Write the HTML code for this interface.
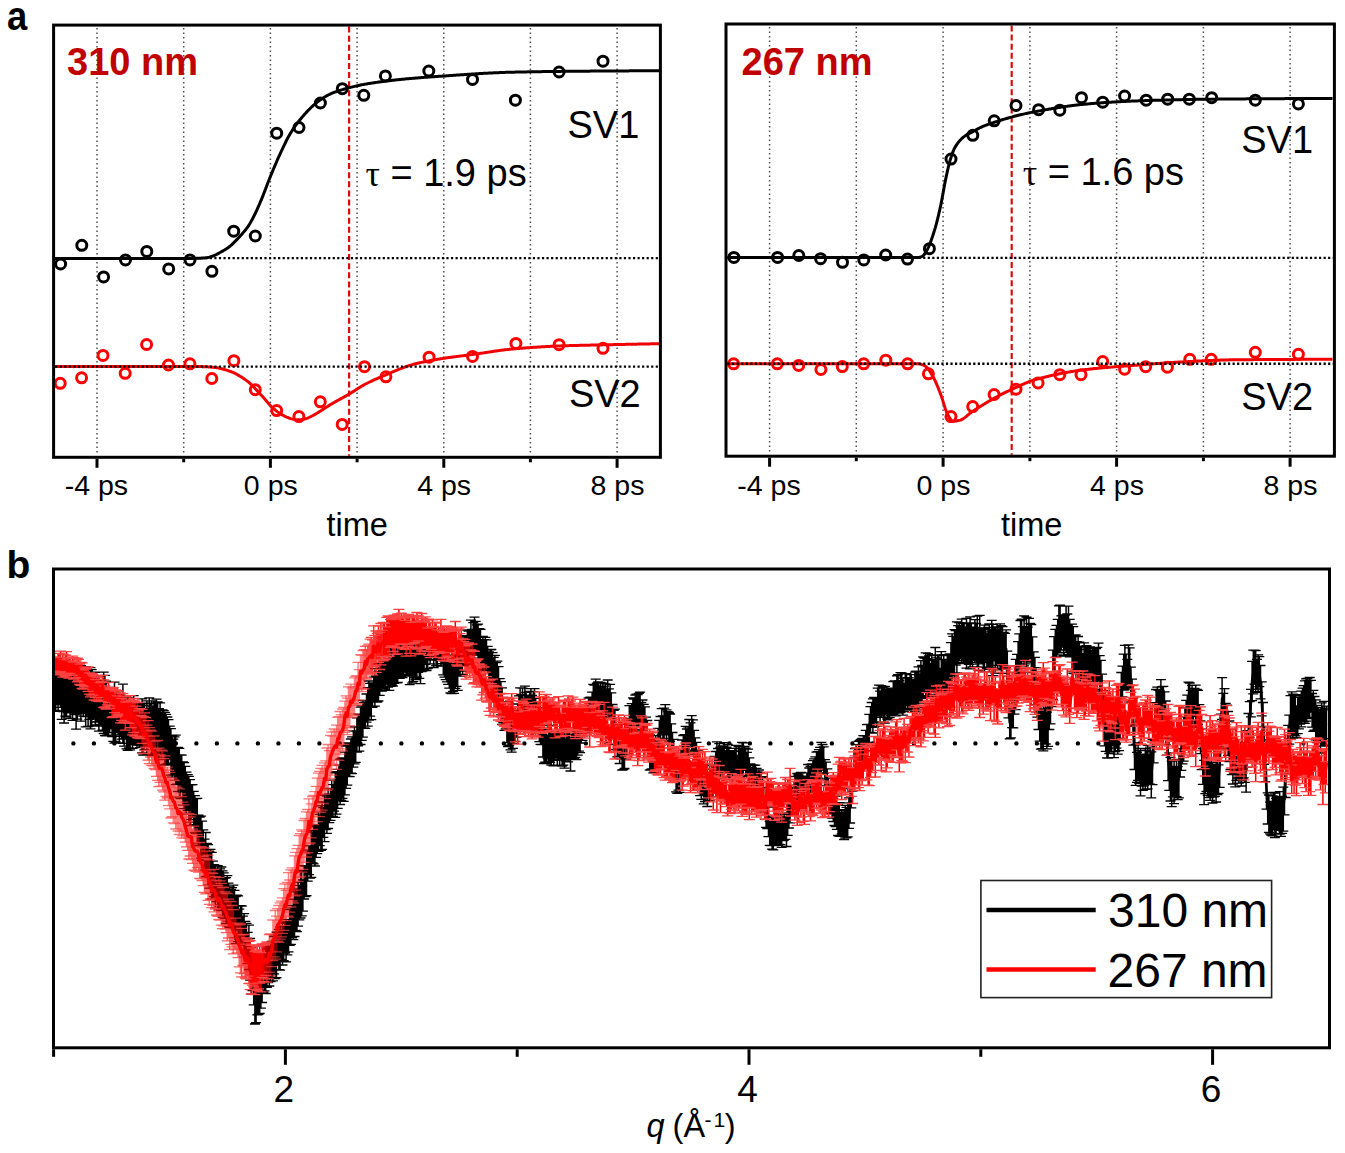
<!DOCTYPE html><html><head><meta charset="utf-8"><style>html,body{margin:0;padding:0;background:#fff;}body{width:1345px;height:1153px;overflow:hidden;}svg{display:block;}text{font-family:"Liberation Sans",sans-serif;}</style></head><body>
<svg width="1345" height="1153" viewBox="0 0 1345 1153">
<rect width="1345" height="1153" fill="#fff"/>
<line x1="97.0" y1="28.1" x2="97.0" y2="455.3" stroke="#505050" stroke-width="1.5" stroke-dasharray="1.4 3.1"/>
<line x1="183.7" y1="28.1" x2="183.7" y2="455.3" stroke="#505050" stroke-width="1.5" stroke-dasharray="1.4 3.1"/>
<line x1="270.4" y1="28.1" x2="270.4" y2="455.3" stroke="#505050" stroke-width="1.5" stroke-dasharray="1.4 3.1"/>
<line x1="357.1" y1="28.1" x2="357.1" y2="455.3" stroke="#505050" stroke-width="1.5" stroke-dasharray="1.4 3.1"/>
<line x1="443.8" y1="28.1" x2="443.8" y2="455.3" stroke="#505050" stroke-width="1.5" stroke-dasharray="1.4 3.1"/>
<line x1="530.4" y1="28.1" x2="530.4" y2="455.3" stroke="#505050" stroke-width="1.5" stroke-dasharray="1.4 3.1"/>
<line x1="617.1" y1="28.1" x2="617.1" y2="455.3" stroke="#505050" stroke-width="1.5" stroke-dasharray="1.4 3.1"/>
<text x="67.1" y="75.4" font-size="38" font-weight="bold" fill="#c00000">310 nm</text>
<text x="567.5" y="137.6" font-size="38">SV1</text>
<text x="568.9" y="406.7" font-size="38">SV2</text>
<text x="365.4" y="186.1" font-size="38"><tspan font-family="Liberation Serif" font-size="36">&#964;</tspan> = 1.9 ps</text>
<line x1="349.1" y1="26.6" x2="349.1" y2="455.8" stroke="#dc0a0a" stroke-width="2.2" stroke-dasharray="6 3.1"/>
<path d="M54.6 258.50L55.6 258.50L56.6 258.50L57.6 258.50L58.6 258.50L59.6 258.50L60.6 258.50L61.6 258.50L62.6 258.50L63.6 258.50L64.6 258.50L65.6 258.50L66.6 258.50L67.6 258.50L68.6 258.50L69.6 258.50L70.6 258.50L71.6 258.50L72.6 258.50L73.6 258.50L74.6 258.50L75.6 258.50L76.6 258.50L77.6 258.50L78.6 258.50L79.6 258.50L80.6 258.50L81.6 258.50L82.6 258.50L83.6 258.50L84.6 258.50L85.6 258.50L86.6 258.50L87.6 258.50L88.6 258.50L89.6 258.50L90.6 258.50L91.6 258.50L92.6 258.50L93.6 258.50L94.6 258.50L95.6 258.50L96.6 258.50L97.6 258.50L98.6 258.50L99.6 258.50L100.6 258.50L101.6 258.50L102.6 258.50L103.6 258.50L104.6 258.50L105.6 258.50L106.6 258.50L107.6 258.50L108.6 258.50L109.6 258.50L110.6 258.50L111.6 258.50L112.6 258.50L113.6 258.50L114.6 258.50L115.6 258.50L116.6 258.50L117.6 258.50L118.6 258.50L119.6 258.50L120.6 258.50L121.6 258.50L122.6 258.50L123.6 258.50L124.6 258.50L125.6 258.50L126.6 258.50L127.6 258.50L128.6 258.50L129.6 258.50L130.6 258.50L131.6 258.50L132.6 258.50L133.6 258.50L134.6 258.50L135.6 258.50L136.6 258.50L137.6 258.50L138.6 258.50L139.6 258.50L140.6 258.50L141.6 258.50L142.6 258.50L143.6 258.50L144.6 258.50L145.6 258.50L146.6 258.50L147.6 258.50L148.6 258.50L149.6 258.50L150.6 258.50L151.6 258.50L152.6 258.50L153.6 258.50L154.6 258.50L155.6 258.50L156.6 258.50L157.6 258.50L158.6 258.50L159.6 258.50L160.6 258.50L161.6 258.50L162.6 258.50L163.6 258.50L164.6 258.50L165.6 258.50L166.6 258.50L167.6 258.50L168.6 258.50L169.6 258.50L170.6 258.50L171.6 258.50L172.6 258.50L173.6 258.50L174.6 258.50L175.6 258.50L176.6 258.50L177.6 258.50L178.6 258.50L179.6 258.50L180.6 258.50L181.6 258.50L182.6 258.50L183.6 258.50L184.6 258.50L185.6 258.50L186.6 258.50L187.6 258.50L188.6 258.50L189.6 258.50L190.6 258.50L191.6 258.49L192.6 258.48L193.6 258.46L194.6 258.44L195.6 258.41L196.6 258.37L197.6 258.33L198.6 258.29L199.6 258.24L200.6 258.18L201.6 258.12L202.6 258.05L203.6 257.98L204.6 257.91L205.6 257.83L206.6 257.74L207.6 257.58L208.6 257.36L209.6 257.10L210.6 256.79L211.6 256.46L212.6 256.11L213.6 255.74L214.6 255.37L215.6 254.94L216.6 254.45L217.6 253.92L218.6 253.37L219.6 252.80L220.6 252.23L221.6 251.66L222.6 251.10L223.6 250.52L224.6 249.93L225.6 249.32L226.6 248.68L227.6 248.01L228.6 247.30L229.6 246.54L230.6 245.70L231.6 244.81L232.6 243.87L233.6 242.90L234.6 241.91L235.6 240.90L236.6 239.89L237.6 238.86L238.6 237.80L239.6 236.71L240.6 235.60L241.6 234.46L242.6 233.30L243.6 232.14L244.6 230.96L245.6 229.74L246.6 228.45L247.6 227.08L248.6 225.60L249.6 224.01L250.6 222.32L251.6 220.53L252.6 218.68L253.6 216.76L254.6 214.80L255.6 212.78L256.6 210.66L257.6 208.44L258.6 206.16L259.6 203.82L260.6 201.45L261.6 199.06L262.6 196.58L263.6 194.04L264.6 191.45L265.6 188.84L266.6 186.21L267.6 183.59L268.6 181.01L269.6 178.47L270.6 176.00L271.6 173.58L272.6 171.17L273.6 168.78L274.6 166.41L275.6 164.06L276.6 161.75L277.6 159.47L278.6 157.22L279.6 155.02L280.6 152.85L281.6 150.69L282.6 148.53L283.6 146.39L284.6 144.28L285.6 142.22L286.6 140.21L287.6 138.27L288.6 136.42L289.6 134.67L290.6 133.02L291.6 131.42L292.6 129.87L293.6 128.37L294.6 126.92L295.6 125.50L296.6 124.13L297.6 122.79L298.6 121.50L299.6 120.23L300.6 119.00L301.6 117.81L302.6 116.63L303.6 115.48L304.6 114.34L305.6 113.22L306.6 112.12L307.6 111.05L308.6 109.99L309.6 108.97L310.6 107.97L311.6 107.00L312.6 106.06L313.6 105.15L314.6 104.28L315.6 103.45L316.6 102.65L317.6 101.89L318.6 101.14L319.6 100.41L320.6 99.70L321.6 99.01L322.6 98.33L323.6 97.68L324.6 97.05L325.6 96.44L326.6 95.86L327.6 95.30L328.6 94.77L329.6 94.28L330.6 93.81L331.6 93.37L332.6 92.96L333.6 92.56L334.6 92.18L335.6 91.81L336.6 91.46L337.6 91.12L338.6 90.79L339.6 90.47L340.6 90.16L341.6 89.86L342.6 89.57L343.6 89.28L344.6 89.00L345.6 88.73L346.6 88.46L347.6 88.19L348.6 87.92L349.6 87.66L350.6 87.39L351.6 87.14L352.6 86.88L353.6 86.63L354.6 86.39L355.6 86.15L356.6 85.92L357.6 85.69L358.6 85.47L359.6 85.25L360.6 85.04L361.6 84.84L362.6 84.65L363.6 84.46L364.6 84.28L365.6 84.11L366.6 83.94L367.6 83.77L368.6 83.60L369.6 83.44L370.6 83.28L371.6 83.12L372.6 82.96L373.6 82.81L374.6 82.66L375.6 82.51L376.6 82.36L377.6 82.22L378.6 82.07L379.6 81.93L380.6 81.80L381.6 81.66L382.6 81.53L383.6 81.40L384.6 81.27L385.6 81.14L386.6 81.01L387.6 80.89L388.6 80.77L389.6 80.65L390.6 80.53L391.6 80.41L392.6 80.30L393.6 80.18L394.6 80.07L395.6 79.96L396.6 79.86L397.6 79.75L398.6 79.64L399.6 79.54L400.6 79.44L401.6 79.34L402.6 79.24L403.6 79.14L404.6 79.05L405.6 78.95L406.6 78.86L407.6 78.77L408.6 78.67L409.6 78.59L410.6 78.50L411.6 78.41L412.6 78.32L413.6 78.24L414.6 78.15L415.6 78.07L416.6 77.99L417.6 77.91L418.6 77.83L419.6 77.75L420.6 77.67L421.6 77.59L422.6 77.51L423.6 77.44L424.6 77.36L425.6 77.29L426.6 77.21L427.6 77.14L428.6 77.07L429.6 76.99L430.6 76.92L431.6 76.85L432.6 76.78L433.6 76.71L434.6 76.64L435.6 76.57L436.6 76.50L437.6 76.43L438.6 76.37L439.6 76.30L440.6 76.23L441.6 76.16L442.6 76.09L443.6 76.02L444.6 75.95L445.6 75.88L446.6 75.81L447.6 75.74L448.6 75.67L449.6 75.60L450.6 75.53L451.6 75.46L452.6 75.39L453.6 75.32L454.6 75.25L455.6 75.18L456.6 75.11L457.6 75.04L458.6 74.97L459.6 74.90L460.6 74.83L461.6 74.76L462.6 74.69L463.6 74.63L464.6 74.56L465.6 74.49L466.6 74.42L467.6 74.36L468.6 74.29L469.6 74.22L470.6 74.16L471.6 74.09L472.6 74.03L473.6 73.97L474.6 73.90L475.6 73.84L476.6 73.78L477.6 73.72L478.6 73.66L479.6 73.60L480.6 73.54L481.6 73.48L482.6 73.42L483.6 73.36L484.6 73.31L485.6 73.25L486.6 73.20L487.6 73.15L488.6 73.09L489.6 73.04L490.6 72.99L491.6 72.94L492.6 72.89L493.6 72.85L494.6 72.80L495.6 72.75L496.6 72.71L497.6 72.67L498.6 72.63L499.6 72.59L500.6 72.55L501.6 72.51L502.6 72.47L503.6 72.44L504.6 72.40L505.6 72.37L506.6 72.34L507.6 72.31L508.6 72.28L509.6 72.25L510.6 72.23L511.6 72.20L512.6 72.18L513.6 72.16L514.6 72.13L515.6 72.11L516.6 72.09L517.6 72.07L518.6 72.05L519.6 72.03L520.6 72.01L521.6 71.98L522.6 71.96L523.6 71.94L524.6 71.93L525.6 71.91L526.6 71.89L527.6 71.87L528.6 71.85L529.6 71.83L530.6 71.81L531.6 71.79L532.6 71.78L533.6 71.76L534.6 71.74L535.6 71.73L536.6 71.71L537.6 71.69L538.6 71.68L539.6 71.66L540.6 71.65L541.6 71.63L542.6 71.62L543.6 71.60L544.6 71.59L545.6 71.57L546.6 71.56L547.6 71.54L548.6 71.53L549.6 71.52L550.6 71.50L551.6 71.49L552.6 71.48L553.6 71.46L554.6 71.45L555.6 71.44L556.6 71.43L557.6 71.41L558.6 71.40L559.6 71.39L560.6 71.38L561.6 71.37L562.6 71.36L563.6 71.35L564.6 71.34L565.6 71.33L566.6 71.32L567.6 71.31L568.6 71.30L569.6 71.29L570.6 71.28L571.6 71.27L572.6 71.26L573.6 71.25L574.6 71.24L575.6 71.24L576.6 71.23L577.6 71.22L578.6 71.21L579.6 71.20L580.6 71.20L581.6 71.19L582.6 71.18L583.6 71.17L584.6 71.17L585.6 71.16L586.6 71.15L587.6 71.14L588.6 71.13L589.6 71.13L590.6 71.12L591.6 71.11L592.6 71.10L593.6 71.10L594.6 71.09L595.6 71.08L596.6 71.08L597.6 71.07L598.6 71.06L599.6 71.05L600.6 71.05L601.6 71.04L602.6 71.03L603.6 71.03L604.6 71.02L605.6 71.01L606.6 71.01L607.6 71.00L608.6 70.99L609.6 70.99L610.6 70.98L611.6 70.97L612.6 70.97L613.6 70.96L614.6 70.95L615.6 70.95L616.6 70.94L617.6 70.94L618.6 70.93L619.6 70.92L620.6 70.92L621.6 70.91L622.6 70.91L623.6 70.90L624.6 70.90L625.6 70.89L626.6 70.89L627.6 70.88L628.6 70.88L629.6 70.87L630.6 70.87L631.6 70.86L632.6 70.86L633.6 70.86L634.6 70.85L635.6 70.85L636.6 70.84L637.6 70.84L638.6 70.84L639.6 70.83L640.6 70.83L641.6 70.83L642.6 70.82L643.6 70.82L644.6 70.82L645.6 70.82L646.6 70.81L647.6 70.81L648.6 70.81L649.6 70.81L650.6 70.81L651.6 70.81L652.6 70.80L653.6 70.80L654.6 70.80L655.6 70.80L656.6 70.80L657.6 70.80L658.6 70.80L659.0 70.80" fill="none" stroke="#000" stroke-width="3" stroke-linejoin="round"/>
<path d="M54.6 366.60L55.6 366.60L56.6 366.60L57.6 366.60L58.6 366.60L59.6 366.60L60.6 366.60L61.6 366.60L62.6 366.60L63.6 366.60L64.6 366.60L65.6 366.60L66.6 366.60L67.6 366.60L68.6 366.60L69.6 366.60L70.6 366.60L71.6 366.60L72.6 366.60L73.6 366.60L74.6 366.60L75.6 366.60L76.6 366.60L77.6 366.60L78.6 366.60L79.6 366.60L80.6 366.60L81.6 366.60L82.6 366.60L83.6 366.60L84.6 366.60L85.6 366.60L86.6 366.60L87.6 366.60L88.6 366.60L89.6 366.60L90.6 366.60L91.6 366.60L92.6 366.60L93.6 366.60L94.6 366.60L95.6 366.60L96.6 366.60L97.6 366.60L98.6 366.60L99.6 366.60L100.6 366.60L101.6 366.60L102.6 366.60L103.6 366.60L104.6 366.60L105.6 366.60L106.6 366.60L107.6 366.60L108.6 366.60L109.6 366.60L110.6 366.60L111.6 366.60L112.6 366.60L113.6 366.60L114.6 366.60L115.6 366.60L116.6 366.60L117.6 366.60L118.6 366.60L119.6 366.60L120.6 366.60L121.6 366.60L122.6 366.60L123.6 366.60L124.6 366.60L125.6 366.60L126.6 366.60L127.6 366.60L128.6 366.60L129.6 366.60L130.6 366.60L131.6 366.60L132.6 366.60L133.6 366.60L134.6 366.60L135.6 366.60L136.6 366.60L137.6 366.60L138.6 366.60L139.6 366.60L140.6 366.60L141.6 366.60L142.6 366.60L143.6 366.60L144.6 366.60L145.6 366.60L146.6 366.60L147.6 366.60L148.6 366.60L149.6 366.60L150.6 366.60L151.6 366.60L152.6 366.60L153.6 366.60L154.6 366.60L155.6 366.60L156.6 366.60L157.6 366.60L158.6 366.60L159.6 366.60L160.6 366.60L161.6 366.60L162.6 366.60L163.6 366.60L164.6 366.60L165.6 366.60L166.6 366.60L167.6 366.60L168.6 366.60L169.6 366.60L170.6 366.60L171.6 366.60L172.6 366.60L173.6 366.60L174.6 366.60L175.6 366.60L176.6 366.60L177.6 366.60L178.6 366.60L179.6 366.60L180.6 366.60L181.6 366.60L182.6 366.60L183.6 366.60L184.6 366.60L185.6 366.60L186.6 366.60L187.6 366.60L188.6 366.60L189.6 366.60L190.6 366.60L191.6 366.60L192.6 366.60L193.6 366.60L194.6 366.60L195.6 366.60L196.6 366.60L197.6 366.60L198.6 366.60L199.6 366.60L200.6 366.60L201.6 366.61L202.6 366.64L203.6 366.67L204.6 366.71L205.6 366.76L206.6 366.81L207.6 366.87L208.6 366.94L209.6 367.02L210.6 367.10L211.6 367.19L212.6 367.27L213.6 367.37L214.6 367.46L215.6 367.56L216.6 367.69L217.6 367.84L218.6 368.02L219.6 368.23L220.6 368.45L221.6 368.69L222.6 368.95L223.6 369.23L224.6 369.52L225.6 369.83L226.6 370.15L227.6 370.48L228.6 370.81L229.6 371.16L230.6 371.51L231.6 371.88L232.6 372.29L233.6 372.73L234.6 373.19L235.6 373.69L236.6 374.21L237.6 374.76L238.6 375.33L239.6 375.92L240.6 376.54L241.6 377.17L242.6 377.82L243.6 378.50L244.6 379.19L245.6 379.89L246.6 380.61L247.6 381.35L248.6 382.15L249.6 383.01L250.6 383.92L251.6 384.88L252.6 385.88L253.6 386.90L254.6 387.96L255.6 389.03L256.6 390.12L257.6 391.21L258.6 392.30L259.6 393.39L260.6 394.46L261.6 395.52L262.6 396.61L263.6 397.73L264.6 398.89L265.6 400.05L266.6 401.23L267.6 402.40L268.6 403.55L269.6 404.67L270.6 405.75L271.6 406.78L272.6 407.75L273.6 408.65L274.6 409.51L275.6 410.34L276.6 411.12L277.6 411.87L278.6 412.58L279.6 413.25L280.6 413.87L281.6 414.48L282.6 415.06L283.6 415.61L284.6 416.13L285.6 416.62L286.6 417.07L287.6 417.48L288.6 417.88L289.6 418.26L290.6 418.61L291.6 418.91L292.6 419.13L293.6 419.29L294.6 419.43L295.6 419.56L296.6 419.66L297.6 419.74L298.6 419.79L299.6 419.80L300.6 419.73L301.6 419.60L302.6 419.42L303.6 419.20L304.6 418.96L305.6 418.70L306.6 418.43L307.6 418.10L308.6 417.70L309.6 417.25L310.6 416.76L311.6 416.25L312.6 415.72L313.6 415.20L314.6 414.66L315.6 414.08L316.6 413.47L317.6 412.84L318.6 412.20L319.6 411.55L320.6 410.90L321.6 410.25L322.6 409.62L323.6 408.98L324.6 408.33L325.6 407.68L326.6 407.03L327.6 406.39L328.6 405.75L329.6 405.13L330.6 404.52L331.6 403.92L332.6 403.34L333.6 402.76L334.6 402.20L335.6 401.63L336.6 401.08L337.6 400.52L338.6 399.98L339.6 399.43L340.6 398.88L341.6 398.34L342.6 397.79L343.6 397.24L344.6 396.68L345.6 396.13L346.6 395.56L347.6 394.99L348.6 394.41L349.6 393.82L350.6 393.22L351.6 392.60L352.6 391.97L353.6 391.33L354.6 390.68L355.6 390.03L356.6 389.38L357.6 388.73L358.6 388.09L359.6 387.46L360.6 386.84L361.6 386.24L362.6 385.65L363.6 385.09L364.6 384.55L365.6 384.02L366.6 383.51L367.6 383.00L368.6 382.50L369.6 382.01L370.6 381.53L371.6 381.05L372.6 380.58L373.6 380.12L374.6 379.67L375.6 379.21L376.6 378.77L377.6 378.33L378.6 377.89L379.6 377.46L380.6 377.03L381.6 376.61L382.6 376.18L383.6 375.76L384.6 375.34L385.6 374.92L386.6 374.51L387.6 374.09L388.6 373.67L389.6 373.24L390.6 372.82L391.6 372.40L392.6 371.97L393.6 371.55L394.6 371.13L395.6 370.71L396.6 370.30L397.6 369.89L398.6 369.48L399.6 369.08L400.6 368.68L401.6 368.29L402.6 367.91L403.6 367.53L404.6 367.16L405.6 366.80L406.6 366.45L407.6 366.11L408.6 365.78L409.6 365.46L410.6 365.15L411.6 364.85L412.6 364.57L413.6 364.30L414.6 364.04L415.6 363.78L416.6 363.54L417.6 363.29L418.6 363.05L419.6 362.82L420.6 362.59L421.6 362.36L422.6 362.14L423.6 361.93L424.6 361.72L425.6 361.51L426.6 361.31L427.6 361.11L428.6 360.91L429.6 360.72L430.6 360.53L431.6 360.34L432.6 360.16L433.6 359.98L434.6 359.80L435.6 359.63L436.6 359.45L437.6 359.28L438.6 359.12L439.6 358.95L440.6 358.79L441.6 358.62L442.6 358.46L443.6 358.31L444.6 358.15L445.6 358.00L446.6 357.85L447.6 357.70L448.6 357.56L449.6 357.42L450.6 357.29L451.6 357.15L452.6 357.02L453.6 356.89L454.6 356.76L455.6 356.63L456.6 356.50L457.6 356.38L458.6 356.25L459.6 356.13L460.6 356.01L461.6 355.88L462.6 355.76L463.6 355.64L464.6 355.51L465.6 355.39L466.6 355.26L467.6 355.14L468.6 355.01L469.6 354.88L470.6 354.75L471.6 354.62L472.6 354.49L473.6 354.35L474.6 354.21L475.6 354.07L476.6 353.93L477.6 353.78L478.6 353.63L479.6 353.49L480.6 353.34L481.6 353.18L482.6 353.03L483.6 352.88L484.6 352.73L485.6 352.57L486.6 352.42L487.6 352.26L488.6 352.11L489.6 351.96L490.6 351.81L491.6 351.65L492.6 351.50L493.6 351.35L494.6 351.21L495.6 351.06L496.6 350.92L497.6 350.77L498.6 350.63L499.6 350.50L500.6 350.36L501.6 350.23L502.6 350.10L503.6 349.97L504.6 349.85L505.6 349.73L506.6 349.62L507.6 349.51L508.6 349.40L509.6 349.30L510.6 349.20L511.6 349.11L512.6 349.02L513.6 348.93L514.6 348.84L515.6 348.76L516.6 348.67L517.6 348.59L518.6 348.50L519.6 348.42L520.6 348.33L521.6 348.25L522.6 348.17L523.6 348.09L524.6 348.01L525.6 347.94L526.6 347.86L527.6 347.78L528.6 347.71L529.6 347.63L530.6 347.56L531.6 347.49L532.6 347.42L533.6 347.35L534.6 347.28L535.6 347.21L536.6 347.14L537.6 347.08L538.6 347.01L539.6 346.95L540.6 346.89L541.6 346.83L542.6 346.77L543.6 346.71L544.6 346.65L545.6 346.60L546.6 346.54L547.6 346.49L548.6 346.44L549.6 346.38L550.6 346.33L551.6 346.29L552.6 346.24L553.6 346.19L554.6 346.15L555.6 346.10L556.6 346.06L557.6 346.02L558.6 345.98L559.6 345.94L560.6 345.91L561.6 345.87L562.6 345.84L563.6 345.80L564.6 345.77L565.6 345.74L566.6 345.71L567.6 345.68L568.6 345.65L569.6 345.62L570.6 345.59L571.6 345.56L572.6 345.53L573.6 345.50L574.6 345.48L575.6 345.45L576.6 345.43L577.6 345.40L578.6 345.38L579.6 345.35L580.6 345.33L581.6 345.30L582.6 345.28L583.6 345.26L584.6 345.23L585.6 345.21L586.6 345.19L587.6 345.17L588.6 345.15L589.6 345.13L590.6 345.10L591.6 345.08L592.6 345.06L593.6 345.04L594.6 345.02L595.6 345.00L596.6 344.98L597.6 344.96L598.6 344.94L599.6 344.92L600.6 344.90L601.6 344.88L602.6 344.86L603.6 344.84L604.6 344.81L605.6 344.79L606.6 344.77L607.6 344.75L608.6 344.73L609.6 344.71L610.6 344.68L611.6 344.66L612.6 344.64L613.6 344.62L614.6 344.60L615.6 344.57L616.6 344.55L617.6 344.53L618.6 344.51L619.6 344.49L620.6 344.47L621.6 344.44L622.6 344.42L623.6 344.40L624.6 344.38L625.6 344.36L626.6 344.34L627.6 344.32L628.6 344.30L629.6 344.28L630.6 344.26L631.6 344.23L632.6 344.21L633.6 344.19L634.6 344.17L635.6 344.15L636.6 344.13L637.6 344.11L638.6 344.09L639.6 344.07L640.6 344.05L641.6 344.03L642.6 344.01L643.6 343.99L644.6 343.97L645.6 343.95L646.6 343.93L647.6 343.91L648.6 343.90L649.6 343.88L650.6 343.86L651.6 343.84L652.6 343.82L653.6 343.80L654.6 343.78L655.6 343.76L656.6 343.74L657.6 343.73L658.6 343.71L659.0 343.70" fill="none" stroke="#f00000" stroke-width="3" stroke-linejoin="round"/>
<circle cx="60.6" cy="264.0" r="5" fill="none" stroke="#000" stroke-width="3"/>
<circle cx="81.8" cy="245.3" r="5" fill="none" stroke="#000" stroke-width="3"/>
<circle cx="103.6" cy="276.9" r="5" fill="none" stroke="#000" stroke-width="3"/>
<circle cx="125.5" cy="259.9" r="5" fill="none" stroke="#000" stroke-width="3"/>
<circle cx="146.8" cy="251.4" r="5" fill="none" stroke="#000" stroke-width="3"/>
<circle cx="168.7" cy="268.9" r="5" fill="none" stroke="#000" stroke-width="3"/>
<circle cx="190.0" cy="259.9" r="5" fill="none" stroke="#000" stroke-width="3"/>
<circle cx="211.9" cy="271.3" r="5" fill="none" stroke="#000" stroke-width="3"/>
<circle cx="233.7" cy="231.2" r="5" fill="none" stroke="#000" stroke-width="3"/>
<circle cx="255.3" cy="236.0" r="5" fill="none" stroke="#000" stroke-width="3"/>
<circle cx="276.7" cy="133.2" r="5" fill="none" stroke="#000" stroke-width="3"/>
<circle cx="299.0" cy="127.5" r="5" fill="none" stroke="#000" stroke-width="3"/>
<circle cx="320.4" cy="103.0" r="5" fill="none" stroke="#000" stroke-width="3"/>
<circle cx="342.3" cy="88.7" r="5" fill="none" stroke="#000" stroke-width="3"/>
<circle cx="363.8" cy="95.3" r="5" fill="none" stroke="#000" stroke-width="3"/>
<circle cx="385.4" cy="75.9" r="5" fill="none" stroke="#000" stroke-width="3"/>
<circle cx="428.8" cy="71.0" r="5" fill="none" stroke="#000" stroke-width="3"/>
<circle cx="472.5" cy="79.4" r="5" fill="none" stroke="#000" stroke-width="3"/>
<circle cx="515.4" cy="100.2" r="5" fill="none" stroke="#000" stroke-width="3"/>
<circle cx="559.1" cy="72.0" r="5" fill="none" stroke="#000" stroke-width="3"/>
<circle cx="603.0" cy="61.2" r="5" fill="none" stroke="#000" stroke-width="3"/>
<circle cx="60.2" cy="383.3" r="5" fill="none" stroke="#ff0000" stroke-width="3"/>
<circle cx="81.6" cy="377.8" r="5" fill="none" stroke="#ff0000" stroke-width="3"/>
<circle cx="103.0" cy="355.4" r="5" fill="none" stroke="#ff0000" stroke-width="3"/>
<circle cx="125.2" cy="373.3" r="5" fill="none" stroke="#ff0000" stroke-width="3"/>
<circle cx="146.6" cy="344.5" r="5" fill="none" stroke="#ff0000" stroke-width="3"/>
<circle cx="168.5" cy="365.0" r="5" fill="none" stroke="#ff0000" stroke-width="3"/>
<circle cx="189.9" cy="363.8" r="5" fill="none" stroke="#ff0000" stroke-width="3"/>
<circle cx="211.8" cy="378.5" r="5" fill="none" stroke="#ff0000" stroke-width="3"/>
<circle cx="233.9" cy="360.7" r="5" fill="none" stroke="#ff0000" stroke-width="3"/>
<circle cx="255.3" cy="389.7" r="5" fill="none" stroke="#ff0000" stroke-width="3"/>
<circle cx="276.7" cy="410.6" r="5" fill="none" stroke="#ff0000" stroke-width="3"/>
<circle cx="298.9" cy="416.6" r="5" fill="none" stroke="#ff0000" stroke-width="3"/>
<circle cx="320.3" cy="401.8" r="5" fill="none" stroke="#ff0000" stroke-width="3"/>
<circle cx="342.2" cy="424.4" r="5" fill="none" stroke="#ff0000" stroke-width="3"/>
<circle cx="364.5" cy="366.7" r="5" fill="none" stroke="#ff0000" stroke-width="3"/>
<circle cx="385.9" cy="376.8" r="5" fill="none" stroke="#ff0000" stroke-width="3"/>
<circle cx="429.1" cy="357.2" r="5" fill="none" stroke="#ff0000" stroke-width="3"/>
<circle cx="472.5" cy="356.4" r="5" fill="none" stroke="#ff0000" stroke-width="3"/>
<circle cx="515.9" cy="343.4" r="5" fill="none" stroke="#ff0000" stroke-width="3"/>
<circle cx="559.1" cy="344.7" r="5" fill="none" stroke="#ff0000" stroke-width="3"/>
<circle cx="603.0" cy="348.3" r="5" fill="none" stroke="#ff0000" stroke-width="3"/>
<line x1="55.1" y1="258.1" x2="658.9" y2="258.1" stroke="#000" stroke-width="2.4" stroke-dasharray="2.2 2.35"/>
<line x1="55.1" y1="366.6" x2="658.9" y2="366.6" stroke="#000" stroke-width="2.4" stroke-dasharray="2.2 2.35"/>
<rect x="53.6" y="25.1" width="606.8" height="432.2" fill="none" stroke="#000" stroke-width="3"/>
<line x1="97.0" y1="458.8" x2="97.0" y2="467.8" stroke="#000" stroke-width="3"/>
<line x1="183.7" y1="458.8" x2="183.7" y2="462.3" stroke="#000" stroke-width="3"/>
<line x1="270.4" y1="458.8" x2="270.4" y2="467.8" stroke="#000" stroke-width="3"/>
<line x1="357.1" y1="458.8" x2="357.1" y2="462.3" stroke="#000" stroke-width="3"/>
<line x1="443.8" y1="458.8" x2="443.8" y2="467.8" stroke="#000" stroke-width="3"/>
<line x1="530.4" y1="458.8" x2="530.4" y2="462.3" stroke="#000" stroke-width="3"/>
<line x1="617.1" y1="458.8" x2="617.1" y2="467.8" stroke="#000" stroke-width="3"/>
<text x="96.4" y="495.4" font-size="28.5" text-anchor="middle">-4 ps</text>
<text x="270.8" y="495.4" font-size="28.5" text-anchor="middle">0 ps</text>
<text x="444.2" y="495.4" font-size="28.5" text-anchor="middle">4 ps</text>
<text x="617.5" y="495.4" font-size="28.5" text-anchor="middle">8 ps</text>
<text x="357.1" y="535.6" font-size="32.5" text-anchor="middle">time</text>
<line x1="769.6" y1="27.0" x2="769.6" y2="454.2" stroke="#505050" stroke-width="1.5" stroke-dasharray="1.4 3.1"/>
<line x1="856.3" y1="27.0" x2="856.3" y2="454.2" stroke="#505050" stroke-width="1.5" stroke-dasharray="1.4 3.1"/>
<line x1="943.1" y1="27.0" x2="943.1" y2="454.2" stroke="#505050" stroke-width="1.5" stroke-dasharray="1.4 3.1"/>
<line x1="1029.9" y1="27.0" x2="1029.9" y2="454.2" stroke="#505050" stroke-width="1.5" stroke-dasharray="1.4 3.1"/>
<line x1="1116.6" y1="27.0" x2="1116.6" y2="454.2" stroke="#505050" stroke-width="1.5" stroke-dasharray="1.4 3.1"/>
<line x1="1203.4" y1="27.0" x2="1203.4" y2="454.2" stroke="#505050" stroke-width="1.5" stroke-dasharray="1.4 3.1"/>
<line x1="1290.1" y1="27.0" x2="1290.1" y2="454.2" stroke="#505050" stroke-width="1.5" stroke-dasharray="1.4 3.1"/>
<text x="741.6" y="75.4" font-size="38" font-weight="bold" fill="#c00000">267 nm</text>
<text x="1241.2" y="153.2" font-size="38">SV1</text>
<text x="1241.2" y="409.6" font-size="38">SV2</text>
<text x="1022.7" y="184.9" font-size="38"><tspan font-family="Liberation Serif" font-size="36">&#964;</tspan> = 1.6 ps</text>
<line x1="1011.7" y1="25.5" x2="1011.7" y2="454.7" stroke="#dc0a0a" stroke-width="2.2" stroke-dasharray="6 3.1"/>
<path d="M727.4 257.60L728.4 257.60L729.4 257.60L730.4 257.60L731.4 257.60L732.4 257.60L733.4 257.60L734.4 257.60L735.4 257.60L736.4 257.60L737.4 257.60L738.4 257.60L739.4 257.60L740.4 257.60L741.4 257.60L742.4 257.60L743.4 257.60L744.4 257.60L745.4 257.60L746.4 257.60L747.4 257.60L748.4 257.60L749.4 257.60L750.4 257.60L751.4 257.60L752.4 257.60L753.4 257.60L754.4 257.60L755.4 257.60L756.4 257.60L757.4 257.60L758.4 257.60L759.4 257.60L760.4 257.60L761.4 257.60L762.4 257.60L763.4 257.60L764.4 257.60L765.4 257.60L766.4 257.60L767.4 257.60L768.4 257.60L769.4 257.60L770.4 257.60L771.4 257.60L772.4 257.60L773.4 257.60L774.4 257.60L775.4 257.60L776.4 257.60L777.4 257.60L778.4 257.60L779.4 257.60L780.4 257.60L781.4 257.60L782.4 257.60L783.4 257.60L784.4 257.60L785.4 257.60L786.4 257.60L787.4 257.60L788.4 257.60L789.4 257.60L790.4 257.60L791.4 257.60L792.4 257.60L793.4 257.60L794.4 257.60L795.4 257.60L796.4 257.60L797.4 257.60L798.4 257.60L799.4 257.60L800.4 257.60L801.4 257.60L802.4 257.60L803.4 257.60L804.4 257.60L805.4 257.60L806.4 257.60L807.4 257.60L808.4 257.60L809.4 257.60L810.4 257.60L811.4 257.60L812.4 257.60L813.4 257.60L814.4 257.60L815.4 257.60L816.4 257.60L817.4 257.60L818.4 257.60L819.4 257.60L820.4 257.60L821.4 257.60L822.4 257.60L823.4 257.60L824.4 257.60L825.4 257.60L826.4 257.60L827.4 257.60L828.4 257.60L829.4 257.60L830.4 257.60L831.4 257.60L832.4 257.60L833.4 257.60L834.4 257.60L835.4 257.60L836.4 257.60L837.4 257.60L838.4 257.60L839.4 257.60L840.4 257.60L841.4 257.60L842.4 257.60L843.4 257.60L844.4 257.60L845.4 257.60L846.4 257.60L847.4 257.60L848.4 257.60L849.4 257.60L850.4 257.60L851.4 257.60L852.4 257.60L853.4 257.60L854.4 257.60L855.4 257.60L856.4 257.60L857.4 257.60L858.4 257.60L859.4 257.60L860.4 257.60L861.4 257.60L862.4 257.60L863.4 257.60L864.4 257.60L865.4 257.60L866.4 257.60L867.4 257.60L868.4 257.60L869.4 257.60L870.4 257.60L871.4 257.60L872.4 257.60L873.4 257.60L874.4 257.60L875.4 257.60L876.4 257.60L877.4 257.60L878.4 257.60L879.4 257.60L880.4 257.60L881.4 257.60L882.4 257.60L883.4 257.60L884.4 257.60L885.4 257.60L886.4 257.60L887.4 257.60L888.4 257.60L889.4 257.60L890.4 257.60L891.4 257.60L892.4 257.60L893.4 257.60L894.4 257.60L895.4 257.60L896.4 257.60L897.4 257.60L898.4 257.60L899.4 257.60L900.4 257.60L901.4 257.60L902.4 257.60L903.4 257.60L904.4 257.60L905.4 257.60L906.4 257.60L907.4 257.60L908.4 257.60L909.4 257.60L910.4 257.60L911.4 257.60L912.4 257.60L913.4 257.60L914.4 257.60L915.4 257.60L916.4 257.59L917.4 257.53L918.4 257.40L919.4 257.22L920.4 256.98L921.4 256.69L922.4 256.32L923.4 255.51L924.4 254.29L925.4 252.80L926.4 251.16L927.4 249.45L928.4 247.44L929.4 245.13L930.4 242.58L931.4 239.81L932.4 236.88L933.4 233.81L934.4 230.64L935.4 227.33L936.4 223.71L937.4 219.81L938.4 215.67L939.4 211.34L940.4 206.84L941.4 202.09L942.4 196.77L943.4 191.16L944.4 185.61L945.4 180.48L946.4 175.76L947.4 171.15L948.4 166.79L949.4 162.81L950.4 159.35L951.4 156.18L952.4 153.25L953.4 150.63L954.4 148.42L955.4 146.66L956.4 145.09L957.4 143.63L958.4 142.30L959.4 141.08L960.4 139.95L961.4 138.93L962.4 137.99L963.4 137.13L964.4 136.35L965.4 135.64L966.4 134.99L967.4 134.40L968.4 133.85L969.4 133.33L970.4 132.83L971.4 132.33L972.4 131.83L973.4 131.31L974.4 130.76L975.4 130.21L976.4 129.65L977.4 129.10L978.4 128.56L979.4 128.04L980.4 127.54L981.4 127.07L982.4 126.63L983.4 126.21L984.4 125.80L985.4 125.41L986.4 125.03L987.4 124.66L988.4 124.29L989.4 123.94L990.4 123.59L991.4 123.25L992.4 122.92L993.4 122.59L994.4 122.27L995.4 121.94L996.4 121.62L997.4 121.31L998.4 120.99L999.4 120.67L1000.4 120.36L1001.4 120.05L1002.4 119.74L1003.4 119.43L1004.4 119.13L1005.4 118.83L1006.4 118.53L1007.4 118.24L1008.4 117.95L1009.4 117.66L1010.4 117.38L1011.4 117.11L1012.4 116.84L1013.4 116.57L1014.4 116.31L1015.4 116.05L1016.4 115.80L1017.4 115.55L1018.4 115.31L1019.4 115.06L1020.4 114.82L1021.4 114.58L1022.4 114.35L1023.4 114.12L1024.4 113.89L1025.4 113.66L1026.4 113.44L1027.4 113.23L1028.4 113.01L1029.4 112.80L1030.4 112.60L1031.4 112.39L1032.4 112.19L1033.4 112.00L1034.4 111.81L1035.4 111.63L1036.4 111.44L1037.4 111.26L1038.4 111.07L1039.4 110.89L1040.4 110.71L1041.4 110.53L1042.4 110.35L1043.4 110.17L1044.4 109.99L1045.4 109.81L1046.4 109.63L1047.4 109.45L1048.4 109.28L1049.4 109.10L1050.4 108.93L1051.4 108.76L1052.4 108.59L1053.4 108.42L1054.4 108.25L1055.4 108.08L1056.4 107.92L1057.4 107.76L1058.4 107.59L1059.4 107.43L1060.4 107.28L1061.4 107.12L1062.4 106.97L1063.4 106.82L1064.4 106.67L1065.4 106.52L1066.4 106.37L1067.4 106.23L1068.4 106.09L1069.4 105.95L1070.4 105.82L1071.4 105.69L1072.4 105.56L1073.4 105.43L1074.4 105.30L1075.4 105.18L1076.4 105.06L1077.4 104.95L1078.4 104.84L1079.4 104.73L1080.4 104.62L1081.4 104.52L1082.4 104.42L1083.4 104.32L1084.4 104.23L1085.4 104.14L1086.4 104.05L1087.4 103.96L1088.4 103.87L1089.4 103.79L1090.4 103.70L1091.4 103.62L1092.4 103.53L1093.4 103.45L1094.4 103.37L1095.4 103.29L1096.4 103.21L1097.4 103.13L1098.4 103.06L1099.4 102.98L1100.4 102.91L1101.4 102.83L1102.4 102.76L1103.4 102.69L1104.4 102.62L1105.4 102.55L1106.4 102.48L1107.4 102.41L1108.4 102.34L1109.4 102.28L1110.4 102.21L1111.4 102.15L1112.4 102.09L1113.4 102.03L1114.4 101.97L1115.4 101.91L1116.4 101.85L1117.4 101.79L1118.4 101.74L1119.4 101.68L1120.4 101.63L1121.4 101.58L1122.4 101.52L1123.4 101.47L1124.4 101.43L1125.4 101.38L1126.4 101.33L1127.4 101.29L1128.4 101.24L1129.4 101.20L1130.4 101.16L1131.4 101.12L1132.4 101.08L1133.4 101.04L1134.4 101.00L1135.4 100.97L1136.4 100.93L1137.4 100.90L1138.4 100.86L1139.4 100.83L1140.4 100.79L1141.4 100.76L1142.4 100.72L1143.4 100.69L1144.4 100.66L1145.4 100.62L1146.4 100.59L1147.4 100.56L1148.4 100.52L1149.4 100.49L1150.4 100.46L1151.4 100.43L1152.4 100.40L1153.4 100.37L1154.4 100.34L1155.4 100.31L1156.4 100.28L1157.4 100.25L1158.4 100.22L1159.4 100.19L1160.4 100.16L1161.4 100.13L1162.4 100.10L1163.4 100.07L1164.4 100.05L1165.4 100.02L1166.4 99.99L1167.4 99.97L1168.4 99.94L1169.4 99.92L1170.4 99.89L1171.4 99.87L1172.4 99.84L1173.4 99.82L1174.4 99.79L1175.4 99.77L1176.4 99.75L1177.4 99.72L1178.4 99.70L1179.4 99.68L1180.4 99.66L1181.4 99.63L1182.4 99.61L1183.4 99.59L1184.4 99.57L1185.4 99.55L1186.4 99.53L1187.4 99.51L1188.4 99.50L1189.4 99.48L1190.4 99.46L1191.4 99.44L1192.4 99.43L1193.4 99.41L1194.4 99.39L1195.4 99.38L1196.4 99.36L1197.4 99.35L1198.4 99.33L1199.4 99.32L1200.4 99.30L1201.4 99.29L1202.4 99.28L1203.4 99.26L1204.4 99.25L1205.4 99.24L1206.4 99.23L1207.4 99.22L1208.4 99.21L1209.4 99.20L1210.4 99.19L1211.4 99.18L1212.4 99.17L1213.4 99.16L1214.4 99.15L1215.4 99.14L1216.4 99.13L1217.4 99.12L1218.4 99.11L1219.4 99.10L1220.4 99.10L1221.4 99.09L1222.4 99.08L1223.4 99.07L1224.4 99.06L1225.4 99.05L1226.4 99.04L1227.4 99.03L1228.4 99.02L1229.4 99.01L1230.4 99.01L1231.4 99.00L1232.4 98.99L1233.4 98.98L1234.4 98.97L1235.4 98.96L1236.4 98.95L1237.4 98.95L1238.4 98.94L1239.4 98.93L1240.4 98.92L1241.4 98.91L1242.4 98.90L1243.4 98.90L1244.4 98.89L1245.4 98.88L1246.4 98.87L1247.4 98.86L1248.4 98.86L1249.4 98.85L1250.4 98.84L1251.4 98.83L1252.4 98.83L1253.4 98.82L1254.4 98.81L1255.4 98.80L1256.4 98.80L1257.4 98.79L1258.4 98.78L1259.4 98.78L1260.4 98.77L1261.4 98.76L1262.4 98.76L1263.4 98.75L1264.4 98.74L1265.4 98.74L1266.4 98.73L1267.4 98.72L1268.4 98.72L1269.4 98.71L1270.4 98.70L1271.4 98.70L1272.4 98.69L1273.4 98.69L1274.4 98.68L1275.4 98.67L1276.4 98.67L1277.4 98.66L1278.4 98.66L1279.4 98.65L1280.4 98.65L1281.4 98.64L1282.4 98.64L1283.4 98.63L1284.4 98.63L1285.4 98.62L1286.4 98.62L1287.4 98.61L1288.4 98.61L1289.4 98.60L1290.4 98.60L1291.4 98.59L1292.4 98.59L1293.4 98.58L1294.4 98.58L1295.4 98.58L1296.4 98.57L1297.4 98.57L1298.4 98.57L1299.4 98.56L1300.4 98.56L1301.4 98.55L1302.4 98.55L1303.4 98.55L1304.4 98.54L1305.4 98.54L1306.4 98.54L1307.4 98.54L1308.4 98.53L1309.4 98.53L1310.4 98.53L1311.4 98.53L1312.4 98.52L1313.4 98.52L1314.4 98.52L1315.4 98.52L1316.4 98.52L1317.4 98.51L1318.4 98.51L1319.4 98.51L1320.4 98.51L1321.4 98.51L1322.4 98.51L1323.4 98.50L1324.4 98.50L1325.4 98.50L1326.4 98.50L1327.4 98.50L1328.4 98.50L1329.4 98.50L1330.4 98.50L1331.4 98.50L1332.4 98.50L1332.5 98.50" fill="none" stroke="#000" stroke-width="3" stroke-linejoin="round"/>
<path d="M727.4 363.80L728.4 363.80L729.4 363.80L730.4 363.80L731.4 363.80L732.4 363.80L733.4 363.80L734.4 363.80L735.4 363.80L736.4 363.80L737.4 363.80L738.4 363.80L739.4 363.80L740.4 363.80L741.4 363.80L742.4 363.80L743.4 363.80L744.4 363.80L745.4 363.80L746.4 363.80L747.4 363.80L748.4 363.80L749.4 363.80L750.4 363.80L751.4 363.80L752.4 363.80L753.4 363.80L754.4 363.80L755.4 363.80L756.4 363.80L757.4 363.80L758.4 363.80L759.4 363.80L760.4 363.80L761.4 363.80L762.4 363.80L763.4 363.80L764.4 363.80L765.4 363.80L766.4 363.80L767.4 363.80L768.4 363.80L769.4 363.80L770.4 363.80L771.4 363.80L772.4 363.80L773.4 363.80L774.4 363.80L775.4 363.80L776.4 363.80L777.4 363.80L778.4 363.80L779.4 363.80L780.4 363.80L781.4 363.80L782.4 363.80L783.4 363.80L784.4 363.80L785.4 363.80L786.4 363.80L787.4 363.80L788.4 363.80L789.4 363.80L790.4 363.80L791.4 363.80L792.4 363.80L793.4 363.80L794.4 363.80L795.4 363.80L796.4 363.80L797.4 363.80L798.4 363.80L799.4 363.80L800.4 363.80L801.4 363.80L802.4 363.80L803.4 363.80L804.4 363.80L805.4 363.80L806.4 363.80L807.4 363.80L808.4 363.80L809.4 363.80L810.4 363.80L811.4 363.80L812.4 363.80L813.4 363.80L814.4 363.80L815.4 363.80L816.4 363.80L817.4 363.80L818.4 363.80L819.4 363.80L820.4 363.80L821.4 363.80L822.4 363.80L823.4 363.80L824.4 363.80L825.4 363.80L826.4 363.80L827.4 363.80L828.4 363.80L829.4 363.80L830.4 363.80L831.4 363.80L832.4 363.80L833.4 363.80L834.4 363.80L835.4 363.80L836.4 363.80L837.4 363.80L838.4 363.80L839.4 363.80L840.4 363.80L841.4 363.80L842.4 363.80L843.4 363.80L844.4 363.80L845.4 363.80L846.4 363.80L847.4 363.80L848.4 363.80L849.4 363.80L850.4 363.80L851.4 363.80L852.4 363.80L853.4 363.80L854.4 363.80L855.4 363.80L856.4 363.80L857.4 363.80L858.4 363.80L859.4 363.80L860.4 363.80L861.4 363.80L862.4 363.80L863.4 363.80L864.4 363.80L865.4 363.80L866.4 363.80L867.4 363.80L868.4 363.80L869.4 363.80L870.4 363.80L871.4 363.80L872.4 363.80L873.4 363.80L874.4 363.80L875.4 363.80L876.4 363.80L877.4 363.80L878.4 363.80L879.4 363.80L880.4 363.80L881.4 363.80L882.4 363.80L883.4 363.80L884.4 363.80L885.4 363.80L886.4 363.80L887.4 363.80L888.4 363.80L889.4 363.80L890.4 363.80L891.4 363.80L892.4 363.80L893.4 363.80L894.4 363.80L895.4 363.80L896.4 363.80L897.4 363.80L898.4 363.80L899.4 363.80L900.4 363.80L901.4 363.80L902.4 363.80L903.4 363.80L904.4 363.80L905.4 363.80L906.4 363.80L907.4 363.80L908.4 363.80L909.4 363.80L910.4 363.80L911.4 363.80L912.4 363.80L913.4 363.80L914.4 363.80L915.4 363.80L916.4 363.80L917.4 363.80L918.4 363.81L919.4 363.92L920.4 364.13L921.4 364.43L922.4 364.80L923.4 365.23L924.4 365.70L925.4 366.23L926.4 367.00L927.4 368.05L928.4 369.31L929.4 370.74L930.4 372.29L931.4 373.93L932.4 375.60L933.4 377.32L934.4 379.24L935.4 381.35L936.4 383.61L937.4 386.00L938.4 388.48L939.4 391.04L940.4 393.63L941.4 396.29L942.4 399.32L943.4 402.62L944.4 405.94L945.4 409.05L946.4 411.72L947.4 413.77L948.4 415.73L949.4 417.61L950.4 419.26L951.4 420.51L952.4 421.21L953.4 421.29L954.4 421.23L955.4 421.12L956.4 420.97L957.4 420.79L958.4 420.57L959.4 420.34L960.4 420.09L961.4 419.72L962.4 419.21L963.4 418.59L964.4 417.89L965.4 417.11L966.4 416.29L967.4 415.44L968.4 414.59L969.4 413.75L970.4 412.95L971.4 412.21L972.4 411.54L973.4 410.88L974.4 410.23L975.4 409.58L976.4 408.94L977.4 408.30L978.4 407.66L979.4 407.02L980.4 406.39L981.4 405.77L982.4 405.15L983.4 404.53L984.4 403.92L985.4 403.32L986.4 402.72L987.4 402.13L988.4 401.54L989.4 400.96L990.4 400.38L991.4 399.82L992.4 399.25L993.4 398.70L994.4 398.15L995.4 397.61L996.4 397.07L997.4 396.54L998.4 396.01L999.4 395.48L1000.4 394.96L1001.4 394.45L1002.4 393.94L1003.4 393.43L1004.4 392.93L1005.4 392.44L1006.4 391.95L1007.4 391.46L1008.4 390.98L1009.4 390.50L1010.4 390.03L1011.4 389.56L1012.4 389.09L1013.4 388.64L1014.4 388.18L1015.4 387.73L1016.4 387.27L1017.4 386.82L1018.4 386.36L1019.4 385.90L1020.4 385.44L1021.4 384.98L1022.4 384.53L1023.4 384.09L1024.4 383.65L1025.4 383.21L1026.4 382.79L1027.4 382.38L1028.4 381.97L1029.4 381.58L1030.4 381.21L1031.4 380.85L1032.4 380.51L1033.4 380.18L1034.4 379.87L1035.4 379.59L1036.4 379.31L1037.4 379.03L1038.4 378.76L1039.4 378.48L1040.4 378.22L1041.4 377.95L1042.4 377.69L1043.4 377.44L1044.4 377.19L1045.4 376.94L1046.4 376.69L1047.4 376.45L1048.4 376.21L1049.4 375.97L1050.4 375.74L1051.4 375.51L1052.4 375.28L1053.4 375.06L1054.4 374.84L1055.4 374.62L1056.4 374.41L1057.4 374.20L1058.4 373.99L1059.4 373.79L1060.4 373.59L1061.4 373.39L1062.4 373.20L1063.4 373.01L1064.4 372.82L1065.4 372.64L1066.4 372.46L1067.4 372.28L1068.4 372.11L1069.4 371.93L1070.4 371.77L1071.4 371.60L1072.4 371.44L1073.4 371.28L1074.4 371.13L1075.4 370.97L1076.4 370.82L1077.4 370.68L1078.4 370.53L1079.4 370.39L1080.4 370.26L1081.4 370.12L1082.4 369.99L1083.4 369.86L1084.4 369.74L1085.4 369.61L1086.4 369.49L1087.4 369.38L1088.4 369.26L1089.4 369.15L1090.4 369.04L1091.4 368.93L1092.4 368.82L1093.4 368.71L1094.4 368.61L1095.4 368.51L1096.4 368.41L1097.4 368.31L1098.4 368.21L1099.4 368.12L1100.4 368.03L1101.4 367.93L1102.4 367.84L1103.4 367.75L1104.4 367.66L1105.4 367.58L1106.4 367.49L1107.4 367.41L1108.4 367.32L1109.4 367.24L1110.4 367.16L1111.4 367.08L1112.4 367.00L1113.4 366.92L1114.4 366.84L1115.4 366.76L1116.4 366.68L1117.4 366.60L1118.4 366.53L1119.4 366.45L1120.4 366.37L1121.4 366.30L1122.4 366.22L1123.4 366.15L1124.4 366.07L1125.4 366.00L1126.4 365.92L1127.4 365.84L1128.4 365.77L1129.4 365.69L1130.4 365.62L1131.4 365.54L1132.4 365.46L1133.4 365.39L1134.4 365.31L1135.4 365.23L1136.4 365.15L1137.4 365.07L1138.4 364.99L1139.4 364.92L1140.4 364.84L1141.4 364.76L1142.4 364.68L1143.4 364.60L1144.4 364.52L1145.4 364.44L1146.4 364.37L1147.4 364.29L1148.4 364.21L1149.4 364.13L1150.4 364.06L1151.4 363.98L1152.4 363.90L1153.4 363.83L1154.4 363.75L1155.4 363.68L1156.4 363.60L1157.4 363.53L1158.4 363.45L1159.4 363.38L1160.4 363.31L1161.4 363.24L1162.4 363.16L1163.4 363.09L1164.4 363.02L1165.4 362.95L1166.4 362.88L1167.4 362.82L1168.4 362.75L1169.4 362.68L1170.4 362.62L1171.4 362.55L1172.4 362.49L1173.4 362.42L1174.4 362.36L1175.4 362.30L1176.4 362.24L1177.4 362.18L1178.4 362.12L1179.4 362.06L1180.4 362.01L1181.4 361.95L1182.4 361.90L1183.4 361.85L1184.4 361.79L1185.4 361.74L1186.4 361.69L1187.4 361.64L1188.4 361.59L1189.4 361.54L1190.4 361.48L1191.4 361.43L1192.4 361.38L1193.4 361.33L1194.4 361.28L1195.4 361.22L1196.4 361.17L1197.4 361.12L1198.4 361.07L1199.4 361.02L1200.4 360.97L1201.4 360.92L1202.4 360.87L1203.4 360.82L1204.4 360.77L1205.4 360.72L1206.4 360.67L1207.4 360.63L1208.4 360.58L1209.4 360.54L1210.4 360.49L1211.4 360.45L1212.4 360.41L1213.4 360.36L1214.4 360.32L1215.4 360.28L1216.4 360.25L1217.4 360.21L1218.4 360.17L1219.4 360.14L1220.4 360.10L1221.4 360.07L1222.4 360.04L1223.4 360.01L1224.4 359.98L1225.4 359.96L1226.4 359.93L1227.4 359.91L1228.4 359.89L1229.4 359.87L1230.4 359.85L1231.4 359.84L1232.4 359.82L1233.4 359.81L1234.4 359.80L1235.4 359.79L1236.4 359.78L1237.4 359.77L1238.4 359.76L1239.4 359.75L1240.4 359.74L1241.4 359.73L1242.4 359.72L1243.4 359.71L1244.4 359.70L1245.4 359.70L1246.4 359.69L1247.4 359.68L1248.4 359.67L1249.4 359.66L1250.4 359.65L1251.4 359.64L1252.4 359.64L1253.4 359.63L1254.4 359.62L1255.4 359.61L1256.4 359.60L1257.4 359.60L1258.4 359.59L1259.4 359.58L1260.4 359.57L1261.4 359.57L1262.4 359.56L1263.4 359.55L1264.4 359.54L1265.4 359.54L1266.4 359.53L1267.4 359.52L1268.4 359.52L1269.4 359.51L1270.4 359.50L1271.4 359.50L1272.4 359.49L1273.4 359.49L1274.4 359.48L1275.4 359.47L1276.4 359.47L1277.4 359.46L1278.4 359.46L1279.4 359.45L1280.4 359.44L1281.4 359.44L1282.4 359.43L1283.4 359.43L1284.4 359.42L1285.4 359.42L1286.4 359.41L1287.4 359.41L1288.4 359.40L1289.4 359.40L1290.4 359.39L1291.4 359.39L1292.4 359.39L1293.4 359.38L1294.4 359.38L1295.4 359.37L1296.4 359.37L1297.4 359.37L1298.4 359.36L1299.4 359.36L1300.4 359.36L1301.4 359.35L1302.4 359.35L1303.4 359.35L1304.4 359.34L1305.4 359.34L1306.4 359.34L1307.4 359.33L1308.4 359.33L1309.4 359.33L1310.4 359.33L1311.4 359.32L1312.4 359.32L1313.4 359.32L1314.4 359.32L1315.4 359.32L1316.4 359.31L1317.4 359.31L1318.4 359.31L1319.4 359.31L1320.4 359.31L1321.4 359.31L1322.4 359.31L1323.4 359.30L1324.4 359.30L1325.4 359.30L1326.4 359.30L1327.4 359.30L1328.4 359.30L1329.4 359.30L1330.4 359.30L1331.4 359.30L1332.4 359.30L1332.5 359.30" fill="none" stroke="#f00000" stroke-width="3" stroke-linejoin="round"/>
<circle cx="733.9" cy="257.4" r="5" fill="none" stroke="#000" stroke-width="3"/>
<circle cx="777.6" cy="257.4" r="5" fill="none" stroke="#000" stroke-width="3"/>
<circle cx="798.8" cy="255.5" r="5" fill="none" stroke="#000" stroke-width="3"/>
<circle cx="820.6" cy="258.7" r="5" fill="none" stroke="#000" stroke-width="3"/>
<circle cx="842.5" cy="262.3" r="5" fill="none" stroke="#000" stroke-width="3"/>
<circle cx="863.8" cy="259.9" r="5" fill="none" stroke="#000" stroke-width="3"/>
<circle cx="885.7" cy="255.0" r="5" fill="none" stroke="#000" stroke-width="3"/>
<circle cx="907.5" cy="259.1" r="5" fill="none" stroke="#000" stroke-width="3"/>
<circle cx="929.4" cy="248.7" r="5" fill="none" stroke="#000" stroke-width="3"/>
<circle cx="951.0" cy="159.1" r="5" fill="none" stroke="#000" stroke-width="3"/>
<circle cx="972.8" cy="135.3" r="5" fill="none" stroke="#000" stroke-width="3"/>
<circle cx="994.2" cy="120.8" r="5" fill="none" stroke="#000" stroke-width="3"/>
<circle cx="1016.0" cy="105.5" r="5" fill="none" stroke="#000" stroke-width="3"/>
<circle cx="1038.6" cy="109.7" r="5" fill="none" stroke="#000" stroke-width="3"/>
<circle cx="1059.8" cy="110.2" r="5" fill="none" stroke="#000" stroke-width="3"/>
<circle cx="1081.5" cy="97.7" r="5" fill="none" stroke="#000" stroke-width="3"/>
<circle cx="1102.7" cy="102.2" r="5" fill="none" stroke="#000" stroke-width="3"/>
<circle cx="1124.6" cy="96.0" r="5" fill="none" stroke="#000" stroke-width="3"/>
<circle cx="1146.2" cy="100.2" r="5" fill="none" stroke="#000" stroke-width="3"/>
<circle cx="1167.7" cy="99.2" r="5" fill="none" stroke="#000" stroke-width="3"/>
<circle cx="1189.3" cy="99.2" r="5" fill="none" stroke="#000" stroke-width="3"/>
<circle cx="1211.7" cy="97.7" r="5" fill="none" stroke="#000" stroke-width="3"/>
<circle cx="1255.3" cy="100.2" r="5" fill="none" stroke="#000" stroke-width="3"/>
<circle cx="1298.4" cy="103.9" r="5" fill="none" stroke="#000" stroke-width="3"/>
<circle cx="733.6" cy="363.8" r="5" fill="none" stroke="#ff0000" stroke-width="3"/>
<circle cx="777.3" cy="363.8" r="5" fill="none" stroke="#ff0000" stroke-width="3"/>
<circle cx="798.7" cy="365.4" r="5" fill="none" stroke="#ff0000" stroke-width="3"/>
<circle cx="820.9" cy="369.5" r="5" fill="none" stroke="#ff0000" stroke-width="3"/>
<circle cx="842.3" cy="366.6" r="5" fill="none" stroke="#ff0000" stroke-width="3"/>
<circle cx="863.7" cy="363.8" r="5" fill="none" stroke="#ff0000" stroke-width="3"/>
<circle cx="885.8" cy="360.2" r="5" fill="none" stroke="#ff0000" stroke-width="3"/>
<circle cx="907.7" cy="363.8" r="5" fill="none" stroke="#ff0000" stroke-width="3"/>
<circle cx="928.4" cy="373.8" r="5" fill="none" stroke="#ff0000" stroke-width="3"/>
<circle cx="951.0" cy="416.6" r="5" fill="none" stroke="#ff0000" stroke-width="3"/>
<circle cx="972.7" cy="406.6" r="5" fill="none" stroke="#ff0000" stroke-width="3"/>
<circle cx="994.1" cy="394.5" r="5" fill="none" stroke="#ff0000" stroke-width="3"/>
<circle cx="1016.0" cy="389.2" r="5" fill="none" stroke="#ff0000" stroke-width="3"/>
<circle cx="1038.1" cy="382.9" r="5" fill="none" stroke="#ff0000" stroke-width="3"/>
<circle cx="1059.8" cy="374.7" r="5" fill="none" stroke="#ff0000" stroke-width="3"/>
<circle cx="1081.0" cy="374.7" r="5" fill="none" stroke="#ff0000" stroke-width="3"/>
<circle cx="1102.7" cy="361.5" r="5" fill="none" stroke="#ff0000" stroke-width="3"/>
<circle cx="1124.6" cy="369.2" r="5" fill="none" stroke="#ff0000" stroke-width="3"/>
<circle cx="1145.7" cy="366.7" r="5" fill="none" stroke="#ff0000" stroke-width="3"/>
<circle cx="1167.4" cy="367.2" r="5" fill="none" stroke="#ff0000" stroke-width="3"/>
<circle cx="1189.8" cy="359.3" r="5" fill="none" stroke="#ff0000" stroke-width="3"/>
<circle cx="1211.2" cy="359.3" r="5" fill="none" stroke="#ff0000" stroke-width="3"/>
<circle cx="1255.3" cy="352.3" r="5" fill="none" stroke="#ff0000" stroke-width="3"/>
<circle cx="1298.4" cy="354.3" r="5" fill="none" stroke="#ff0000" stroke-width="3"/>
<line x1="727.5" y1="257.9" x2="1332.9" y2="257.9" stroke="#000" stroke-width="2.4" stroke-dasharray="2.2 2.35"/>
<line x1="727.5" y1="363.7" x2="1332.9" y2="363.7" stroke="#000" stroke-width="2.4" stroke-dasharray="2.2 2.35"/>
<rect x="726.0" y="24.0" width="608.4" height="432.2" fill="none" stroke="#000" stroke-width="3"/>
<line x1="769.6" y1="457.7" x2="769.6" y2="466.7" stroke="#000" stroke-width="3"/>
<line x1="856.3" y1="457.7" x2="856.3" y2="461.2" stroke="#000" stroke-width="3"/>
<line x1="943.1" y1="457.7" x2="943.1" y2="466.7" stroke="#000" stroke-width="3"/>
<line x1="1029.9" y1="457.7" x2="1029.9" y2="461.2" stroke="#000" stroke-width="3"/>
<line x1="1116.6" y1="457.7" x2="1116.6" y2="466.7" stroke="#000" stroke-width="3"/>
<line x1="1203.4" y1="457.7" x2="1203.4" y2="461.2" stroke="#000" stroke-width="3"/>
<line x1="1290.1" y1="457.7" x2="1290.1" y2="466.7" stroke="#000" stroke-width="3"/>
<text x="769.0" y="495.4" font-size="28.5" text-anchor="middle">-4 ps</text>
<text x="943.5" y="495.4" font-size="28.5" text-anchor="middle">0 ps</text>
<text x="1117.0" y="495.4" font-size="28.5" text-anchor="middle">4 ps</text>
<text x="1290.5" y="495.4" font-size="28.5" text-anchor="middle">8 ps</text>
<text x="1031.6" y="535.6" font-size="32.5" text-anchor="middle">time</text>
<text transform="translate(6.9,30) scale(0.91,1)" font-size="40" font-weight="bold">a</text>
<text x="6.5" y="578" font-size="39" font-weight="bold">b</text>
<line x1="73.4" y1="743.4" x2="1325.5" y2="743.4" stroke="#000" stroke-width="4.4" stroke-linecap="round" stroke-dasharray="0 20.5"/>
<defs><clipPath id="cb"><rect x="55.0" y="570.5" width="1273.0" height="475.8"/></clipPath></defs>
<g clip-path="url(#cb)">
<path d="M54.5 660.7V710.5M55.7 669.9V710.5M56.9 669.0V704.0M58.1 669.1V711.3M59.3 671.1V704.7M60.5 669.1V707.4M61.7 672.4V719.4M62.9 678.5V711.7M64.1 676.2V723.0M65.3 669.9V716.1M66.5 672.2V716.8M67.7 678.0V712.5M68.9 678.5V712.6M70.1 674.4V718.4M71.3 667.3V712.8M72.5 671.8V720.4M73.7 668.1V712.9M74.9 673.6V714.5M76.1 675.0V729.2M77.3 667.9V719.2M78.5 671.8V713.7M79.7 676.5V713.5M80.9 665.6V721.2M82.1 668.0V713.0M83.3 680.2V716.2M84.5 672.1V713.3M85.7 666.7V726.9M86.9 670.2V716.6M88.1 670.5V726.5M89.3 675.5V719.3M90.5 667.6V728.9M91.7 669.7V726.2M92.9 678.5V718.8M94.1 679.2V718.7M95.3 672.4V724.8M96.5 672.2V722.1M97.7 679.6V721.6M98.9 675.6V731.1M100.1 679.8V724.3M101.3 680.1V726.0M102.5 683.7V730.2M103.7 672.2V733.5M104.9 675.4V735.7M106.1 681.2V735.8M107.3 691.6V735.2M108.5 690.7V735.2M109.7 687.4V732.7M110.9 688.9V728.5M112.1 693.1V736.7M113.3 688.9V741.3M114.5 682.1V743.1M115.7 692.9V741.9M116.9 690.9V732.4M118.1 694.3V734.9M119.3 700.1V742.8M120.5 695.2V736.4M121.7 698.0V739.2M122.9 684.2V743.4M124.1 699.8V746.1M125.3 699.7V738.1M126.5 707.4V748.9M127.7 697.9V750.4M128.9 698.3V748.0M130.1 707.5V749.8M131.3 707.6V744.5M132.5 707.8V748.3M133.7 695.6V744.8M134.9 702.5V743.9M136.1 709.2V744.2M137.3 704.3V745.0M138.5 705.7V744.1M139.7 704.9V747.6M140.9 703.8V746.1M142.1 698.8V752.9M143.3 705.6V755.0M144.5 703.1V749.8M145.7 710.5V744.5M146.9 700.9V754.5M148.1 708.5V742.2M149.3 697.8V744.9M150.5 703.5V743.5M151.7 700.8V755.5M152.9 706.2V755.0M154.1 703.2V755.4M155.3 703.1V752.8M156.5 699.2V751.4M157.7 701.9V753.6M158.9 708.6V759.5M160.1 702.8V753.3M161.3 712.9V757.1M162.5 709.9V754.1M163.7 710.6V755.2M164.9 712.4V765.0M166.1 714.3V764.3M167.3 717.0V763.8M168.5 719.7V763.1M169.7 726.1V759.0M170.9 728.6V775.2M172.1 736.2V777.1M173.3 739.2V774.9M174.5 736.9V780.4M175.7 735.2V784.7M176.9 747.5V784.2M178.1 747.3V791.5M179.3 748.3V797.0M180.5 755.0V798.6M181.7 755.2V791.9M182.9 761.8V805.2M184.1 762.6V808.6M185.3 766.4V814.4M186.5 772.2V813.5M187.7 774.6V810.4M188.9 776.3V822.2M190.1 779.7V825.7M191.3 784.8V819.5M192.5 784.6V817.1M193.7 791.4V824.6M194.9 795.7V832.6M196.1 798.7V833.6M197.3 798.3V843.1M198.5 815.1V845.2M199.7 817.2V846.3M200.9 816.2V858.2M202.1 821.1V860.5M203.3 829.9V858.8M204.5 839.2V870.2M205.7 832.5V876.8M206.9 843.5V876.5M208.1 844.7V885.2M209.3 851.2V888.2M210.5 849.3V893.1M211.7 852.3V899.0M212.9 861.2V898.8M214.1 864.7V896.6M215.3 865.5V907.6M216.5 869.6V901.5M217.7 865.7V907.4M218.9 871.5V909.9M220.1 868.8V904.8M221.3 867.0V910.5M222.5 870.8V917.1M223.7 872.9V915.1M224.9 878.2V918.6M226.1 877.7V923.5M227.3 875.7V920.9M228.5 883.1V926.7M229.7 886.8V927.7M230.9 889.5V921.9M232.1 887.6V928.2M233.3 885.1V927.3M234.5 890.4V937.6M235.7 896.5V943.6M236.9 895.2V929.8M238.1 895.9V941.7M239.3 909.2V939.3M240.5 905.6V942.5M241.7 906.0V943.8M242.9 916.2V945.2M244.1 913.6V957.3M245.3 921.4V953.2M246.5 923.4V954.5M247.7 932.4V963.7M248.9 925.1V969.5M250.1 938.5V980.1M251.3 947.6V994.1M252.5 960.5V990.6M253.7 970.8V1004.8M254.9 981.6V1024.0M256.1 978.1V1022.6M257.3 975.8V1014.9M258.5 969.8V1014.4M259.7 967.7V1013.3M260.9 961.2V1008.1M262.1 964.1V1002.5M263.3 953.7V992.3M264.5 952.7V990.8M265.7 946.6V993.5M266.9 949.0V987.3M268.1 943.3V982.5M269.3 948.2V986.0M270.5 942.8V981.5M271.7 941.5V977.8M272.9 947.2V980.9M274.1 936.5V973.9M275.3 934.7V978.7M276.5 932.1V977.7M277.7 932.9V965.0M278.9 929.4V969.7M280.1 926.9V970.2M281.3 930.4V959.3M282.5 923.4V965.0M283.7 926.1V960.7M284.9 922.5V953.0M286.1 919.5V961.9M287.3 921.6V954.9M288.5 919.5V951.8M289.7 909.6V945.3M290.9 907.9V944.3M292.1 905.5V937.9M293.3 899.1V939.6M294.5 891.8V936.5M295.7 890.3V930.4M296.9 889.0V931.6M298.1 882.2V926.1M299.3 885.4V919.9M300.5 871.9V918.0M301.7 870.6V915.9M302.9 880.0V911.1M304.1 865.6V899.0M305.3 866.2V896.5M306.5 852.2V895.7M307.7 850.2V881.1M308.9 845.9V874.7M310.1 845.8V878.1M311.3 830.5V877.4M312.5 832.2V862.9M313.7 825.8V863.8M314.9 824.5V866.0M316.1 826.9V857.4M317.3 824.5V853.7M318.5 812.1V851.4M319.7 814.4V845.7M320.9 805.8V850.3M322.1 802.0V849.3M323.3 807.7V837.4M324.5 795.2V841.7M325.7 794.9V829.6M326.9 796.1V833.4M328.1 788.5V828.5M329.3 793.9V822.7M330.5 788.5V820.4M331.7 780.3V817.2M332.9 784.7V816.5M334.1 780.1V811.1M335.3 772.9V817.3M336.5 771.6V814.2M337.7 769.3V808.4M338.9 765.1V800.0M340.1 759.4V804.5M341.3 758.8V800.5M342.5 758.0V798.4M343.7 760.6V801.4M344.9 752.2V794.9M346.1 746.2V788.3M347.3 745.2V785.1M348.5 743.0V776.4M349.7 744.5V776.6M350.9 739.0V773.1M352.1 736.8V773.7M353.3 730.8V767.2M354.5 727.0V763.9M355.7 731.2V762.3M356.9 717.8V752.1M358.1 714.1V745.8M359.3 714.5V751.2M360.5 707.1V744.5M361.7 705.5V740.3M362.9 700.5V737.2M364.1 702.7V728.0M365.3 700.8V728.3M366.5 694.0V722.1M367.7 687.7V726.2M368.9 681.0V720.2M370.1 683.4V716.1M371.3 683.4V719.6M372.5 682.8V707.4M373.7 677.1V701.0M374.9 668.6V706.1M376.1 675.8V701.3M377.3 671.8V702.2M378.5 663.9V700.9M379.7 666.5V695.3M380.9 662.6V690.6M382.1 664.4V691.2M383.3 661.6V688.3M384.5 655.9V689.2M385.7 660.4V686.6M386.9 660.9V684.0M388.1 658.6V687.0M389.3 654.4V690.4M390.5 649.1V686.4M391.7 648.1V684.7M392.9 657.1V686.0M394.1 653.7V683.3M395.3 652.2V682.5M396.5 646.4V682.9M397.7 645.4V682.5M398.9 643.7V678.4M400.1 646.4V678.2M401.3 647.4V676.6M402.5 647.2V677.6M403.7 650.2V674.5M404.9 643.0V672.2M406.1 649.3V675.7M407.3 642.1V676.1M408.5 645.1V675.5M409.7 651.3V684.6M410.9 648.9V674.9M412.1 649.1V683.2M413.3 650.0V681.7M414.5 645.0V677.6M415.7 648.9V679.7M416.9 643.2V676.8M418.1 647.2V672.4M419.3 642.4V678.4M420.5 648.2V683.7M421.7 645.2V671.6M422.9 642.1V670.8M424.1 638.8V669.2M425.3 640.9V664.3M426.5 640.0V670.5M427.7 636.7V668.5M428.9 634.5V660.0M430.1 636.3V663.8M431.3 636.6V660.0M432.5 632.1V656.2M433.7 633.7V667.5M434.9 633.8V659.3M436.1 631.3V665.7M437.3 637.6V665.4M438.5 633.2V660.4M439.7 630.1V660.6M440.9 637.5V666.2M442.1 635.8V663.6M443.3 651.3V674.8M444.5 653.7V677.2M445.7 647.2V679.7M446.9 655.2V681.9M448.1 658.9V684.4M449.3 656.0V688.1M450.5 660.0V693.0M451.7 661.0V693.6M452.9 663.8V691.4M454.1 660.3V693.4M455.3 655.5V688.3M456.5 655.6V686.3M457.7 654.5V690.3M458.9 647.2V676.0M460.1 649.0V676.0M461.3 643.0V671.2M462.5 648.4V674.3M463.7 637.9V665.5M464.9 635.6V663.7M466.1 636.4V664.3M467.3 630.0V664.1M468.5 631.2V661.4M469.7 629.9V654.7M470.9 620.2V653.7M472.1 629.5V652.1M473.3 622.6V652.4M474.5 617.1V653.6M475.7 621.3V653.1M476.9 624.9V655.2M478.1 624.2V658.1M479.3 628.6V661.7M480.5 629.3V664.8M481.7 639.7V664.0M482.9 636.3V669.5M484.1 639.6V665.0M485.3 637.4V670.9M486.5 639.8V667.8M487.7 646.4V673.6M488.9 652.0V681.5M490.1 649.8V679.9M491.3 649.5V685.2M492.5 652.6V680.8M493.7 657.4V692.2M494.9 655.3V689.3M496.1 662.6V698.9M497.3 661.2V692.8M498.5 666.6V700.6M499.7 678.7V707.1M500.9 681.7V714.8M502.1 687.8V724.5M503.3 697.4V722.5M504.5 701.9V730.3M505.7 705.8V728.8M506.9 716.1V742.7M508.1 712.9V746.5M509.3 720.4V745.1M510.5 719.1V749.8M511.7 716.7V752.2M512.9 723.6V748.4M514.1 718.1V743.4M515.3 710.4V741.3M516.5 711.8V737.1M517.7 704.0V728.6M518.9 695.8V729.0M520.1 687.8V721.9M521.3 694.5V723.7M522.5 688.2V723.7M523.7 698.2V725.3M524.9 686.1V715.2M526.1 692.3V717.6M527.3 695.8V729.7M528.5 695.1V722.9M529.7 691.3V717.4M530.9 688.6V725.2M532.1 695.5V717.7M533.3 691.7V720.7M534.5 688.6V721.1M535.7 698.4V729.3M536.9 702.5V729.2M538.1 707.8V733.6M539.3 710.3V741.6M540.5 707.9V744.4M541.7 720.4V744.6M542.9 723.7V757.0M544.1 729.1V763.5M545.3 728.1V762.2M546.5 731.0V763.5M547.7 735.2V758.6M548.9 725.5V761.5M550.1 731.8V762.3M551.3 731.7V765.2M552.5 731.8V759.9M553.7 731.8V765.9M554.9 735.2V760.3M556.1 733.6V757.9M557.3 731.2V765.3M558.5 737.2V760.2M559.7 738.7V765.1M560.9 732.2V759.4M562.1 734.1V766.1M563.3 736.5V765.2M564.5 732.0V768.1M565.7 738.8V760.9M566.9 730.8V758.2M568.1 731.8V761.9M569.3 730.8V759.4M570.5 737.4V771.0M571.7 734.1V759.1M572.9 730.5V757.9M574.1 729.0V758.8M575.3 729.8V757.5M576.5 727.9V759.6M577.7 722.5V755.1M578.9 724.5V751.2M580.1 720.2V752.7M581.3 716.2V743.0M582.5 716.5V740.4M583.7 712.6V735.9M584.9 708.5V733.0M586.1 702.4V730.1M587.3 706.8V730.0M588.5 698.2V723.3M589.7 697.4V725.1M590.9 697.1V720.0M592.1 692.1V721.4M593.3 684.4V715.7M594.5 685.0V712.5M595.7 679.2V705.9M596.9 683.2V710.8M598.1 681.8V713.9M599.3 686.5V718.0M600.5 682.3V712.9M601.7 687.2V714.0M602.9 683.2V714.5M604.1 686.1V715.3M605.3 683.9V717.2M606.5 688.8V712.9M607.7 680.0V713.0M608.9 688.9V715.8M610.1 684.3V713.4M611.3 692.8V728.9M612.5 704.5V733.8M613.7 710.4V735.1M614.9 709.1V744.6M616.1 726.6V749.5M617.3 731.4V756.8M618.5 729.8V756.3M619.7 728.3V763.5M620.9 735.3V758.9M622.1 734.3V770.2M623.3 740.0V769.7M624.5 738.6V768.5M625.7 724.2V759.1M626.9 718.7V754.8M628.1 721.1V744.7M629.3 705.6V739.3M630.5 705.6V730.8M631.7 703.7V733.7M632.9 697.9V727.5M634.1 699.0V721.8M635.3 695.2V731.2M636.5 694.2V729.6M637.7 694.6V726.0M638.9 693.4V725.8M640.1 692.1V725.5M641.3 702.5V724.4M642.5 700.0V723.8M643.7 704.4V731.7M644.9 706.9V736.1M646.1 717.1V742.6M647.3 720.5V751.5M648.5 733.5V755.8M649.7 734.7V770.2M650.9 739.1V769.4M652.1 738.2V768.9M653.3 741.3V772.9M654.5 743.1V771.8M655.7 735.7V771.7M656.9 741.9V769.4M658.1 728.3V756.2M659.3 720.3V749.5M660.5 716.5V745.7M661.7 708.6V734.8M662.9 716.0V738.4M664.1 708.1V740.3M665.3 704.6V734.8M666.5 709.9V740.1M667.7 711.6V734.2M668.9 712.5V741.4M670.1 714.0V741.3M671.3 723.8V753.0M672.5 732.5V757.5M673.7 739.4V764.4M674.9 752.8V775.4M676.1 760.7V791.9M677.3 759.3V793.3M678.5 765.4V790.2M679.7 760.1V792.4M680.9 749.9V772.9M682.1 740.0V772.9M683.3 735.5V770.8M684.5 734.6V756.2M685.7 726.3V752.5M686.9 729.0V751.4M688.1 726.9V754.2M689.3 719.5V746.2M690.5 722.8V744.8M691.7 715.7V750.1M692.9 719.8V754.7M694.1 730.3V765.9M695.3 737.8V763.6M696.5 742.3V777.1M697.7 751.0V784.6M698.9 759.2V785.8M700.1 761.5V795.6M701.3 763.5V799.3M702.5 771.2V795.4M703.7 769.6V803.8M704.9 769.6V801.5M706.1 772.9V798.9M707.3 774.8V806.5M708.5 773.0V796.4M709.7 772.8V800.7M710.9 768.5V791.2M712.1 765.1V796.8M713.3 765.8V790.1M714.5 756.3V787.3M715.7 751.5V784.3M716.9 741.8V775.9M718.1 748.5V778.4M719.3 743.6V778.3M720.5 747.1V778.1M721.7 748.4V771.1M722.9 745.9V781.4M724.1 742.7V771.7M725.3 750.8V772.9M726.5 747.2V772.2M727.7 744.4V777.3M728.9 748.4V780.6M730.1 752.0V776.9M731.3 751.4V775.5M732.5 750.7V784.9M733.7 751.4V779.4M734.9 748.3V780.4M736.1 745.4V773.9M737.3 755.4V779.4M738.5 746.5V773.1M739.7 746.1V776.9M740.9 748.7V777.3M742.1 742.3V775.7M743.3 742.9V777.8M744.5 746.5V770.3M745.7 748.2V778.2M746.9 752.3V777.0M748.1 749.1V781.7M749.3 757.9V790.6M750.5 763.9V788.4M751.7 767.3V796.9M752.9 764.9V794.7M754.1 765.3V796.8M755.3 765.1V789.0M756.5 768.3V791.8M757.7 772.0V799.5M758.9 770.0V797.6M760.1 772.9V795.3M761.3 777.5V811.7M762.5 776.6V809.2M763.7 787.7V812.4M764.9 797.4V819.3M766.1 801.5V827.3M767.3 803.6V828.6M768.5 807.0V836.7M769.7 821.7V845.4M770.9 820.8V845.7M772.1 816.1V849.2M773.3 817.3V849.8M774.5 819.3V845.7M775.7 818.6V843.0M776.9 816.2V844.5M778.1 813.2V845.3M779.3 816.7V844.4M780.5 812.9V844.7M781.7 813.5V847.4M782.9 817.2V840.5M784.1 812.9V840.2M785.3 817.0V839.3M786.5 814.4V846.5M787.7 803.7V835.3M788.9 798.9V828.0M790.1 798.2V822.8M791.3 785.2V811.6M792.5 787.9V813.9M793.7 787.5V809.2M794.9 776.5V803.4M796.1 776.3V802.4M797.3 773.5V804.6M798.5 775.0V808.7M799.7 773.1V800.9M800.9 772.3V798.9M802.1 776.2V808.4M803.3 777.8V801.6M804.5 776.8V805.8M805.7 776.4V800.7M806.9 772.9V800.7M808.1 764.5V799.7M809.3 768.0V798.8M810.5 766.4V792.9M811.7 763.9V786.1M812.9 760.6V785.7M814.1 758.8V780.2M815.3 756.9V783.6M816.5 752.1V786.2M817.7 751.7V778.0M818.9 749.6V772.9M820.1 747.3V779.2M821.3 742.4V773.7M822.5 744.5V770.1M823.7 746.8V773.4M824.9 759.6V785.3M826.1 762.1V794.1M827.3 768.9V795.5M828.5 778.2V802.7M829.7 784.7V814.3M830.9 791.6V813.2M832.1 789.4V818.2M833.3 798.5V821.5M834.5 794.2V825.5M835.7 796.0V826.5M836.9 804.4V829.4M838.1 804.4V835.5M839.3 802.7V836.0M840.5 812.1V836.3M841.7 809.7V833.8M842.9 813.3V835.0M844.1 810.4V839.5M845.3 805.3V837.8M846.5 807.4V837.9M847.7 802.8V836.8M848.9 797.9V828.3M850.1 788.5V823.0M851.3 778.0V807.9M852.5 768.9V791.2M853.7 758.0V779.8M854.9 748.7V775.2M856.1 744.7V769.7M857.3 748.0V771.2M858.5 741.4V764.8M859.7 740.3V770.7M860.9 739.5V765.3M862.1 738.4V765.3M863.3 735.7V766.6M864.5 735.9V764.7M865.7 730.4V756.9M866.9 724.7V750.9M868.1 724.3V746.1M869.3 714.4V742.3M870.5 706.6V732.3M871.7 702.5V727.3M872.9 698.9V733.0M874.1 697.4V727.0M875.3 697.6V722.0M876.5 697.6V726.3M877.7 688.1V715.5M878.9 685.2V715.9M880.1 691.2V722.8M881.3 685.6V717.4M882.5 687.4V714.2M883.7 686.7V722.1M884.9 686.3V723.2M886.1 689.5V713.2M887.3 690.9V719.0M888.5 690.7V719.8M889.7 691.1V717.7M890.9 688.2V715.6M892.1 688.2V712.1M893.3 681.7V714.4M894.5 681.0V713.1M895.7 681.0V715.9M896.9 675.9V709.6M898.1 674.7V713.0M899.3 680.6V711.2M900.5 672.7V712.5M901.7 673.0V709.9M902.9 678.2V715.1M904.1 683.5V711.6M905.3 673.8V710.1M906.5 673.7V705.9M907.7 677.7V708.6M908.9 677.9V708.1M910.1 674.6V705.2M911.3 674.6V710.0M912.5 680.0V708.8M913.7 679.6V708.1M914.9 672.2V711.7M916.1 671.2V712.2M917.3 671.5V707.5M918.5 666.8V710.0M919.7 673.9V702.4M920.9 660.7V703.1M922.1 665.5V700.6M923.3 657.0V698.4M924.5 658.0V692.3M925.7 652.8V697.0M926.9 658.6V702.7M928.1 653.6V695.7M929.3 655.6V696.3M930.5 663.5V694.9M931.7 654.9V691.3M932.9 659.7V692.5M934.1 660.6V690.3M935.3 647.5V696.2M936.5 657.8V690.1M937.7 654.8V697.2M938.9 655.6V693.6M940.1 668.3V699.4M941.3 651.6V696.4M942.5 659.4V695.7M943.7 654.7V700.3M944.9 659.5V697.1M946.1 661.2V692.7M947.3 654.8V693.7M948.5 655.7V693.4M949.7 654.0V691.4M950.9 642.7V682.5M952.1 633.9V685.9M953.3 636.3V675.9M954.5 629.7V677.9M955.7 630.6V665.1M956.9 621.8V672.8M958.1 625.7V662.4M959.3 622.6V660.7M960.5 627.0V658.8M961.7 619.2V663.7M962.9 623.6V660.6M964.1 623.5V662.5M965.3 626.9V663.7M966.5 618.3V668.2M967.7 623.7V661.5M968.9 622.9V664.3M970.1 616.9V668.9M971.3 622.9V664.2M972.5 627.1V667.0M973.7 627.5V659.9M974.9 619.7V662.3M976.1 623.5V660.4M977.3 616.2V666.9M978.5 630.1V670.5M979.7 615.3V663.8M980.9 630.0V661.7M982.1 627.8V662.4M983.3 628.7V667.2M984.5 625.1V671.8M985.7 631.2V662.5M986.9 633.1V668.5M988.1 627.4V669.3M989.3 624.0V671.8M990.5 629.4V668.7M991.7 620.3V667.9M992.9 624.3V675.7M994.1 627.7V660.8M995.3 627.6V673.2M996.5 629.2V665.3M997.7 627.0V669.9M998.9 629.9V665.5M1000.1 623.9V668.4M1001.3 625.7V673.4M1002.5 626.6V664.7M1003.7 632.4V669.0M1004.9 633.4V666.2M1006.1 629.9V667.7M1007.3 651.2V697.3M1008.5 675.9V717.9M1009.7 705.8V738.8M1010.9 704.2V737.9M1012.1 696.7V727.7M1013.3 686.7V727.8M1014.5 672.4V714.2M1015.7 659.4V709.7M1016.9 654.3V691.6M1018.1 641.6V687.7M1019.3 633.9V673.4M1020.5 620.5V670.9M1021.7 619.1V664.2M1022.9 626.7V661.0M1024.1 615.9V665.9M1025.3 626.6V663.9M1026.5 617.2V668.0M1027.7 627.1V660.7M1028.9 618.4V662.1M1030.1 623.5V658.4M1031.3 624.5V672.5M1032.5 636.8V680.2M1033.7 651.9V684.8M1034.9 657.3V704.9M1036.1 667.7V711.8M1037.3 678.1V717.1M1038.5 686.8V729.5M1039.7 699.0V741.1M1040.9 706.0V749.2M1042.1 709.2V748.7M1043.3 701.5V750.9M1044.5 710.4V743.9M1045.7 698.6V744.0M1046.9 712.2V748.9M1048.1 707.9V746.4M1049.3 681.6V729.5M1050.5 683.6V723.8M1051.7 671.6V706.6M1052.9 650.1V699.4M1054.1 636.6V683.7M1055.3 629.3V679.7M1056.5 625.4V656.9M1057.7 619.4V654.8M1058.9 605.9V652.4M1060.1 605.2V652.9M1061.3 615.8V650.0M1062.5 615.5V647.2M1063.7 614.9V656.2M1064.9 615.2V650.2M1066.1 606.1V652.3M1067.3 614.0V655.2M1068.5 606.1V654.4M1069.7 619.3V656.8M1070.9 624.1V656.3M1072.1 624.1V671.5M1073.3 626.6V673.4M1074.5 635.7V673.5M1075.7 634.9V682.0M1076.9 641.6V673.1M1078.1 636.5V686.3M1079.3 642.2V689.8M1080.5 646.2V690.8M1081.7 647.1V685.7M1082.9 653.6V683.9M1084.1 642.9V685.4M1085.3 649.5V684.9M1086.5 645.6V679.0M1087.7 647.0V679.3M1088.9 648.4V680.7M1090.1 646.9V679.0M1091.3 650.4V687.2M1092.5 647.7V681.2M1093.7 647.5V691.7M1094.9 647.3V684.1M1096.1 648.7V681.2M1097.3 647.3V689.3M1098.5 643.1V680.6M1099.7 655.7V694.2M1100.9 660.4V696.6M1102.1 674.2V717.5M1103.3 690.6V725.6M1104.5 699.5V745.9M1105.7 708.7V751.3M1106.9 719.7V757.9M1108.1 714.4V758.2M1109.3 712.5V753.5M1110.5 714.4V751.8M1111.7 716.9V751.6M1112.9 710.8V745.6M1114.1 714.9V757.6M1115.3 714.6V751.7M1116.5 716.5V748.2M1117.7 716.9V754.1M1118.9 715.0V750.7M1120.1 698.0V738.4M1121.3 672.5V712.0M1122.5 666.1V696.8M1123.7 654.2V690.1M1124.9 645.3V687.1M1126.1 654.1V689.6M1127.3 659.3V688.5M1128.5 644.9V685.8M1129.7 647.8V685.5M1130.9 667.2V702.0M1132.1 679.1V726.4M1133.3 697.9V745.2M1134.5 725.0V769.5M1135.7 744.3V785.3M1136.9 752.4V782.3M1138.1 743.0V780.4M1139.3 750.7V783.4M1140.5 748.5V795.8M1141.7 755.0V786.2M1142.9 754.4V790.3M1144.1 754.2V785.7M1145.3 748.6V789.3M1146.5 750.5V783.6M1147.7 745.3V788.9M1148.9 754.2V784.7M1150.1 747.2V784.2M1151.3 751.9V797.9M1152.5 739.6V784.6M1153.7 724.7V762.9M1154.9 702.7V740.8M1156.1 689.5V723.3M1157.3 687.1V724.6M1158.5 690.1V720.5M1159.7 690.5V720.1M1160.9 679.7V722.2M1162.1 686.6V719.1M1163.3 686.3V718.3M1164.5 691.9V728.2M1165.7 701.0V744.6M1166.9 725.3V755.1M1168.1 734.9V780.7M1169.3 752.9V790.4M1170.5 757.3V801.0M1171.7 761.2V806.7M1172.9 766.4V796.9M1174.1 760.8V803.6M1175.3 766.4V796.9M1176.5 759.4V796.7M1177.7 766.6V799.7M1178.9 752.7V797.9M1180.1 748.6V777.0M1181.3 735.3V770.3M1182.5 734.3V763.8M1183.7 716.9V761.1M1184.9 707.8V747.2M1186.1 700.4V743.9M1187.3 695.2V731.7M1188.5 682.1V725.8M1189.7 683.0V723.7M1190.9 690.3V722.3M1192.1 685.3V721.1M1193.3 690.1V723.8M1194.5 688.5V716.5M1195.7 685.1V727.3M1196.9 689.4V726.3M1198.1 690.3V724.5M1199.3 704.6V738.3M1200.5 721.0V753.7M1201.7 729.2V769.7M1202.9 748.5V784.3M1204.1 760.4V804.7M1205.3 766.6V793.7M1206.5 757.9V791.5M1207.7 757.6V795.4M1208.9 759.6V797.5M1210.1 762.7V800.4M1211.3 760.7V797.0M1212.5 762.4V803.0M1213.7 765.3V796.8M1214.9 764.4V796.3M1216.1 759.5V802.0M1217.3 760.4V794.6M1218.5 764.9V793.4M1219.7 742.7V787.4M1220.9 714.1V746.8M1222.1 677.7V719.4M1223.3 693.3V721.4M1224.5 688.6V729.4M1225.7 703.4V740.3M1226.9 705.1V748.8M1228.1 711.5V755.4M1229.3 721.0V761.6M1230.5 729.2V769.5M1231.7 740.1V774.6M1232.9 740.5V784.0M1234.1 745.3V773.7M1235.3 746.3V786.8M1236.5 746.5V780.3M1237.7 748.9V778.0M1238.9 750.5V783.2M1240.1 751.4V780.5M1241.3 744.0V786.0M1242.5 749.9V778.9M1243.7 748.7V777.8M1244.9 745.2V782.3M1246.1 748.6V792.2M1247.3 730.7V767.3M1248.5 713.5V755.6M1249.7 701.7V737.2M1250.9 689.3V716.8M1252.1 661.4V700.6M1253.3 650.2V693.9M1254.5 650.2V684.2M1255.7 650.6V691.7M1256.9 659.3V689.2M1258.1 654.8V692.3M1259.3 656.7V686.7M1260.5 665.5V698.8M1261.7 681.8V715.8M1262.9 702.5V739.9M1264.1 726.8V764.3M1265.3 745.9V781.6M1266.5 769.6V809.2M1267.7 792.8V824.0M1268.9 795.0V832.4M1270.1 802.2V833.9M1271.3 801.4V835.2M1272.5 795.9V835.8M1273.7 792.3V829.4M1274.9 793.1V837.7M1276.1 798.4V834.2M1277.3 796.9V828.1M1278.5 797.8V830.3M1279.7 791.7V834.0M1280.9 799.2V836.4M1282.1 796.4V833.3M1283.3 787.1V831.2M1284.5 774.1V814.8M1285.7 756.4V797.5M1286.9 743.4V774.4M1288.1 725.3V763.3M1289.3 715.1V744.2M1290.5 695.7V738.9M1291.7 691.9V735.5M1292.9 694.1V738.2M1294.1 694.8V734.8M1295.3 695.7V735.8M1296.5 705.9V737.7M1297.7 697.1V733.7M1298.9 697.4V728.9M1300.1 694.7V724.1M1301.3 691.1V726.9M1302.5 688.1V720.1M1303.7 685.6V721.8M1304.9 680.8V723.3M1306.1 678.8V721.1M1307.3 678.5V718.7M1308.5 680.7V717.3M1309.7 677.5V718.5M1310.9 680.4V712.1M1312.1 693.5V727.1M1313.3 690.3V731.4M1314.5 696.5V730.1M1315.7 699.8V739.9M1316.9 705.4V742.6M1318.1 707.3V740.6M1319.3 711.2V740.2M1320.5 709.1V753.0M1321.7 702.9V746.1M1322.9 709.8V738.6M1324.1 701.4V746.2M1325.3 708.2V740.8M1326.5 706.1V745.1" stroke="#000" stroke-width="1.5" fill="none" stroke-opacity="1"/>
<path d="M49.5 660.7h10M49.5 710.5h10M50.7 669.9h10M50.7 710.5h10M51.9 669.0h10M51.9 704.0h10M53.1 669.1h10M53.1 711.3h10M54.3 671.1h10M54.3 704.7h10M55.5 669.1h10M55.5 707.4h10M56.7 672.4h10M56.7 719.4h10M57.9 678.5h10M57.9 711.7h10M59.1 676.2h10M59.1 723.0h10M60.3 669.9h10M60.3 716.1h10M61.5 672.2h10M61.5 716.8h10M62.7 678.0h10M62.7 712.5h10M63.9 678.5h10M63.9 712.6h10M65.1 674.4h10M65.1 718.4h10M66.3 667.3h10M66.3 712.8h10M67.5 671.8h10M67.5 720.4h10M68.7 668.1h10M68.7 712.9h10M69.9 673.6h10M69.9 714.5h10M71.1 675.0h10M71.1 729.2h10M72.3 667.9h10M72.3 719.2h10M73.5 671.8h10M73.5 713.7h10M74.7 676.5h10M74.7 713.5h10M75.9 665.6h10M75.9 721.2h10M77.1 668.0h10M77.1 713.0h10M78.3 680.2h10M78.3 716.2h10M79.5 672.1h10M79.5 713.3h10M80.7 666.7h10M80.7 726.9h10M81.9 670.2h10M81.9 716.6h10M83.1 670.5h10M83.1 726.5h10M84.3 675.5h10M84.3 719.3h10M85.5 667.6h10M85.5 728.9h10M86.7 669.7h10M86.7 726.2h10M87.9 678.5h10M87.9 718.8h10M89.1 679.2h10M89.1 718.7h10M90.3 672.4h10M90.3 724.8h10M91.5 672.2h10M91.5 722.1h10M92.7 679.6h10M92.7 721.6h10M93.9 675.6h10M93.9 731.1h10M95.1 679.8h10M95.1 724.3h10M96.3 680.1h10M96.3 726.0h10M97.5 683.7h10M97.5 730.2h10M98.7 672.2h10M98.7 733.5h10M99.9 675.4h10M99.9 735.7h10M101.1 681.2h10M101.1 735.8h10M102.3 691.6h10M102.3 735.2h10M103.5 690.7h10M103.5 735.2h10M104.7 687.4h10M104.7 732.7h10M105.9 688.9h10M105.9 728.5h10M107.1 693.1h10M107.1 736.7h10M108.3 688.9h10M108.3 741.3h10M109.5 682.1h10M109.5 743.1h10M110.7 692.9h10M110.7 741.9h10M111.9 690.9h10M111.9 732.4h10M113.1 694.3h10M113.1 734.9h10M114.3 700.1h10M114.3 742.8h10M115.5 695.2h10M115.5 736.4h10M116.7 698.0h10M116.7 739.2h10M117.9 684.2h10M117.9 743.4h10M119.1 699.8h10M119.1 746.1h10M120.3 699.7h10M120.3 738.1h10M121.5 707.4h10M121.5 748.9h10M122.7 697.9h10M122.7 750.4h10M123.9 698.3h10M123.9 748.0h10M125.1 707.5h10M125.1 749.8h10M126.3 707.6h10M126.3 744.5h10M127.5 707.8h10M127.5 748.3h10M128.7 695.6h10M128.7 744.8h10M129.9 702.5h10M129.9 743.9h10M131.1 709.2h10M131.1 744.2h10M132.3 704.3h10M132.3 745.0h10M133.5 705.7h10M133.5 744.1h10M134.7 704.9h10M134.7 747.6h10M135.9 703.8h10M135.9 746.1h10M137.1 698.8h10M137.1 752.9h10M138.3 705.6h10M138.3 755.0h10M139.5 703.1h10M139.5 749.8h10M140.7 710.5h10M140.7 744.5h10M141.9 700.9h10M141.9 754.5h10M143.1 708.5h10M143.1 742.2h10M144.3 697.8h10M144.3 744.9h10M145.5 703.5h10M145.5 743.5h10M146.7 700.8h10M146.7 755.5h10M147.9 706.2h10M147.9 755.0h10M149.1 703.2h10M149.1 755.4h10M150.3 703.1h10M150.3 752.8h10M151.5 699.2h10M151.5 751.4h10M152.7 701.9h10M152.7 753.6h10M153.9 708.6h10M153.9 759.5h10M155.1 702.8h10M155.1 753.3h10M156.3 712.9h10M156.3 757.1h10M157.5 709.9h10M157.5 754.1h10M158.7 710.6h10M158.7 755.2h10M159.9 712.4h10M159.9 765.0h10M161.1 714.3h10M161.1 764.3h10M162.3 717.0h10M162.3 763.8h10M163.5 719.7h10M163.5 763.1h10M164.7 726.1h10M164.7 759.0h10M165.9 728.6h10M165.9 775.2h10M167.1 736.2h10M167.1 777.1h10M168.3 739.2h10M168.3 774.9h10M169.5 736.9h10M169.5 780.4h10M170.7 735.2h10M170.7 784.7h10M171.9 747.5h10M171.9 784.2h10M173.1 747.3h10M173.1 791.5h10M174.3 748.3h10M174.3 797.0h10M175.5 755.0h10M175.5 798.6h10M176.7 755.2h10M176.7 791.9h10M177.9 761.8h10M177.9 805.2h10M179.1 762.6h10M179.1 808.6h10M180.3 766.4h10M180.3 814.4h10M181.5 772.2h10M181.5 813.5h10M182.7 774.6h10M182.7 810.4h10M183.9 776.3h10M183.9 822.2h10M185.1 779.7h10M185.1 825.7h10M186.3 784.8h10M186.3 819.5h10M187.5 784.6h10M187.5 817.1h10M188.7 791.4h10M188.7 824.6h10M189.9 795.7h10M189.9 832.6h10M191.1 798.7h10M191.1 833.6h10M192.3 798.3h10M192.3 843.1h10M193.5 815.1h10M193.5 845.2h10M194.7 817.2h10M194.7 846.3h10M195.9 816.2h10M195.9 858.2h10M197.1 821.1h10M197.1 860.5h10M198.3 829.9h10M198.3 858.8h10M199.5 839.2h10M199.5 870.2h10M200.7 832.5h10M200.7 876.8h10M201.9 843.5h10M201.9 876.5h10M203.1 844.7h10M203.1 885.2h10M204.3 851.2h10M204.3 888.2h10M205.5 849.3h10M205.5 893.1h10M206.7 852.3h10M206.7 899.0h10M207.9 861.2h10M207.9 898.8h10M209.1 864.7h10M209.1 896.6h10M210.3 865.5h10M210.3 907.6h10M211.5 869.6h10M211.5 901.5h10M212.7 865.7h10M212.7 907.4h10M213.9 871.5h10M213.9 909.9h10M215.1 868.8h10M215.1 904.8h10M216.3 867.0h10M216.3 910.5h10M217.5 870.8h10M217.5 917.1h10M218.7 872.9h10M218.7 915.1h10M219.9 878.2h10M219.9 918.6h10M221.1 877.7h10M221.1 923.5h10M222.3 875.7h10M222.3 920.9h10M223.5 883.1h10M223.5 926.7h10M224.7 886.8h10M224.7 927.7h10M225.9 889.5h10M225.9 921.9h10M227.1 887.6h10M227.1 928.2h10M228.3 885.1h10M228.3 927.3h10M229.5 890.4h10M229.5 937.6h10M230.7 896.5h10M230.7 943.6h10M231.9 895.2h10M231.9 929.8h10M233.1 895.9h10M233.1 941.7h10M234.3 909.2h10M234.3 939.3h10M235.5 905.6h10M235.5 942.5h10M236.7 906.0h10M236.7 943.8h10M237.9 916.2h10M237.9 945.2h10M239.1 913.6h10M239.1 957.3h10M240.3 921.4h10M240.3 953.2h10M241.5 923.4h10M241.5 954.5h10M242.7 932.4h10M242.7 963.7h10M243.9 925.1h10M243.9 969.5h10M245.1 938.5h10M245.1 980.1h10M246.3 947.6h10M246.3 994.1h10M247.5 960.5h10M247.5 990.6h10M248.7 970.8h10M248.7 1004.8h10M249.9 981.6h10M249.9 1024.0h10M251.1 978.1h10M251.1 1022.6h10M252.3 975.8h10M252.3 1014.9h10M253.5 969.8h10M253.5 1014.4h10M254.7 967.7h10M254.7 1013.3h10M255.9 961.2h10M255.9 1008.1h10M257.1 964.1h10M257.1 1002.5h10M258.3 953.7h10M258.3 992.3h10M259.5 952.7h10M259.5 990.8h10M260.7 946.6h10M260.7 993.5h10M261.9 949.0h10M261.9 987.3h10M263.1 943.3h10M263.1 982.5h10M264.3 948.2h10M264.3 986.0h10M265.5 942.8h10M265.5 981.5h10M266.7 941.5h10M266.7 977.8h10M267.9 947.2h10M267.9 980.9h10M269.1 936.5h10M269.1 973.9h10M270.3 934.7h10M270.3 978.7h10M271.5 932.1h10M271.5 977.7h10M272.7 932.9h10M272.7 965.0h10M273.9 929.4h10M273.9 969.7h10M275.1 926.9h10M275.1 970.2h10M276.3 930.4h10M276.3 959.3h10M277.5 923.4h10M277.5 965.0h10M278.7 926.1h10M278.7 960.7h10M279.9 922.5h10M279.9 953.0h10M281.1 919.5h10M281.1 961.9h10M282.3 921.6h10M282.3 954.9h10M283.5 919.5h10M283.5 951.8h10M284.7 909.6h10M284.7 945.3h10M285.9 907.9h10M285.9 944.3h10M287.1 905.5h10M287.1 937.9h10M288.3 899.1h10M288.3 939.6h10M289.5 891.8h10M289.5 936.5h10M290.7 890.3h10M290.7 930.4h10M291.9 889.0h10M291.9 931.6h10M293.1 882.2h10M293.1 926.1h10M294.3 885.4h10M294.3 919.9h10M295.5 871.9h10M295.5 918.0h10M296.7 870.6h10M296.7 915.9h10M297.9 880.0h10M297.9 911.1h10M299.1 865.6h10M299.1 899.0h10M300.3 866.2h10M300.3 896.5h10M301.5 852.2h10M301.5 895.7h10M302.7 850.2h10M302.7 881.1h10M303.9 845.9h10M303.9 874.7h10M305.1 845.8h10M305.1 878.1h10M306.3 830.5h10M306.3 877.4h10M307.5 832.2h10M307.5 862.9h10M308.7 825.8h10M308.7 863.8h10M309.9 824.5h10M309.9 866.0h10M311.1 826.9h10M311.1 857.4h10M312.3 824.5h10M312.3 853.7h10M313.5 812.1h10M313.5 851.4h10M314.7 814.4h10M314.7 845.7h10M315.9 805.8h10M315.9 850.3h10M317.1 802.0h10M317.1 849.3h10M318.3 807.7h10M318.3 837.4h10M319.5 795.2h10M319.5 841.7h10M320.7 794.9h10M320.7 829.6h10M321.9 796.1h10M321.9 833.4h10M323.1 788.5h10M323.1 828.5h10M324.3 793.9h10M324.3 822.7h10M325.5 788.5h10M325.5 820.4h10M326.7 780.3h10M326.7 817.2h10M327.9 784.7h10M327.9 816.5h10M329.1 780.1h10M329.1 811.1h10M330.3 772.9h10M330.3 817.3h10M331.5 771.6h10M331.5 814.2h10M332.7 769.3h10M332.7 808.4h10M333.9 765.1h10M333.9 800.0h10M335.1 759.4h10M335.1 804.5h10M336.3 758.8h10M336.3 800.5h10M337.5 758.0h10M337.5 798.4h10M338.7 760.6h10M338.7 801.4h10M339.9 752.2h10M339.9 794.9h10M341.1 746.2h10M341.1 788.3h10M342.3 745.2h10M342.3 785.1h10M343.5 743.0h10M343.5 776.4h10M344.7 744.5h10M344.7 776.6h10M345.9 739.0h10M345.9 773.1h10M347.1 736.8h10M347.1 773.7h10M348.3 730.8h10M348.3 767.2h10M349.5 727.0h10M349.5 763.9h10M350.7 731.2h10M350.7 762.3h10M351.9 717.8h10M351.9 752.1h10M353.1 714.1h10M353.1 745.8h10M354.3 714.5h10M354.3 751.2h10M355.5 707.1h10M355.5 744.5h10M356.7 705.5h10M356.7 740.3h10M357.9 700.5h10M357.9 737.2h10M359.1 702.7h10M359.1 728.0h10M360.3 700.8h10M360.3 728.3h10M361.5 694.0h10M361.5 722.1h10M362.7 687.7h10M362.7 726.2h10M363.9 681.0h10M363.9 720.2h10M365.1 683.4h10M365.1 716.1h10M366.3 683.4h10M366.3 719.6h10M367.5 682.8h10M367.5 707.4h10M368.7 677.1h10M368.7 701.0h10M369.9 668.6h10M369.9 706.1h10M371.1 675.8h10M371.1 701.3h10M372.3 671.8h10M372.3 702.2h10M373.5 663.9h10M373.5 700.9h10M374.7 666.5h10M374.7 695.3h10M375.9 662.6h10M375.9 690.6h10M377.1 664.4h10M377.1 691.2h10M378.3 661.6h10M378.3 688.3h10M379.5 655.9h10M379.5 689.2h10M380.7 660.4h10M380.7 686.6h10M381.9 660.9h10M381.9 684.0h10M383.1 658.6h10M383.1 687.0h10M384.3 654.4h10M384.3 690.4h10M385.5 649.1h10M385.5 686.4h10M386.7 648.1h10M386.7 684.7h10M387.9 657.1h10M387.9 686.0h10M389.1 653.7h10M389.1 683.3h10M390.3 652.2h10M390.3 682.5h10M391.5 646.4h10M391.5 682.9h10M392.7 645.4h10M392.7 682.5h10M393.9 643.7h10M393.9 678.4h10M395.1 646.4h10M395.1 678.2h10M396.3 647.4h10M396.3 676.6h10M397.5 647.2h10M397.5 677.6h10M398.7 650.2h10M398.7 674.5h10M399.9 643.0h10M399.9 672.2h10M401.1 649.3h10M401.1 675.7h10M402.3 642.1h10M402.3 676.1h10M403.5 645.1h10M403.5 675.5h10M404.7 651.3h10M404.7 684.6h10M405.9 648.9h10M405.9 674.9h10M407.1 649.1h10M407.1 683.2h10M408.3 650.0h10M408.3 681.7h10M409.5 645.0h10M409.5 677.6h10M410.7 648.9h10M410.7 679.7h10M411.9 643.2h10M411.9 676.8h10M413.1 647.2h10M413.1 672.4h10M414.3 642.4h10M414.3 678.4h10M415.5 648.2h10M415.5 683.7h10M416.7 645.2h10M416.7 671.6h10M417.9 642.1h10M417.9 670.8h10M419.1 638.8h10M419.1 669.2h10M420.3 640.9h10M420.3 664.3h10M421.5 640.0h10M421.5 670.5h10M422.7 636.7h10M422.7 668.5h10M423.9 634.5h10M423.9 660.0h10M425.1 636.3h10M425.1 663.8h10M426.3 636.6h10M426.3 660.0h10M427.5 632.1h10M427.5 656.2h10M428.7 633.7h10M428.7 667.5h10M429.9 633.8h10M429.9 659.3h10M431.1 631.3h10M431.1 665.7h10M432.3 637.6h10M432.3 665.4h10M433.5 633.2h10M433.5 660.4h10M434.7 630.1h10M434.7 660.6h10M435.9 637.5h10M435.9 666.2h10M437.1 635.8h10M437.1 663.6h10M438.3 651.3h10M438.3 674.8h10M439.5 653.7h10M439.5 677.2h10M440.7 647.2h10M440.7 679.7h10M441.9 655.2h10M441.9 681.9h10M443.1 658.9h10M443.1 684.4h10M444.3 656.0h10M444.3 688.1h10M445.5 660.0h10M445.5 693.0h10M446.7 661.0h10M446.7 693.6h10M447.9 663.8h10M447.9 691.4h10M449.1 660.3h10M449.1 693.4h10M450.3 655.5h10M450.3 688.3h10M451.5 655.6h10M451.5 686.3h10M452.7 654.5h10M452.7 690.3h10M453.9 647.2h10M453.9 676.0h10M455.1 649.0h10M455.1 676.0h10M456.3 643.0h10M456.3 671.2h10M457.5 648.4h10M457.5 674.3h10M458.7 637.9h10M458.7 665.5h10M459.9 635.6h10M459.9 663.7h10M461.1 636.4h10M461.1 664.3h10M462.3 630.0h10M462.3 664.1h10M463.5 631.2h10M463.5 661.4h10M464.7 629.9h10M464.7 654.7h10M465.9 620.2h10M465.9 653.7h10M467.1 629.5h10M467.1 652.1h10M468.3 622.6h10M468.3 652.4h10M469.5 617.1h10M469.5 653.6h10M470.7 621.3h10M470.7 653.1h10M471.9 624.9h10M471.9 655.2h10M473.1 624.2h10M473.1 658.1h10M474.3 628.6h10M474.3 661.7h10M475.5 629.3h10M475.5 664.8h10M476.7 639.7h10M476.7 664.0h10M477.9 636.3h10M477.9 669.5h10M479.1 639.6h10M479.1 665.0h10M480.3 637.4h10M480.3 670.9h10M481.5 639.8h10M481.5 667.8h10M482.7 646.4h10M482.7 673.6h10M483.9 652.0h10M483.9 681.5h10M485.1 649.8h10M485.1 679.9h10M486.3 649.5h10M486.3 685.2h10M487.5 652.6h10M487.5 680.8h10M488.7 657.4h10M488.7 692.2h10M489.9 655.3h10M489.9 689.3h10M491.1 662.6h10M491.1 698.9h10M492.3 661.2h10M492.3 692.8h10M493.5 666.6h10M493.5 700.6h10M494.7 678.7h10M494.7 707.1h10M495.9 681.7h10M495.9 714.8h10M497.1 687.8h10M497.1 724.5h10M498.3 697.4h10M498.3 722.5h10M499.5 701.9h10M499.5 730.3h10M500.7 705.8h10M500.7 728.8h10M501.9 716.1h10M501.9 742.7h10M503.1 712.9h10M503.1 746.5h10M504.3 720.4h10M504.3 745.1h10M505.5 719.1h10M505.5 749.8h10M506.7 716.7h10M506.7 752.2h10M507.9 723.6h10M507.9 748.4h10M509.1 718.1h10M509.1 743.4h10M510.3 710.4h10M510.3 741.3h10M511.5 711.8h10M511.5 737.1h10M512.7 704.0h10M512.7 728.6h10M513.9 695.8h10M513.9 729.0h10M515.1 687.8h10M515.1 721.9h10M516.3 694.5h10M516.3 723.7h10M517.5 688.2h10M517.5 723.7h10M518.7 698.2h10M518.7 725.3h10M519.9 686.1h10M519.9 715.2h10M521.1 692.3h10M521.1 717.6h10M522.3 695.8h10M522.3 729.7h10M523.5 695.1h10M523.5 722.9h10M524.7 691.3h10M524.7 717.4h10M525.9 688.6h10M525.9 725.2h10M527.1 695.5h10M527.1 717.7h10M528.3 691.7h10M528.3 720.7h10M529.5 688.6h10M529.5 721.1h10M530.7 698.4h10M530.7 729.3h10M531.9 702.5h10M531.9 729.2h10M533.1 707.8h10M533.1 733.6h10M534.3 710.3h10M534.3 741.6h10M535.5 707.9h10M535.5 744.4h10M536.7 720.4h10M536.7 744.6h10M537.9 723.7h10M537.9 757.0h10M539.1 729.1h10M539.1 763.5h10M540.3 728.1h10M540.3 762.2h10M541.5 731.0h10M541.5 763.5h10M542.7 735.2h10M542.7 758.6h10M543.9 725.5h10M543.9 761.5h10M545.1 731.8h10M545.1 762.3h10M546.3 731.7h10M546.3 765.2h10M547.5 731.8h10M547.5 759.9h10M548.7 731.8h10M548.7 765.9h10M549.9 735.2h10M549.9 760.3h10M551.1 733.6h10M551.1 757.9h10M552.3 731.2h10M552.3 765.3h10M553.5 737.2h10M553.5 760.2h10M554.7 738.7h10M554.7 765.1h10M555.9 732.2h10M555.9 759.4h10M557.1 734.1h10M557.1 766.1h10M558.3 736.5h10M558.3 765.2h10M559.5 732.0h10M559.5 768.1h10M560.7 738.8h10M560.7 760.9h10M561.9 730.8h10M561.9 758.2h10M563.1 731.8h10M563.1 761.9h10M564.3 730.8h10M564.3 759.4h10M565.5 737.4h10M565.5 771.0h10M566.7 734.1h10M566.7 759.1h10M567.9 730.5h10M567.9 757.9h10M569.1 729.0h10M569.1 758.8h10M570.3 729.8h10M570.3 757.5h10M571.5 727.9h10M571.5 759.6h10M572.7 722.5h10M572.7 755.1h10M573.9 724.5h10M573.9 751.2h10M575.1 720.2h10M575.1 752.7h10M576.3 716.2h10M576.3 743.0h10M577.5 716.5h10M577.5 740.4h10M578.7 712.6h10M578.7 735.9h10M579.9 708.5h10M579.9 733.0h10M581.1 702.4h10M581.1 730.1h10M582.3 706.8h10M582.3 730.0h10M583.5 698.2h10M583.5 723.3h10M584.7 697.4h10M584.7 725.1h10M585.9 697.1h10M585.9 720.0h10M587.1 692.1h10M587.1 721.4h10M588.3 684.4h10M588.3 715.7h10M589.5 685.0h10M589.5 712.5h10M590.7 679.2h10M590.7 705.9h10M591.9 683.2h10M591.9 710.8h10M593.1 681.8h10M593.1 713.9h10M594.3 686.5h10M594.3 718.0h10M595.5 682.3h10M595.5 712.9h10M596.7 687.2h10M596.7 714.0h10M597.9 683.2h10M597.9 714.5h10M599.1 686.1h10M599.1 715.3h10M600.3 683.9h10M600.3 717.2h10M601.5 688.8h10M601.5 712.9h10M602.7 680.0h10M602.7 713.0h10M603.9 688.9h10M603.9 715.8h10M605.1 684.3h10M605.1 713.4h10M606.3 692.8h10M606.3 728.9h10M607.5 704.5h10M607.5 733.8h10M608.7 710.4h10M608.7 735.1h10M609.9 709.1h10M609.9 744.6h10M611.1 726.6h10M611.1 749.5h10M612.3 731.4h10M612.3 756.8h10M613.5 729.8h10M613.5 756.3h10M614.7 728.3h10M614.7 763.5h10M615.9 735.3h10M615.9 758.9h10M617.1 734.3h10M617.1 770.2h10M618.3 740.0h10M618.3 769.7h10M619.5 738.6h10M619.5 768.5h10M620.7 724.2h10M620.7 759.1h10M621.9 718.7h10M621.9 754.8h10M623.1 721.1h10M623.1 744.7h10M624.3 705.6h10M624.3 739.3h10M625.5 705.6h10M625.5 730.8h10M626.7 703.7h10M626.7 733.7h10M627.9 697.9h10M627.9 727.5h10M629.1 699.0h10M629.1 721.8h10M630.3 695.2h10M630.3 731.2h10M631.5 694.2h10M631.5 729.6h10M632.7 694.6h10M632.7 726.0h10M633.9 693.4h10M633.9 725.8h10M635.1 692.1h10M635.1 725.5h10M636.3 702.5h10M636.3 724.4h10M637.5 700.0h10M637.5 723.8h10M638.7 704.4h10M638.7 731.7h10M639.9 706.9h10M639.9 736.1h10M641.1 717.1h10M641.1 742.6h10M642.3 720.5h10M642.3 751.5h10M643.5 733.5h10M643.5 755.8h10M644.7 734.7h10M644.7 770.2h10M645.9 739.1h10M645.9 769.4h10M647.1 738.2h10M647.1 768.9h10M648.3 741.3h10M648.3 772.9h10M649.5 743.1h10M649.5 771.8h10M650.7 735.7h10M650.7 771.7h10M651.9 741.9h10M651.9 769.4h10M653.1 728.3h10M653.1 756.2h10M654.3 720.3h10M654.3 749.5h10M655.5 716.5h10M655.5 745.7h10M656.7 708.6h10M656.7 734.8h10M657.9 716.0h10M657.9 738.4h10M659.1 708.1h10M659.1 740.3h10M660.3 704.6h10M660.3 734.8h10M661.5 709.9h10M661.5 740.1h10M662.7 711.6h10M662.7 734.2h10M663.9 712.5h10M663.9 741.4h10M665.1 714.0h10M665.1 741.3h10M666.3 723.8h10M666.3 753.0h10M667.5 732.5h10M667.5 757.5h10M668.7 739.4h10M668.7 764.4h10M669.9 752.8h10M669.9 775.4h10M671.1 760.7h10M671.1 791.9h10M672.3 759.3h10M672.3 793.3h10M673.5 765.4h10M673.5 790.2h10M674.7 760.1h10M674.7 792.4h10M675.9 749.9h10M675.9 772.9h10M677.1 740.0h10M677.1 772.9h10M678.3 735.5h10M678.3 770.8h10M679.5 734.6h10M679.5 756.2h10M680.7 726.3h10M680.7 752.5h10M681.9 729.0h10M681.9 751.4h10M683.1 726.9h10M683.1 754.2h10M684.3 719.5h10M684.3 746.2h10M685.5 722.8h10M685.5 744.8h10M686.7 715.7h10M686.7 750.1h10M687.9 719.8h10M687.9 754.7h10M689.1 730.3h10M689.1 765.9h10M690.3 737.8h10M690.3 763.6h10M691.5 742.3h10M691.5 777.1h10M692.7 751.0h10M692.7 784.6h10M693.9 759.2h10M693.9 785.8h10M695.1 761.5h10M695.1 795.6h10M696.3 763.5h10M696.3 799.3h10M697.5 771.2h10M697.5 795.4h10M698.7 769.6h10M698.7 803.8h10M699.9 769.6h10M699.9 801.5h10M701.1 772.9h10M701.1 798.9h10M702.3 774.8h10M702.3 806.5h10M703.5 773.0h10M703.5 796.4h10M704.7 772.8h10M704.7 800.7h10M705.9 768.5h10M705.9 791.2h10M707.1 765.1h10M707.1 796.8h10M708.3 765.8h10M708.3 790.1h10M709.5 756.3h10M709.5 787.3h10M710.7 751.5h10M710.7 784.3h10M711.9 741.8h10M711.9 775.9h10M713.1 748.5h10M713.1 778.4h10M714.3 743.6h10M714.3 778.3h10M715.5 747.1h10M715.5 778.1h10M716.7 748.4h10M716.7 771.1h10M717.9 745.9h10M717.9 781.4h10M719.1 742.7h10M719.1 771.7h10M720.3 750.8h10M720.3 772.9h10M721.5 747.2h10M721.5 772.2h10M722.7 744.4h10M722.7 777.3h10M723.9 748.4h10M723.9 780.6h10M725.1 752.0h10M725.1 776.9h10M726.3 751.4h10M726.3 775.5h10M727.5 750.7h10M727.5 784.9h10M728.7 751.4h10M728.7 779.4h10M729.9 748.3h10M729.9 780.4h10M731.1 745.4h10M731.1 773.9h10M732.3 755.4h10M732.3 779.4h10M733.5 746.5h10M733.5 773.1h10M734.7 746.1h10M734.7 776.9h10M735.9 748.7h10M735.9 777.3h10M737.1 742.3h10M737.1 775.7h10M738.3 742.9h10M738.3 777.8h10M739.5 746.5h10M739.5 770.3h10M740.7 748.2h10M740.7 778.2h10M741.9 752.3h10M741.9 777.0h10M743.1 749.1h10M743.1 781.7h10M744.3 757.9h10M744.3 790.6h10M745.5 763.9h10M745.5 788.4h10M746.7 767.3h10M746.7 796.9h10M747.9 764.9h10M747.9 794.7h10M749.1 765.3h10M749.1 796.8h10M750.3 765.1h10M750.3 789.0h10M751.5 768.3h10M751.5 791.8h10M752.7 772.0h10M752.7 799.5h10M753.9 770.0h10M753.9 797.6h10M755.1 772.9h10M755.1 795.3h10M756.3 777.5h10M756.3 811.7h10M757.5 776.6h10M757.5 809.2h10M758.7 787.7h10M758.7 812.4h10M759.9 797.4h10M759.9 819.3h10M761.1 801.5h10M761.1 827.3h10M762.3 803.6h10M762.3 828.6h10M763.5 807.0h10M763.5 836.7h10M764.7 821.7h10M764.7 845.4h10M765.9 820.8h10M765.9 845.7h10M767.1 816.1h10M767.1 849.2h10M768.3 817.3h10M768.3 849.8h10M769.5 819.3h10M769.5 845.7h10M770.7 818.6h10M770.7 843.0h10M771.9 816.2h10M771.9 844.5h10M773.1 813.2h10M773.1 845.3h10M774.3 816.7h10M774.3 844.4h10M775.5 812.9h10M775.5 844.7h10M776.7 813.5h10M776.7 847.4h10M777.9 817.2h10M777.9 840.5h10M779.1 812.9h10M779.1 840.2h10M780.3 817.0h10M780.3 839.3h10M781.5 814.4h10M781.5 846.5h10M782.7 803.7h10M782.7 835.3h10M783.9 798.9h10M783.9 828.0h10M785.1 798.2h10M785.1 822.8h10M786.3 785.2h10M786.3 811.6h10M787.5 787.9h10M787.5 813.9h10M788.7 787.5h10M788.7 809.2h10M789.9 776.5h10M789.9 803.4h10M791.1 776.3h10M791.1 802.4h10M792.3 773.5h10M792.3 804.6h10M793.5 775.0h10M793.5 808.7h10M794.7 773.1h10M794.7 800.9h10M795.9 772.3h10M795.9 798.9h10M797.1 776.2h10M797.1 808.4h10M798.3 777.8h10M798.3 801.6h10M799.5 776.8h10M799.5 805.8h10M800.7 776.4h10M800.7 800.7h10M801.9 772.9h10M801.9 800.7h10M803.1 764.5h10M803.1 799.7h10M804.3 768.0h10M804.3 798.8h10M805.5 766.4h10M805.5 792.9h10M806.7 763.9h10M806.7 786.1h10M807.9 760.6h10M807.9 785.7h10M809.1 758.8h10M809.1 780.2h10M810.3 756.9h10M810.3 783.6h10M811.5 752.1h10M811.5 786.2h10M812.7 751.7h10M812.7 778.0h10M813.9 749.6h10M813.9 772.9h10M815.1 747.3h10M815.1 779.2h10M816.3 742.4h10M816.3 773.7h10M817.5 744.5h10M817.5 770.1h10M818.7 746.8h10M818.7 773.4h10M819.9 759.6h10M819.9 785.3h10M821.1 762.1h10M821.1 794.1h10M822.3 768.9h10M822.3 795.5h10M823.5 778.2h10M823.5 802.7h10M824.7 784.7h10M824.7 814.3h10M825.9 791.6h10M825.9 813.2h10M827.1 789.4h10M827.1 818.2h10M828.3 798.5h10M828.3 821.5h10M829.5 794.2h10M829.5 825.5h10M830.7 796.0h10M830.7 826.5h10M831.9 804.4h10M831.9 829.4h10M833.1 804.4h10M833.1 835.5h10M834.3 802.7h10M834.3 836.0h10M835.5 812.1h10M835.5 836.3h10M836.7 809.7h10M836.7 833.8h10M837.9 813.3h10M837.9 835.0h10M839.1 810.4h10M839.1 839.5h10M840.3 805.3h10M840.3 837.8h10M841.5 807.4h10M841.5 837.9h10M842.7 802.8h10M842.7 836.8h10M843.9 797.9h10M843.9 828.3h10M845.1 788.5h10M845.1 823.0h10M846.3 778.0h10M846.3 807.9h10M847.5 768.9h10M847.5 791.2h10M848.7 758.0h10M848.7 779.8h10M849.9 748.7h10M849.9 775.2h10M851.1 744.7h10M851.1 769.7h10M852.3 748.0h10M852.3 771.2h10M853.5 741.4h10M853.5 764.8h10M854.7 740.3h10M854.7 770.7h10M855.9 739.5h10M855.9 765.3h10M857.1 738.4h10M857.1 765.3h10M858.3 735.7h10M858.3 766.6h10M859.5 735.9h10M859.5 764.7h10M860.7 730.4h10M860.7 756.9h10M861.9 724.7h10M861.9 750.9h10M863.1 724.3h10M863.1 746.1h10M864.3 714.4h10M864.3 742.3h10M865.5 706.6h10M865.5 732.3h10M866.7 702.5h10M866.7 727.3h10M867.9 698.9h10M867.9 733.0h10M869.1 697.4h10M869.1 727.0h10M870.3 697.6h10M870.3 722.0h10M871.5 697.6h10M871.5 726.3h10M872.7 688.1h10M872.7 715.5h10M873.9 685.2h10M873.9 715.9h10M875.1 691.2h10M875.1 722.8h10M876.3 685.6h10M876.3 717.4h10M877.5 687.4h10M877.5 714.2h10M878.7 686.7h10M878.7 722.1h10M879.9 686.3h10M879.9 723.2h10M881.1 689.5h10M881.1 713.2h10M882.3 690.9h10M882.3 719.0h10M883.5 690.7h10M883.5 719.8h10M884.7 691.1h10M884.7 717.7h10M885.9 688.2h10M885.9 715.6h10M887.1 688.2h10M887.1 712.1h10M888.3 681.7h10M888.3 714.4h10M889.5 681.0h10M889.5 713.1h10M890.7 681.0h10M890.7 715.9h10M891.9 675.9h10M891.9 709.6h10M893.1 674.7h10M893.1 713.0h10M894.3 680.6h10M894.3 711.2h10M895.5 672.7h10M895.5 712.5h10M896.7 673.0h10M896.7 709.9h10M897.9 678.2h10M897.9 715.1h10M899.1 683.5h10M899.1 711.6h10M900.3 673.8h10M900.3 710.1h10M901.5 673.7h10M901.5 705.9h10M902.7 677.7h10M902.7 708.6h10M903.9 677.9h10M903.9 708.1h10M905.1 674.6h10M905.1 705.2h10M906.3 674.6h10M906.3 710.0h10M907.5 680.0h10M907.5 708.8h10M908.7 679.6h10M908.7 708.1h10M909.9 672.2h10M909.9 711.7h10M911.1 671.2h10M911.1 712.2h10M912.3 671.5h10M912.3 707.5h10M913.5 666.8h10M913.5 710.0h10M914.7 673.9h10M914.7 702.4h10M915.9 660.7h10M915.9 703.1h10M917.1 665.5h10M917.1 700.6h10M918.3 657.0h10M918.3 698.4h10M919.5 658.0h10M919.5 692.3h10M920.7 652.8h10M920.7 697.0h10M921.9 658.6h10M921.9 702.7h10M923.1 653.6h10M923.1 695.7h10M924.3 655.6h10M924.3 696.3h10M925.5 663.5h10M925.5 694.9h10M926.7 654.9h10M926.7 691.3h10M927.9 659.7h10M927.9 692.5h10M929.1 660.6h10M929.1 690.3h10M930.3 647.5h10M930.3 696.2h10M931.5 657.8h10M931.5 690.1h10M932.7 654.8h10M932.7 697.2h10M933.9 655.6h10M933.9 693.6h10M935.1 668.3h10M935.1 699.4h10M936.3 651.6h10M936.3 696.4h10M937.5 659.4h10M937.5 695.7h10M938.7 654.7h10M938.7 700.3h10M939.9 659.5h10M939.9 697.1h10M941.1 661.2h10M941.1 692.7h10M942.3 654.8h10M942.3 693.7h10M943.5 655.7h10M943.5 693.4h10M944.7 654.0h10M944.7 691.4h10M945.9 642.7h10M945.9 682.5h10M947.1 633.9h10M947.1 685.9h10M948.3 636.3h10M948.3 675.9h10M949.5 629.7h10M949.5 677.9h10M950.7 630.6h10M950.7 665.1h10M951.9 621.8h10M951.9 672.8h10M953.1 625.7h10M953.1 662.4h10M954.3 622.6h10M954.3 660.7h10M955.5 627.0h10M955.5 658.8h10M956.7 619.2h10M956.7 663.7h10M957.9 623.6h10M957.9 660.6h10M959.1 623.5h10M959.1 662.5h10M960.3 626.9h10M960.3 663.7h10M961.5 618.3h10M961.5 668.2h10M962.7 623.7h10M962.7 661.5h10M963.9 622.9h10M963.9 664.3h10M965.1 616.9h10M965.1 668.9h10M966.3 622.9h10M966.3 664.2h10M967.5 627.1h10M967.5 667.0h10M968.7 627.5h10M968.7 659.9h10M969.9 619.7h10M969.9 662.3h10M971.1 623.5h10M971.1 660.4h10M972.3 616.2h10M972.3 666.9h10M973.5 630.1h10M973.5 670.5h10M974.7 615.3h10M974.7 663.8h10M975.9 630.0h10M975.9 661.7h10M977.1 627.8h10M977.1 662.4h10M978.3 628.7h10M978.3 667.2h10M979.5 625.1h10M979.5 671.8h10M980.7 631.2h10M980.7 662.5h10M981.9 633.1h10M981.9 668.5h10M983.1 627.4h10M983.1 669.3h10M984.3 624.0h10M984.3 671.8h10M985.5 629.4h10M985.5 668.7h10M986.7 620.3h10M986.7 667.9h10M987.9 624.3h10M987.9 675.7h10M989.1 627.7h10M989.1 660.8h10M990.3 627.6h10M990.3 673.2h10M991.5 629.2h10M991.5 665.3h10M992.7 627.0h10M992.7 669.9h10M993.9 629.9h10M993.9 665.5h10M995.1 623.9h10M995.1 668.4h10M996.3 625.7h10M996.3 673.4h10M997.5 626.6h10M997.5 664.7h10M998.7 632.4h10M998.7 669.0h10M999.9 633.4h10M999.9 666.2h10M1001.1 629.9h10M1001.1 667.7h10M1002.3 651.2h10M1002.3 697.3h10M1003.5 675.9h10M1003.5 717.9h10M1004.7 705.8h10M1004.7 738.8h10M1005.9 704.2h10M1005.9 737.9h10M1007.1 696.7h10M1007.1 727.7h10M1008.3 686.7h10M1008.3 727.8h10M1009.5 672.4h10M1009.5 714.2h10M1010.7 659.4h10M1010.7 709.7h10M1011.9 654.3h10M1011.9 691.6h10M1013.1 641.6h10M1013.1 687.7h10M1014.3 633.9h10M1014.3 673.4h10M1015.5 620.5h10M1015.5 670.9h10M1016.7 619.1h10M1016.7 664.2h10M1017.9 626.7h10M1017.9 661.0h10M1019.1 615.9h10M1019.1 665.9h10M1020.3 626.6h10M1020.3 663.9h10M1021.5 617.2h10M1021.5 668.0h10M1022.7 627.1h10M1022.7 660.7h10M1023.9 618.4h10M1023.9 662.1h10M1025.1 623.5h10M1025.1 658.4h10M1026.3 624.5h10M1026.3 672.5h10M1027.5 636.8h10M1027.5 680.2h10M1028.7 651.9h10M1028.7 684.8h10M1029.9 657.3h10M1029.9 704.9h10M1031.1 667.7h10M1031.1 711.8h10M1032.3 678.1h10M1032.3 717.1h10M1033.5 686.8h10M1033.5 729.5h10M1034.7 699.0h10M1034.7 741.1h10M1035.9 706.0h10M1035.9 749.2h10M1037.1 709.2h10M1037.1 748.7h10M1038.3 701.5h10M1038.3 750.9h10M1039.5 710.4h10M1039.5 743.9h10M1040.7 698.6h10M1040.7 744.0h10M1041.9 712.2h10M1041.9 748.9h10M1043.1 707.9h10M1043.1 746.4h10M1044.3 681.6h10M1044.3 729.5h10M1045.5 683.6h10M1045.5 723.8h10M1046.7 671.6h10M1046.7 706.6h10M1047.9 650.1h10M1047.9 699.4h10M1049.1 636.6h10M1049.1 683.7h10M1050.3 629.3h10M1050.3 679.7h10M1051.5 625.4h10M1051.5 656.9h10M1052.7 619.4h10M1052.7 654.8h10M1053.9 605.9h10M1053.9 652.4h10M1055.1 605.2h10M1055.1 652.9h10M1056.3 615.8h10M1056.3 650.0h10M1057.5 615.5h10M1057.5 647.2h10M1058.7 614.9h10M1058.7 656.2h10M1059.9 615.2h10M1059.9 650.2h10M1061.1 606.1h10M1061.1 652.3h10M1062.3 614.0h10M1062.3 655.2h10M1063.5 606.1h10M1063.5 654.4h10M1064.7 619.3h10M1064.7 656.8h10M1065.9 624.1h10M1065.9 656.3h10M1067.1 624.1h10M1067.1 671.5h10M1068.3 626.6h10M1068.3 673.4h10M1069.5 635.7h10M1069.5 673.5h10M1070.7 634.9h10M1070.7 682.0h10M1071.9 641.6h10M1071.9 673.1h10M1073.1 636.5h10M1073.1 686.3h10M1074.3 642.2h10M1074.3 689.8h10M1075.5 646.2h10M1075.5 690.8h10M1076.7 647.1h10M1076.7 685.7h10M1077.9 653.6h10M1077.9 683.9h10M1079.1 642.9h10M1079.1 685.4h10M1080.3 649.5h10M1080.3 684.9h10M1081.5 645.6h10M1081.5 679.0h10M1082.7 647.0h10M1082.7 679.3h10M1083.9 648.4h10M1083.9 680.7h10M1085.1 646.9h10M1085.1 679.0h10M1086.3 650.4h10M1086.3 687.2h10M1087.5 647.7h10M1087.5 681.2h10M1088.7 647.5h10M1088.7 691.7h10M1089.9 647.3h10M1089.9 684.1h10M1091.1 648.7h10M1091.1 681.2h10M1092.3 647.3h10M1092.3 689.3h10M1093.5 643.1h10M1093.5 680.6h10M1094.7 655.7h10M1094.7 694.2h10M1095.9 660.4h10M1095.9 696.6h10M1097.1 674.2h10M1097.1 717.5h10M1098.3 690.6h10M1098.3 725.6h10M1099.5 699.5h10M1099.5 745.9h10M1100.7 708.7h10M1100.7 751.3h10M1101.9 719.7h10M1101.9 757.9h10M1103.1 714.4h10M1103.1 758.2h10M1104.3 712.5h10M1104.3 753.5h10M1105.5 714.4h10M1105.5 751.8h10M1106.7 716.9h10M1106.7 751.6h10M1107.9 710.8h10M1107.9 745.6h10M1109.1 714.9h10M1109.1 757.6h10M1110.3 714.6h10M1110.3 751.7h10M1111.5 716.5h10M1111.5 748.2h10M1112.7 716.9h10M1112.7 754.1h10M1113.9 715.0h10M1113.9 750.7h10M1115.1 698.0h10M1115.1 738.4h10M1116.3 672.5h10M1116.3 712.0h10M1117.5 666.1h10M1117.5 696.8h10M1118.7 654.2h10M1118.7 690.1h10M1119.9 645.3h10M1119.9 687.1h10M1121.1 654.1h10M1121.1 689.6h10M1122.3 659.3h10M1122.3 688.5h10M1123.5 644.9h10M1123.5 685.8h10M1124.7 647.8h10M1124.7 685.5h10M1125.9 667.2h10M1125.9 702.0h10M1127.1 679.1h10M1127.1 726.4h10M1128.3 697.9h10M1128.3 745.2h10M1129.5 725.0h10M1129.5 769.5h10M1130.7 744.3h10M1130.7 785.3h10M1131.9 752.4h10M1131.9 782.3h10M1133.1 743.0h10M1133.1 780.4h10M1134.3 750.7h10M1134.3 783.4h10M1135.5 748.5h10M1135.5 795.8h10M1136.7 755.0h10M1136.7 786.2h10M1137.9 754.4h10M1137.9 790.3h10M1139.1 754.2h10M1139.1 785.7h10M1140.3 748.6h10M1140.3 789.3h10M1141.5 750.5h10M1141.5 783.6h10M1142.7 745.3h10M1142.7 788.9h10M1143.9 754.2h10M1143.9 784.7h10M1145.1 747.2h10M1145.1 784.2h10M1146.3 751.9h10M1146.3 797.9h10M1147.5 739.6h10M1147.5 784.6h10M1148.7 724.7h10M1148.7 762.9h10M1149.9 702.7h10M1149.9 740.8h10M1151.1 689.5h10M1151.1 723.3h10M1152.3 687.1h10M1152.3 724.6h10M1153.5 690.1h10M1153.5 720.5h10M1154.7 690.5h10M1154.7 720.1h10M1155.9 679.7h10M1155.9 722.2h10M1157.1 686.6h10M1157.1 719.1h10M1158.3 686.3h10M1158.3 718.3h10M1159.5 691.9h10M1159.5 728.2h10M1160.7 701.0h10M1160.7 744.6h10M1161.9 725.3h10M1161.9 755.1h10M1163.1 734.9h10M1163.1 780.7h10M1164.3 752.9h10M1164.3 790.4h10M1165.5 757.3h10M1165.5 801.0h10M1166.7 761.2h10M1166.7 806.7h10M1167.9 766.4h10M1167.9 796.9h10M1169.1 760.8h10M1169.1 803.6h10M1170.3 766.4h10M1170.3 796.9h10M1171.5 759.4h10M1171.5 796.7h10M1172.7 766.6h10M1172.7 799.7h10M1173.9 752.7h10M1173.9 797.9h10M1175.1 748.6h10M1175.1 777.0h10M1176.3 735.3h10M1176.3 770.3h10M1177.5 734.3h10M1177.5 763.8h10M1178.7 716.9h10M1178.7 761.1h10M1179.9 707.8h10M1179.9 747.2h10M1181.1 700.4h10M1181.1 743.9h10M1182.3 695.2h10M1182.3 731.7h10M1183.5 682.1h10M1183.5 725.8h10M1184.7 683.0h10M1184.7 723.7h10M1185.9 690.3h10M1185.9 722.3h10M1187.1 685.3h10M1187.1 721.1h10M1188.3 690.1h10M1188.3 723.8h10M1189.5 688.5h10M1189.5 716.5h10M1190.7 685.1h10M1190.7 727.3h10M1191.9 689.4h10M1191.9 726.3h10M1193.1 690.3h10M1193.1 724.5h10M1194.3 704.6h10M1194.3 738.3h10M1195.5 721.0h10M1195.5 753.7h10M1196.7 729.2h10M1196.7 769.7h10M1197.9 748.5h10M1197.9 784.3h10M1199.1 760.4h10M1199.1 804.7h10M1200.3 766.6h10M1200.3 793.7h10M1201.5 757.9h10M1201.5 791.5h10M1202.7 757.6h10M1202.7 795.4h10M1203.9 759.6h10M1203.9 797.5h10M1205.1 762.7h10M1205.1 800.4h10M1206.3 760.7h10M1206.3 797.0h10M1207.5 762.4h10M1207.5 803.0h10M1208.7 765.3h10M1208.7 796.8h10M1209.9 764.4h10M1209.9 796.3h10M1211.1 759.5h10M1211.1 802.0h10M1212.3 760.4h10M1212.3 794.6h10M1213.5 764.9h10M1213.5 793.4h10M1214.7 742.7h10M1214.7 787.4h10M1215.9 714.1h10M1215.9 746.8h10M1217.1 677.7h10M1217.1 719.4h10M1218.3 693.3h10M1218.3 721.4h10M1219.5 688.6h10M1219.5 729.4h10M1220.7 703.4h10M1220.7 740.3h10M1221.9 705.1h10M1221.9 748.8h10M1223.1 711.5h10M1223.1 755.4h10M1224.3 721.0h10M1224.3 761.6h10M1225.5 729.2h10M1225.5 769.5h10M1226.7 740.1h10M1226.7 774.6h10M1227.9 740.5h10M1227.9 784.0h10M1229.1 745.3h10M1229.1 773.7h10M1230.3 746.3h10M1230.3 786.8h10M1231.5 746.5h10M1231.5 780.3h10M1232.7 748.9h10M1232.7 778.0h10M1233.9 750.5h10M1233.9 783.2h10M1235.1 751.4h10M1235.1 780.5h10M1236.3 744.0h10M1236.3 786.0h10M1237.5 749.9h10M1237.5 778.9h10M1238.7 748.7h10M1238.7 777.8h10M1239.9 745.2h10M1239.9 782.3h10M1241.1 748.6h10M1241.1 792.2h10M1242.3 730.7h10M1242.3 767.3h10M1243.5 713.5h10M1243.5 755.6h10M1244.7 701.7h10M1244.7 737.2h10M1245.9 689.3h10M1245.9 716.8h10M1247.1 661.4h10M1247.1 700.6h10M1248.3 650.2h10M1248.3 693.9h10M1249.5 650.2h10M1249.5 684.2h10M1250.7 650.6h10M1250.7 691.7h10M1251.9 659.3h10M1251.9 689.2h10M1253.1 654.8h10M1253.1 692.3h10M1254.3 656.7h10M1254.3 686.7h10M1255.5 665.5h10M1255.5 698.8h10M1256.7 681.8h10M1256.7 715.8h10M1257.9 702.5h10M1257.9 739.9h10M1259.1 726.8h10M1259.1 764.3h10M1260.3 745.9h10M1260.3 781.6h10M1261.5 769.6h10M1261.5 809.2h10M1262.7 792.8h10M1262.7 824.0h10M1263.9 795.0h10M1263.9 832.4h10M1265.1 802.2h10M1265.1 833.9h10M1266.3 801.4h10M1266.3 835.2h10M1267.5 795.9h10M1267.5 835.8h10M1268.7 792.3h10M1268.7 829.4h10M1269.9 793.1h10M1269.9 837.7h10M1271.1 798.4h10M1271.1 834.2h10M1272.3 796.9h10M1272.3 828.1h10M1273.5 797.8h10M1273.5 830.3h10M1274.7 791.7h10M1274.7 834.0h10M1275.9 799.2h10M1275.9 836.4h10M1277.1 796.4h10M1277.1 833.3h10M1278.3 787.1h10M1278.3 831.2h10M1279.5 774.1h10M1279.5 814.8h10M1280.7 756.4h10M1280.7 797.5h10M1281.9 743.4h10M1281.9 774.4h10M1283.1 725.3h10M1283.1 763.3h10M1284.3 715.1h10M1284.3 744.2h10M1285.5 695.7h10M1285.5 738.9h10M1286.7 691.9h10M1286.7 735.5h10M1287.9 694.1h10M1287.9 738.2h10M1289.1 694.8h10M1289.1 734.8h10M1290.3 695.7h10M1290.3 735.8h10M1291.5 705.9h10M1291.5 737.7h10M1292.7 697.1h10M1292.7 733.7h10M1293.9 697.4h10M1293.9 728.9h10M1295.1 694.7h10M1295.1 724.1h10M1296.3 691.1h10M1296.3 726.9h10M1297.5 688.1h10M1297.5 720.1h10M1298.7 685.6h10M1298.7 721.8h10M1299.9 680.8h10M1299.9 723.3h10M1301.1 678.8h10M1301.1 721.1h10M1302.3 678.5h10M1302.3 718.7h10M1303.5 680.7h10M1303.5 717.3h10M1304.7 677.5h10M1304.7 718.5h10M1305.9 680.4h10M1305.9 712.1h10M1307.1 693.5h10M1307.1 727.1h10M1308.3 690.3h10M1308.3 731.4h10M1309.5 696.5h10M1309.5 730.1h10M1310.7 699.8h10M1310.7 739.9h10M1311.9 705.4h10M1311.9 742.6h10M1313.1 707.3h10M1313.1 740.6h10M1314.3 711.2h10M1314.3 740.2h10M1315.5 709.1h10M1315.5 753.0h10M1316.7 702.9h10M1316.7 746.1h10M1317.9 709.8h10M1317.9 738.6h10M1319.1 701.4h10M1319.1 746.2h10M1320.3 708.2h10M1320.3 740.8h10M1321.5 706.1h10M1321.5 745.1h10" stroke="#000" stroke-width="1.3" fill="none" stroke-opacity="1"/>
<path d="M54.5 685.6L55.7 690.2L56.9 686.5L58.1 690.2L59.3 687.9L60.5 688.3L61.7 695.9L62.9 695.1L64.1 699.6L65.3 693.0L66.5 694.5L67.7 695.2L68.9 695.6L70.1 696.4L71.3 690.1L72.5 696.1L73.7 690.5L74.9 694.0L76.1 702.1L77.3 693.5L78.5 692.8L79.7 695.0L80.9 693.4L82.1 690.5L83.3 698.2L84.5 692.7L85.7 696.8L86.9 693.4L88.1 698.5L89.3 697.4L90.5 698.2L91.7 697.9L92.9 698.6L94.1 699.0L95.3 698.6L96.5 697.1L97.7 700.6L98.9 703.4L100.1 702.0L101.3 703.0L102.5 706.9L103.7 702.9L104.9 705.5L106.1 708.5L107.3 713.4L108.5 712.9L109.7 710.0L110.9 708.7L112.1 714.9L113.3 715.1L114.5 712.6L115.7 717.4L116.9 711.7L118.1 714.6L119.3 721.5L120.5 715.8L121.7 718.6L122.9 713.8L124.1 723.0L125.3 718.9L126.5 728.1L127.7 724.2L128.9 723.1L130.1 728.7L131.3 726.1L132.5 728.1L133.7 720.2L134.9 723.2L136.1 726.7L137.3 724.6L138.5 724.9L139.7 726.2L140.9 725.0L142.1 725.8L143.3 730.3L144.5 726.5L145.7 727.5L146.9 727.7L148.1 725.4L149.3 721.3L150.5 723.5L151.7 728.1L152.9 730.6L154.1 729.3L155.3 727.9L156.5 725.3L157.7 727.8L158.9 734.0L160.1 728.1L161.3 735.0L162.5 732.0L163.7 732.9L164.9 738.7L166.1 739.3L167.3 740.4L168.5 741.4L169.7 742.6L170.9 751.9L172.1 756.6L173.3 757.1L174.5 758.7L175.7 760.0L176.9 765.9L178.1 769.4L179.3 772.6L180.5 776.8L181.7 773.5L182.9 783.5L184.1 785.6L185.3 790.4L186.5 792.8L187.7 792.5L188.9 799.2L190.1 802.7L191.3 802.1L192.5 800.8L193.7 808.0L194.9 814.2L196.1 816.1L197.3 820.7L198.5 830.2L199.7 831.7L200.9 837.2L202.1 840.8L203.3 844.3L204.5 854.7L205.7 854.7L206.9 860.0L208.1 864.9L209.3 869.7L210.5 871.2L211.7 875.7L212.9 880.0L214.1 880.7L215.3 886.6L216.5 885.5L217.7 886.5L218.9 890.7L220.1 886.8L221.3 888.7L222.5 894.0L223.7 894.0L224.9 898.4L226.1 900.6L227.3 898.3L228.5 904.9L229.7 907.3L230.9 905.7L232.1 907.9L233.3 906.2L234.5 914.0L235.7 920.0L236.9 912.5L238.1 918.8L239.3 924.3L240.5 924.1L241.7 924.9L242.9 930.7L244.1 935.4L245.3 937.3L246.5 938.9L247.7 948.0L248.9 947.3L250.1 959.3L251.3 970.8L252.5 975.5L253.7 987.8L254.9 1002.8L256.1 1000.4L257.3 995.4L258.5 992.1L259.7 990.5L260.9 984.7L262.1 983.3L263.3 973.0L264.5 971.8L265.7 970.0L266.9 968.1L268.1 962.9L269.3 967.1L270.5 962.2L271.7 959.6L272.9 964.1L274.1 955.2L275.3 956.7L276.5 954.9L277.7 948.9L278.9 949.5L280.1 948.5L281.3 944.9L282.5 944.2L283.7 943.4L284.9 937.7L286.1 940.7L287.3 938.2L288.5 935.6L289.7 927.4L290.9 926.1L292.1 921.7L293.3 919.4L294.5 914.2L295.7 910.3L296.9 910.3L298.1 904.2L299.3 902.7L300.5 894.9L301.7 893.3L302.9 895.5L304.1 882.3L305.3 881.4L306.5 873.9L307.7 865.7L308.9 860.3L310.1 862.0L311.3 853.9L312.5 847.6L313.7 844.8L314.9 845.2L316.1 842.2L317.3 839.1L318.5 831.8L319.7 830.0L320.9 828.1L322.1 825.7L323.3 822.5L324.5 818.4L325.7 812.2L326.9 814.7L328.1 808.5L329.3 808.3L330.5 804.5L331.7 798.7L332.9 800.6L334.1 795.6L335.3 795.1L336.5 792.9L337.7 788.9L338.9 782.5L340.1 782.0L341.3 779.7L342.5 778.2L343.7 781.0L344.9 773.6L346.1 767.3L347.3 765.2L348.5 759.7L349.7 760.6L350.9 756.0L352.1 755.3L353.3 749.0L354.5 745.5L355.7 746.7L356.9 735.0L358.1 730.0L359.3 732.8L360.5 725.8L361.7 722.9L362.9 718.8L364.1 715.4L365.3 714.5L366.5 708.1L367.7 706.9L368.9 700.6L370.1 699.8L371.3 701.5L372.5 695.1L373.7 689.0L374.9 687.3L376.1 688.6L377.3 687.0L378.5 682.4L379.7 680.9L380.9 676.6L382.1 677.8L383.3 675.0L384.5 672.5L385.7 673.5L386.9 672.5L388.1 672.8L389.3 672.4L390.5 667.8L391.7 666.4L392.9 671.5L394.1 668.5L395.3 667.4L396.5 664.7L397.7 663.9L398.9 661.1L400.1 662.3L401.3 662.0L402.5 662.4L403.7 662.4L404.9 657.6L406.1 662.5L407.3 659.1L408.5 660.3L409.7 668.0L410.9 661.9L412.1 666.2L413.3 665.8L414.5 661.3L415.7 664.3L416.9 660.0L418.1 659.8L419.3 660.4L420.5 665.9L421.7 658.4L422.9 656.4L424.1 654.0L425.3 652.6L426.5 655.3L427.7 652.6L428.9 647.3L430.1 650.1L431.3 648.3L432.5 644.1L433.7 650.6L434.9 646.5L436.1 648.5L437.3 651.5L438.5 646.8L439.7 645.3L440.9 651.8L442.1 649.7L443.3 663.1L444.5 665.4L445.7 663.5L446.9 668.6L448.1 671.6L449.3 672.1L450.5 676.5L451.7 677.3L452.9 677.6L454.1 676.8L455.3 671.9L456.5 670.9L457.7 672.4L458.9 661.6L460.1 662.5L461.3 657.1L462.5 661.4L463.7 651.7L464.9 649.6L466.1 650.4L467.3 647.0L468.5 646.3L469.7 642.3L470.9 636.9L472.1 640.8L473.3 637.5L474.5 635.4L475.7 637.2L476.9 640.0L478.1 641.1L479.3 645.2L480.5 647.1L481.7 651.9L482.9 652.9L484.1 652.3L485.3 654.2L486.5 653.8L487.7 660.0L488.9 666.7L490.1 664.8L491.3 667.4L492.5 666.7L493.7 674.8L494.9 672.3L496.1 680.8L497.3 677.0L498.5 683.6L499.7 692.9L500.9 698.3L502.1 706.2L503.3 709.9L504.5 716.1L505.7 717.3L506.9 729.4L508.1 729.7L509.3 732.8L510.5 734.4L511.7 734.4L512.9 736.0L514.1 730.7L515.3 725.8L516.5 724.5L517.7 716.3L518.9 712.4L520.1 704.8L521.3 709.1L522.5 706.0L523.7 711.7L524.9 700.7L526.1 705.0L527.3 712.7L528.5 709.0L529.7 704.3L530.9 706.9L532.1 706.6L533.3 706.2L534.5 704.8L535.7 713.8L536.9 715.8L538.1 720.7L539.3 726.0L540.5 726.1L541.7 732.5L542.9 740.3L544.1 746.3L545.3 745.1L546.5 747.2L547.7 746.9L548.9 743.5L550.1 747.1L551.3 748.4L552.5 745.8L553.7 748.8L554.9 747.8L556.1 745.8L557.3 748.3L558.5 748.7L559.7 751.9L560.9 745.8L562.1 750.1L563.3 750.9L564.5 750.0L565.7 749.8L566.9 744.5L568.1 746.8L569.3 745.1L570.5 754.2L571.7 746.6L572.9 744.2L574.1 743.9L575.3 743.6L576.5 743.8L577.7 738.8L578.9 737.8L580.1 736.4L581.3 729.6L582.5 728.5L583.7 724.3L584.9 720.8L586.1 716.2L587.3 718.4L588.5 710.7L589.7 711.3L590.9 708.6L592.1 706.7L593.3 700.1L594.5 698.8L595.7 692.5L596.9 697.0L598.1 697.9L599.3 702.2L600.5 697.6L601.7 700.6L602.9 698.8L604.1 700.7L605.3 700.6L606.5 700.9L607.7 696.5L608.9 702.4L610.1 698.8L611.3 710.8L612.5 719.1L613.7 722.8L614.9 726.9L616.1 738.1L617.3 744.1L618.5 743.1L619.7 745.9L620.9 747.1L622.1 752.2L623.3 754.9L624.5 753.6L625.7 741.7L626.9 736.8L628.1 732.9L629.3 722.4L630.5 718.2L631.7 718.7L632.9 712.7L634.1 710.4L635.3 713.2L636.5 711.9L637.7 710.3L638.9 709.6L640.1 708.8L641.3 713.4L642.5 711.9L643.7 718.1L644.9 721.5L646.1 729.8L647.3 736.0L648.5 744.6L649.7 752.4L650.9 754.2L652.1 753.5L653.3 757.1L654.5 757.5L655.7 753.7L656.9 755.6L658.1 742.3L659.3 734.9L660.5 731.1L661.7 721.7L662.9 727.2L664.1 724.2L665.3 719.7L666.5 725.0L667.7 722.9L668.9 726.9L670.1 727.7L671.3 738.4L672.5 745.0L673.7 751.9L674.9 764.1L676.1 776.3L677.3 776.3L678.5 777.8L679.7 776.2L680.9 761.4L682.1 756.4L683.3 753.1L684.5 745.4L685.7 739.4L686.9 740.2L688.1 740.5L689.3 732.9L690.5 733.8L691.7 732.9L692.9 737.2L694.1 748.1L695.3 750.7L696.5 759.7L697.7 767.8L698.9 772.5L700.1 778.6L701.3 781.4L702.5 783.3L703.7 786.7L704.9 785.5L706.1 785.9L707.3 790.7L708.5 784.7L709.7 786.8L710.9 779.8L712.1 781.0L713.3 777.9L714.5 771.8L715.7 767.9L716.9 758.8L718.1 763.5L719.3 760.9L720.5 762.6L721.7 759.7L722.9 763.7L724.1 757.2L725.3 761.8L726.5 759.7L727.7 760.9L728.9 764.5L730.1 764.5L731.3 763.5L732.5 767.8L733.7 765.4L734.9 764.3L736.1 759.7L737.3 767.4L738.5 759.8L739.7 761.5L740.9 763.0L742.1 759.0L743.3 760.3L744.5 758.4L745.7 763.2L746.9 764.7L748.1 765.4L749.3 774.2L750.5 776.2L751.7 782.1L752.9 779.8L754.1 781.1L755.3 777.1L756.5 780.0L757.7 785.8L758.9 783.8L760.1 784.1L761.3 794.6L762.5 792.9L763.7 800.1L764.9 808.3L766.1 814.4L767.3 816.1L768.5 821.8L769.7 833.5L770.9 833.3L772.1 832.6L773.3 833.6L774.5 832.5L775.7 830.8L776.9 830.3L778.1 829.2L779.3 830.5L780.5 828.8L781.7 830.5L782.9 828.9L784.1 826.5L785.3 828.2L786.5 830.4L787.7 819.5L788.9 813.4L790.1 810.5L791.3 798.4L792.5 800.9L793.7 798.4L794.9 790.0L796.1 789.4L797.3 789.1L798.5 791.9L799.7 787.0L800.9 785.6L802.1 792.3L803.3 789.7L804.5 791.3L805.7 788.5L806.9 786.8L808.1 782.1L809.3 783.4L810.5 779.7L811.7 775.0L812.9 773.1L814.1 769.5L815.3 770.3L816.5 769.2L817.7 764.8L818.9 761.2L820.1 763.3L821.3 758.1L822.5 757.3L823.7 760.1L824.9 772.4L826.1 778.1L827.3 782.2L828.5 790.5L829.7 799.5L830.9 802.4L832.1 803.8L833.3 810.0L834.5 809.8L835.7 811.2L836.9 816.9L838.1 820.0L839.3 819.3L840.5 824.2L841.7 821.8L842.9 824.1L844.1 824.9L845.3 821.6L846.5 822.6L847.7 819.8L848.9 813.1L850.1 805.7L851.3 793.0L852.5 780.1L853.7 768.9L854.9 762.0L856.1 757.2L857.3 759.6L858.5 753.1L859.7 755.5L860.9 752.4L862.1 751.9L863.3 751.1L864.5 750.3L865.7 743.6L866.9 737.8L868.1 735.2L869.3 728.3L870.5 719.4L871.7 714.9L872.9 715.9L874.1 712.2L875.3 709.8L876.5 712.0L877.7 701.8L878.9 700.5L880.1 707.0L881.3 701.5L882.5 700.8L883.7 704.4L884.9 704.8L886.1 701.3L887.3 705.0L888.5 705.2L889.7 704.4L890.9 701.9L892.1 700.1L893.3 698.0L894.5 697.0L895.7 698.4L896.9 692.8L898.1 693.9L899.3 695.9L900.5 692.6L901.7 691.5L902.9 696.7L904.1 697.5L905.3 692.0L906.5 689.8L907.7 693.2L908.9 693.0L910.1 689.9L911.3 692.3L912.5 694.4L913.7 693.9L914.9 691.9L916.1 691.7L917.3 689.5L918.5 688.4L919.7 688.2L920.9 681.9L922.1 683.0L923.3 677.7L924.5 675.1L925.7 674.9L926.9 680.6L928.1 674.6L929.3 675.9L930.5 679.2L931.7 673.1L932.9 676.1L934.1 675.4L935.3 671.9L936.5 674.0L937.7 676.0L938.9 674.6L940.1 683.8L941.3 674.0L942.5 677.5L943.7 677.5L944.9 678.3L946.1 676.9L947.3 674.2L948.5 674.5L949.7 672.7L950.9 662.6L952.1 659.9L953.3 656.1L954.5 653.8L955.7 647.9L956.9 647.3L958.1 644.1L959.3 641.6L960.5 642.9L961.7 641.5L962.9 642.1L964.1 643.0L965.3 645.3L966.5 643.3L967.7 642.6L968.9 643.6L970.1 642.9L971.3 643.5L972.5 647.0L973.7 643.7L974.9 641.0L976.1 642.0L977.3 641.5L978.5 650.3L979.7 639.5L980.9 645.9L982.1 645.1L983.3 647.9L984.5 648.4L985.7 646.9L986.9 650.8L988.1 648.4L989.3 647.9L990.5 649.1L991.7 644.1L992.9 650.0L994.1 644.2L995.3 650.4L996.5 647.2L997.7 648.5L998.9 647.7L1000.1 646.2L1001.3 649.5L1002.5 645.6L1003.7 650.7L1004.9 649.8L1006.1 648.8L1007.3 674.2L1008.5 696.9L1009.7 722.3L1010.9 721.1L1012.1 712.2L1013.3 707.2L1014.5 693.3L1015.7 684.5L1016.9 672.9L1018.1 664.6L1019.3 653.6L1020.5 645.7L1021.7 641.7L1022.9 643.8L1024.1 640.9L1025.3 645.2L1026.5 642.6L1027.7 643.9L1028.9 640.3L1030.1 641.0L1031.3 648.5L1032.5 658.5L1033.7 668.4L1034.9 681.1L1036.1 689.8L1037.3 697.6L1038.5 708.1L1039.7 720.1L1040.9 727.6L1042.1 728.9L1043.3 726.2L1044.5 727.1L1045.7 721.3L1046.9 730.5L1048.1 727.1L1049.3 705.6L1050.5 703.7L1051.7 689.1L1052.9 674.7L1054.1 660.1L1055.3 654.5L1056.5 641.1L1057.7 637.1L1058.9 629.1L1060.1 629.0L1061.3 632.9L1062.5 631.3L1063.7 635.5L1064.9 632.7L1066.1 629.2L1067.3 634.6L1068.5 630.3L1069.7 638.0L1070.9 640.2L1072.1 647.8L1073.3 650.0L1074.5 654.6L1075.7 658.5L1076.9 657.4L1078.1 661.4L1079.3 666.0L1080.5 668.5L1081.7 666.4L1082.9 668.7L1084.1 664.1L1085.3 667.2L1086.5 662.3L1087.7 663.1L1088.9 664.5L1090.1 662.9L1091.3 668.8L1092.5 664.4L1093.7 669.6L1094.9 665.7L1096.1 664.9L1097.3 668.3L1098.5 661.9L1099.7 674.9L1100.9 678.5L1102.1 695.9L1103.3 708.1L1104.5 722.7L1105.7 730.0L1106.9 738.8L1108.1 736.3L1109.3 733.0L1110.5 733.1L1111.7 734.3L1112.9 728.2L1114.1 736.3L1115.3 733.1L1116.5 732.3L1117.7 735.5L1118.9 732.8L1120.1 718.2L1121.3 692.2L1122.5 681.4L1123.7 672.1L1124.9 666.2L1126.1 671.8L1127.3 673.9L1128.5 665.3L1129.7 666.7L1130.9 684.6L1132.1 702.7L1133.3 721.6L1134.5 747.3L1135.7 764.8L1136.9 767.4L1138.1 761.7L1139.3 767.0L1140.5 772.1L1141.7 770.6L1142.9 772.3L1144.1 769.9L1145.3 769.0L1146.5 767.1L1147.7 767.1L1148.9 769.5L1150.1 765.7L1151.3 774.9L1152.5 762.1L1153.7 743.8L1154.9 721.8L1156.1 706.4L1157.3 705.8L1158.5 705.3L1159.7 705.3L1160.9 700.9L1162.1 702.8L1163.3 702.3L1164.5 710.0L1165.7 722.8L1166.9 740.2L1168.1 757.8L1169.3 771.6L1170.5 779.1L1171.7 783.9L1172.9 781.7L1174.1 782.2L1175.3 781.6L1176.5 778.1L1177.7 783.2L1178.9 775.3L1180.1 762.8L1181.3 752.8L1182.5 749.1L1183.7 739.0L1184.9 727.5L1186.1 722.2L1187.3 713.4L1188.5 703.9L1189.7 703.3L1190.9 706.3L1192.1 703.2L1193.3 707.0L1194.5 702.5L1195.7 706.2L1196.9 707.8L1198.1 707.4L1199.3 721.4L1200.5 737.4L1201.7 749.5L1202.9 766.4L1204.1 782.6L1205.3 780.1L1206.5 774.7L1207.7 776.5L1208.9 778.6L1210.1 781.6L1211.3 778.8L1212.5 782.7L1213.7 781.0L1214.9 780.4L1216.1 780.7L1217.3 777.5L1218.5 779.2L1219.7 765.0L1220.9 730.4L1222.1 698.6L1223.3 707.4L1224.5 709.0L1225.7 721.8L1226.9 727.0L1228.1 733.5L1229.3 741.3L1230.5 749.3L1231.7 757.3L1232.9 762.3L1234.1 759.5L1235.3 766.5L1236.5 763.4L1237.7 763.5L1238.9 766.9L1240.1 765.9L1241.3 765.0L1242.5 764.4L1243.7 763.3L1244.9 763.7L1246.1 770.4L1247.3 749.0L1248.5 734.6L1249.7 719.4L1250.9 703.1L1252.1 681.0L1253.3 672.0L1254.5 667.2L1255.7 671.2L1256.9 674.2L1258.1 673.5L1259.3 671.7L1260.5 682.1L1261.7 698.8L1262.9 721.2L1264.1 745.6L1265.3 763.8L1266.5 789.4L1267.7 808.4L1268.9 813.7L1270.1 818.0L1271.3 818.3L1272.5 815.8L1273.7 810.8L1274.9 815.4L1276.1 816.3L1277.3 812.5L1278.5 814.0L1279.7 812.8L1280.9 817.8L1282.1 814.8L1283.3 809.1L1284.5 794.5L1285.7 777.0L1286.9 758.9L1288.1 744.3L1289.3 729.6L1290.5 717.3L1291.7 713.7L1292.9 716.1L1294.1 714.8L1295.3 715.7L1296.5 721.8L1297.7 715.4L1298.9 713.2L1300.1 709.4L1301.3 709.0L1302.5 704.1L1303.7 703.7L1304.9 702.0L1306.1 699.9L1307.3 698.6L1308.5 699.0L1309.7 698.0L1310.9 696.3L1312.1 710.3L1313.3 710.9L1314.5 713.3L1315.7 719.8L1316.9 724.0L1318.1 724.0L1319.3 725.7L1320.5 731.1L1321.7 724.5L1322.9 724.2L1324.1 723.8L1325.3 724.5L1326.5 725.6" stroke="#000" stroke-width="2.6" fill="none" stroke-linejoin="round"/>
<path d="M166.1 769.2V796.5M167.3 767.1V798.0M168.5 770.4V805.6M169.7 772.4V808.8M170.9 777.9V818.0M172.1 778.2V816.7M173.3 780.0V822.8M174.5 780.6V823.7M175.7 786.2V829.0M176.9 787.6V829.2M178.1 796.2V831.0M179.3 788.9V834.5M180.5 793.8V831.7M181.7 796.7V837.9M182.9 802.1V835.8M184.1 804.9V838.4M270.5 934.0V975.8M271.7 933.9V966.7M272.9 920.0V960.6M274.1 920.2V956.8M275.3 910.5V959.2M276.5 916.1V951.8M277.7 908.6V941.1M278.9 905.5V942.4M280.1 902.9V939.1M281.3 901.1V936.9M282.5 897.8V933.3M283.7 888.7V930.4M284.9 884.0V925.4M286.1 890.3V920.6M287.3 882.4V916.1M288.5 872.7V917.1M289.7 880.0V912.1M290.9 869.9V907.0M292.1 867.8V901.0M293.3 870.6V903.0M294.5 855.9V895.8M295.7 852.3V890.1M296.9 848.7V895.2M298.1 845.3V881.3M299.3 835.5V877.6M300.5 833.7V876.4M301.7 829.9V872.1M302.9 831.4V869.3M304.1 820.5V862.4M305.3 818.5V853.5M306.5 811.9V857.0M307.7 809.5V852.6M308.9 798.9V844.1M310.1 812.0V843.0M311.3 803.8V837.9M312.5 796.5V829.4M313.7 795.5V824.6M314.9 791.6V821.9M316.1 786.4V816.7M317.3 778.1V821.6M318.5 773.2V812.4M319.7 771.4V816.7M320.9 768.3V812.1M322.1 765.4V810.1M323.3 768.9V803.5M324.5 762.9V794.2M325.7 760.8V798.7M326.9 748.0V790.3M328.1 744.5V788.8M329.3 750.7V780.3M330.5 735.3V778.3M331.7 732.1V775.1M332.9 736.2V764.1M334.1 729.0V765.5M335.3 731.2V760.1M336.5 725.1V769.3M337.7 717.4V760.2M338.9 716.7V760.4M340.1 711.5V754.2M341.3 714.8V748.9M342.5 709.2V750.9M343.7 707.5V744.3M344.9 701.2V732.3M346.1 695.8V730.3M347.3 698.1V734.6M348.5 686.9V727.9M349.7 686.9V725.6M350.9 684.2V717.7M352.1 687.8V716.8M353.3 686.3V713.8M354.5 677.8V715.3M355.7 676.4V705.4M356.9 675.7V705.4M358.1 662.3V703.5M359.3 669.7V700.1M360.5 654.7V688.1M361.7 655.3V691.5M362.9 650.7V689.2" stroke="#ff0000" stroke-width="1.5" fill="none" stroke-opacity="0.5"/>
<path d="M149.3 727.7V763.6M150.5 730.1V757.0M151.7 731.2V765.3M152.9 736.2V765.8M154.1 735.9V768.5M155.3 741.2V769.6M156.5 748.5V776.3M157.7 740.5V780.4M158.9 748.1V786.6M160.1 754.8V782.3M161.3 750.2V786.1M162.5 750.9V790.1M163.7 758.7V791.9M164.9 755.8V800.1M185.3 811.8V842.1M186.5 814.2V846.8M187.7 821.5V850.3M188.9 813.6V859.0M190.1 816.8V856.0M191.3 814.6V859.5M192.5 829.2V863.3M193.7 826.2V870.1M194.9 830.9V870.5M196.1 831.5V871.3M197.3 834.5V867.7M198.5 836.6V872.1M199.7 842.5V878.4M200.9 846.6V878.9M202.1 847.4V880.6M203.3 856.3V885.7M204.5 848.0V892.4M205.7 858.5V893.8M206.9 851.2V893.7M208.1 855.2V900.3M209.3 859.8V904.3M210.5 869.8V899.0M211.7 873.0V907.6M212.9 873.4V905.3M214.1 869.3V911.8M215.3 876.6V909.0M216.5 880.1V915.0M217.7 885.4V916.3M218.9 877.3V919.5M220.1 880.8V920.0M221.3 883.4V925.1M222.5 887.2V928.6M223.7 887.6V925.8M224.9 891.8V929.0M226.1 893.4V932.6M227.3 893.6V940.8M228.5 899.1V938.0M229.7 901.5V949.6M230.9 901.7V944.4M232.1 905.5V946.8M233.3 909.6V953.9M234.5 918.2V948.9M235.7 918.2V949.8M236.9 923.2V952.9M238.1 923.2V957.7M239.3 924.9V966.8M240.5 924.0V972.8M268.1 944.1V978.5M269.3 934.5V972.1M364.1 649.7V688.9M365.3 646.3V677.3" stroke="#ff0000" stroke-width="1.5" fill="none" stroke-opacity="0.6"/>
<path d="M142.1 709.4V743.3M143.3 716.4V753.5M144.5 712.9V750.7M145.7 717.7V747.5M146.9 725.2V750.9M148.1 720.6V760.1M241.7 928.3V976.9M242.9 934.9V965.3M244.1 934.4V973.7M245.3 944.2V978.2M265.7 943.3V975.3M266.9 942.0V982.2M366.5 650.0V679.0M367.7 645.9V672.2M368.9 644.2V671.7M370.1 639.2V673.4" stroke="#ff0000" stroke-width="1.5" fill="none" stroke-opacity="0.7"/>
<path d="M137.3 702.5V737.6M138.5 710.9V738.2M139.7 708.7V736.6M140.9 715.6V738.6M246.5 938.0V978.8M247.7 939.9V976.1M248.9 941.4V983.5M264.5 944.7V978.8M371.3 637.4V672.9M372.5 639.9V674.8M373.7 625.8V666.8M374.9 635.3V665.9M463.7 641.3V662.5M464.9 639.4V670.0M466.1 645.9V679.1M467.3 644.7V675.6M468.5 642.8V673.1M469.7 643.8V677.4M470.9 649.8V673.1M472.1 644.0V675.6M473.3 651.0V683.8M474.5 651.3V682.6M475.7 661.3V683.1M476.9 660.2V686.9M478.1 659.0V684.5M479.3 663.8V686.8M480.5 665.1V687.2M481.7 665.1V700.2M482.9 673.6V694.8M484.1 667.0V692.5M485.3 672.1V698.1M486.5 676.7V701.7M487.7 680.0V702.0M488.9 680.0V711.3M490.1 680.2V715.3M491.3 683.6V708.0M492.5 679.2V701.9M493.7 685.5V716.9" stroke="#ff0000" stroke-width="1.5" fill="none" stroke-opacity="0.8"/>
<path d="M132.5 700.5V734.9M133.7 698.5V732.5M134.9 701.0V736.1M136.1 706.1V736.2M250.1 940.6V989.6M251.3 945.4V994.0M263.3 944.7V981.5M376.1 631.0V672.3M377.3 633.4V659.8M378.5 625.9V662.3M379.7 632.4V669.5M380.9 623.5V664.8M382.1 630.3V656.5M460.1 633.6V658.2M461.3 627.2V659.1M462.5 638.9V661.1M494.9 686.2V709.4M496.1 690.2V712.6M497.3 686.8V711.0M498.5 697.5V720.0M499.7 693.9V716.3M902.9 733.9V761.3M904.1 718.4V745.5M905.3 730.2V762.7M906.5 728.1V751.8M907.7 724.3V752.1M908.9 726.4V757.0M910.1 717.8V743.2M911.3 716.4V740.5" stroke="#ff0000" stroke-width="1.5" fill="none" stroke-opacity="0.9"/>
<path d="M54.5 651.2V671.1M55.7 656.9V672.1M56.9 657.7V674.2M58.1 653.4V674.9M59.3 653.3V672.7M60.5 651.2V671.7M61.7 657.4V673.2M62.9 654.2V677.2M64.1 659.9V675.1M65.3 654.8V675.9M66.5 651.6V674.3M67.7 658.4V673.2M68.9 658.4V678.1M70.1 657.9V673.6M71.3 662.0V678.0M72.5 656.1V675.3M73.7 657.7V679.0M74.9 661.2V678.0M76.1 660.8V677.7M77.3 658.2V681.8M78.5 659.4V680.8M79.7 664.2V684.5M80.9 662.3V685.3M82.1 662.9V688.5M83.3 669.8V689.2M84.5 667.3V686.9M85.7 669.0V686.0M86.9 667.7V686.0M88.1 666.8V691.3M89.3 672.9V694.2M90.5 676.1V696.8M91.7 673.4V695.2M92.9 674.7V695.2M94.1 675.3V700.0M95.3 679.3V697.7M96.5 676.8V700.9M97.7 679.6V700.0M98.9 677.6V701.3M100.1 682.7V701.7M101.3 681.7V701.6M102.5 675.4V697.7M103.7 679.8V707.6M104.9 685.8V707.0M106.1 689.7V709.0M107.3 687.5V704.8M108.5 682.3V702.6M109.7 688.3V708.4M110.9 688.3V705.9M112.1 688.5V717.5M113.3 687.4V716.6M114.5 691.2V712.6M115.7 690.0V717.0M116.9 695.8V716.4M118.1 690.8V715.0M119.3 693.0V714.1M120.5 693.2V722.8M121.7 698.4V720.4M122.9 693.6V723.1M124.1 696.4V721.8M125.3 702.0V730.1M126.5 699.9V723.1M127.7 699.9V723.0M128.9 701.7V723.4M130.1 695.7V727.9M131.3 701.1V727.6M252.5 948.0V985.1M253.7 945.0V986.8M254.9 951.5V994.6M256.1 950.0V989.4M257.3 946.4V990.7M258.5 952.3V988.8M259.7 945.8V983.0M260.9 952.6V991.9M262.1 943.9V977.3M383.3 622.3V660.9M384.5 623.4V659.6M385.7 626.8V658.9M386.9 617.3V657.1M388.1 615.9V656.4M389.3 617.0V656.1M390.5 619.5V647.4M391.7 618.0V646.0M392.9 619.3V651.5M394.1 615.2V654.1M395.3 619.2V654.4M396.5 616.1V647.8M397.7 613.8V653.8M398.9 609.4V647.1M400.1 617.2V643.9M401.3 613.1V644.5M402.5 617.3V644.4M403.7 618.1V648.4M404.9 620.4V649.3M406.1 616.9V656.1M407.3 616.0V646.4M408.5 614.5V644.1M409.7 615.8V653.4M410.9 622.4V655.8M412.1 615.5V647.2M413.3 617.8V643.6M414.5 616.9V642.7M415.7 621.3V647.9M416.9 612.5V649.1M418.1 615.6V641.0M419.3 622.0V654.1M420.5 620.1V653.4M421.7 613.5V651.0M422.9 618.4V648.5M424.1 621.7V648.4M425.3 616.9V647.6M426.5 620.1V646.4M427.7 628.1V651.7M428.9 619.1V655.4M430.1 622.5V657.7M431.3 626.6V649.3M432.5 619.8V654.1M433.7 626.4V654.7M434.9 623.1V657.6M436.1 622.2V657.3M437.3 629.8V651.7M438.5 627.3V653.3M439.7 627.3V651.9M440.9 619.3V652.9M442.1 631.2V660.3M443.3 632.4V658.0M444.5 628.5V661.1M445.7 631.5V657.5M446.9 626.0V660.8M448.1 631.4V656.2M449.3 626.6V660.1M450.5 630.1V652.7M451.7 631.1V661.3M452.9 627.9V659.3M454.1 628.8V662.2M455.3 621.5V648.2M456.5 630.5V664.8M457.7 643.6V666.2M458.9 629.0V653.9M500.9 693.3V721.3M502.1 693.9V717.1M503.3 697.5V724.8M504.5 702.4V726.3M505.7 703.0V725.9M506.9 705.3V727.4M508.1 697.4V729.1M509.3 698.5V730.6M510.5 700.4V724.0M511.7 693.6V720.9M512.9 698.2V731.7M514.1 707.3V729.2M515.3 706.6V741.9M516.5 709.2V731.3M517.7 711.9V744.2M518.9 700.8V730.4M520.1 700.9V734.4M521.3 701.6V731.2M522.5 701.1V731.4M523.7 703.4V733.1M524.9 710.6V736.6M526.1 699.1V730.7M527.3 702.4V731.3M528.5 705.0V736.7M529.7 708.0V731.9M530.9 705.1V735.3M532.1 705.0V738.9M533.3 709.6V737.1M534.5 705.9V733.2M535.7 708.3V735.9M536.9 705.2V731.5M538.1 701.8V737.2M539.3 691.9V726.5M540.5 696.8V732.3M541.7 710.5V733.4M542.9 696.7V731.6M544.1 696.6V728.3M545.3 694.4V723.9M546.5 694.6V722.6M547.7 701.1V732.0M548.9 700.6V731.2M550.1 699.1V730.7M551.3 701.9V731.2M552.5 697.6V721.2M553.7 704.0V726.3M554.9 703.4V737.8M556.1 702.1V732.5M557.3 707.2V729.1M558.5 696.6V723.6M559.7 706.5V730.5M560.9 713.5V736.5M562.1 705.1V736.2M563.3 701.3V730.8M564.5 700.1V731.5M565.7 700.8V735.6M566.9 707.1V731.6M568.1 695.8V728.5M569.3 698.8V732.6M570.5 701.0V730.3M571.7 699.1V722.0M572.9 697.1V729.6M574.1 703.1V730.0M575.3 705.1V738.7M576.5 707.7V736.4M577.7 706.2V730.9M578.9 705.0V730.4M580.1 699.3V734.5M581.3 706.0V732.3M582.5 707.7V736.6M583.7 704.4V734.9M584.9 702.5V738.1M586.1 701.3V735.2M587.3 701.4V727.4M588.5 707.5V731.3M589.7 712.5V747.0M590.9 707.3V735.4M592.1 701.5V733.1M593.3 706.2V729.3M594.5 705.1V735.3M595.7 702.8V733.5M596.9 712.2V736.5M598.1 701.9V735.3M599.3 704.4V737.6M600.5 710.7V746.6M601.7 715.5V741.7M602.9 710.9V744.9M604.1 702.4V735.6M605.3 718.3V746.1M606.5 718.4V741.8M607.7 713.2V739.2M608.9 724.5V752.0M610.1 726.5V752.6M611.3 719.9V743.7M612.5 707.2V738.9M613.7 719.6V752.2M614.9 726.1V759.0M616.1 717.3V751.4M617.3 723.7V747.0M618.5 715.0V740.7M619.7 717.8V746.6M620.9 721.4V747.8M622.1 717.7V745.5M623.3 728.7V753.0M624.5 715.4V747.1M625.7 721.1V755.9M626.9 719.1V744.7M628.1 722.5V748.0M629.3 733.8V757.5M630.5 726.4V760.2M631.7 733.1V757.8M632.9 724.1V755.0M634.1 727.8V749.8M635.3 723.2V752.4M636.5 726.9V757.9M637.7 732.5V765.7M638.9 733.3V760.6M640.1 723.6V757.3M641.3 715.9V748.6M642.5 717.8V751.6M643.7 732.0V760.2M644.9 725.0V755.3M646.1 725.4V752.0M647.3 723.5V758.5M648.5 731.3V762.2M649.7 729.2V757.9M650.9 732.8V757.3M652.1 732.7V759.6M653.3 731.2V760.7M654.5 738.1V771.5M655.7 742.7V770.0M656.9 742.8V773.9M658.1 748.6V775.2M659.3 744.8V769.9M660.5 739.3V774.4M661.7 740.9V768.8M662.9 742.5V765.8M664.1 742.8V777.7M665.3 751.9V780.2M666.5 752.8V776.3M667.7 743.3V777.6M668.9 744.0V772.6M670.1 748.0V779.0M671.3 747.6V778.4M672.5 750.9V782.6M673.7 746.6V781.3M674.9 752.1V780.4M676.1 746.4V770.4M677.3 749.6V778.9M678.5 748.0V773.3M679.7 756.1V781.7M680.9 754.0V780.5M682.1 754.5V790.2M683.3 758.0V786.1M684.5 745.3V779.5M685.7 743.0V779.1M686.9 753.3V777.2M688.1 756.6V784.7M689.3 747.7V774.9M690.5 767.5V792.7M691.7 761.1V783.4M692.9 758.4V790.6M694.1 755.2V790.7M695.3 752.3V788.1M696.5 753.0V788.0M697.7 758.4V792.9M698.9 746.6V778.9M700.1 752.8V789.6M701.3 757.9V780.1M702.5 749.3V779.0M703.7 758.8V786.0M704.9 751.6V783.5M706.1 763.3V786.0M707.3 760.6V789.5M708.5 775.4V797.8M709.7 757.1V787.1M710.9 768.8V801.8M712.1 759.0V789.0M713.3 775.8V810.0M714.5 765.1V793.2M715.7 761.3V797.2M716.9 777.1V812.7M718.1 771.5V799.2M719.3 765.5V799.9M720.5 781.7V812.7M721.7 773.6V804.1M722.9 778.0V801.1M724.1 771.8V803.1M725.3 779.6V804.2M726.5 775.9V806.7M727.7 791.6V815.9M728.9 784.1V812.5M730.1 780.8V813.7M731.3 773.6V809.4M732.5 782.3V806.1M733.7 779.0V810.2M734.9 783.7V813.0M736.1 777.5V807.3M737.3 776.6V805.2M738.5 775.0V810.9M739.7 779.8V808.0M740.9 769.4V804.1M742.1 779.2V816.4M743.3 784.0V812.7M744.5 777.9V811.9M745.7 783.6V814.3M746.9 781.1V813.5M748.1 773.9V807.3M749.3 784.0V819.6M750.5 777.3V808.1M751.7 787.0V814.5M752.9 776.4V811.3M754.1 784.5V811.0M755.3 780.5V811.2M756.5 787.4V817.2M757.7 786.6V814.1M758.9 778.1V813.0M760.1 780.7V809.8M761.3 773.7V811.0M762.5 782.1V815.6M763.7 782.2V809.6M764.9 794.5V818.8M766.1 782.4V819.7M767.3 772.2V801.8M768.5 778.9V814.8M769.7 781.6V804.5M770.9 778.4V803.4M772.1 782.3V805.9M773.3 782.9V811.2M774.5 788.3V820.3M775.7 790.1V816.0M776.9 788.8V816.8M778.1 783.6V812.2M779.3 784.3V819.0M780.5 786.8V810.7M781.7 788.4V822.2M782.9 782.9V813.2M784.1 782.6V807.3M785.3 777.5V803.0M786.5 783.9V810.2M787.7 779.5V802.9M788.9 779.5V802.6M790.1 768.4V803.9M791.3 785.7V816.0M792.5 789.8V816.2M793.7 781.5V815.9M794.9 793.5V820.0M796.1 789.4V816.0M797.3 801.2V825.3M798.5 796.8V822.6M799.7 780.2V810.8M800.9 789.4V817.2M802.1 786.9V809.6M803.3 791.3V821.4M804.5 788.7V824.4M805.7 783.3V811.9M806.9 789.1V813.8M808.1 779.7V805.1M809.3 785.2V816.7M810.5 793.5V820.9M811.7 782.0V814.4M812.9 780.8V815.7M814.1 780.1V813.5M815.3 776.5V804.5M816.5 772.9V808.3M817.7 769.2V803.1M818.9 780.2V807.9M820.1 781.0V813.0M821.3 774.5V810.0M822.5 791.8V817.6M823.7 786.1V811.3M824.9 791.5V816.5M826.1 782.9V814.4M827.3 781.2V806.7M828.5 786.6V817.1M829.7 783.0V811.6M830.9 776.0V804.7M832.1 776.3V803.8M833.3 772.6V803.7M834.5 775.5V804.0M835.7 776.8V804.1M836.9 775.1V804.7M838.1 764.1V790.8M839.3 757.3V791.6M840.5 762.1V795.0M841.7 761.5V799.5M842.9 762.0V793.2M844.1 758.0V792.8M845.3 759.2V794.6M846.5 762.4V786.3M847.7 764.8V792.3M848.9 758.1V781.1M850.1 763.2V787.6M851.3 758.9V796.4M852.5 767.5V803.5M853.7 751.9V788.4M854.9 755.8V790.2M856.1 747.6V784.8M857.3 748.0V778.9M858.5 750.6V787.6M859.7 764.3V790.7M860.9 745.3V780.5M862.1 761.5V785.2M863.3 754.2V779.1M864.5 747.6V771.2M865.7 743.5V769.3M866.9 745.9V779.8M868.1 747.0V785.2M869.3 757.6V785.6M870.5 746.3V777.4M871.7 744.3V772.7M872.9 743.8V770.7M874.1 736.5V761.9M875.3 743.7V777.0M876.5 736.3V762.7M877.7 724.7V757.6M878.9 737.8V765.0M880.1 730.4V754.2M881.3 737.5V770.5M882.5 728.8V760.3M883.7 722.0V759.2M884.9 726.2V760.3M886.1 737.5V771.8M887.3 739.0V767.8M888.5 735.5V760.5M889.7 731.8V762.0M890.9 726.9V754.7M892.1 730.0V762.4M893.3 729.5V762.4M894.5 729.3V756.5M895.7 721.9V757.7M896.9 719.7V749.8M898.1 727.3V756.8M899.3 734.9V771.9M900.5 728.8V762.9M901.7 727.2V760.7M912.5 712.4V740.7M913.7 707.1V739.0M914.9 712.7V745.7M916.1 705.3V730.2M917.3 710.1V737.7M918.5 714.5V742.9M919.7 706.3V739.2M920.9 715.6V746.9M922.1 705.0V730.6M923.3 705.0V740.8M924.5 702.0V737.3M925.7 702.3V727.7M926.9 692.6V724.8M928.1 700.3V733.1M929.3 702.6V725.9M930.5 690.1V726.8M931.7 698.4V727.1M932.9 697.7V723.3M934.1 695.6V734.0M935.3 704.6V737.4M936.5 686.0V712.0M937.7 692.2V722.3M938.9 693.6V727.8M940.1 685.1V721.6M941.3 694.8V722.5M942.5 689.1V722.7M943.7 692.0V715.9M944.9 693.6V719.9M946.1 692.0V723.5M947.3 689.3V726.7M948.5 681.4V708.5M949.7 691.9V725.5M950.9 682.7V717.2M952.1 683.3V713.4M953.3 686.4V715.0M954.5 677.8V711.4M955.7 674.0V698.1M956.9 679.6V718.2M958.1 674.4V700.6M959.3 684.7V716.7M960.5 680.6V707.1M961.7 679.8V712.0M962.9 686.5V713.9M964.1 674.3V701.1M965.3 673.0V706.4M966.5 677.1V704.2M967.7 678.6V708.5M968.9 673.2V710.4M970.1 679.4V704.1M971.3 678.9V707.1M972.5 675.1V703.7M973.7 673.7V700.4M974.9 667.6V703.9M976.1 678.8V703.8M977.3 677.0V705.7M978.5 669.9V708.0M979.7 684.1V717.5M980.9 679.8V704.2M982.1 683.7V708.3M983.3 685.0V714.2M984.5 672.0V698.9M985.7 681.1V710.9M986.9 672.1V709.4M988.1 684.4V711.0M989.3 676.8V707.3M990.5 685.4V720.7M991.7 668.3V705.0M992.9 669.9V704.9M994.1 682.6V720.2M995.3 676.9V703.4M996.5 688.9V721.6M997.7 688.6V724.0M998.9 681.5V707.9M1000.1 672.2V708.4M1001.3 683.2V710.4M1002.5 664.7V699.1M1003.7 675.3V702.9M1004.9 684.4V711.0M1006.1 680.3V712.7M1007.3 669.2V707.4M1008.5 666.5V704.5M1009.7 666.4V705.0M1010.9 677.2V701.3M1012.1 672.2V709.1M1013.3 682.1V706.6M1014.5 665.6V699.1M1015.7 675.9V706.4M1016.9 674.8V706.0M1018.1 675.2V703.1M1019.3 674.3V699.4M1020.5 665.3V699.1M1021.7 667.9V696.7M1022.9 671.2V696.0M1024.1 669.9V700.4M1025.3 660.4V697.7M1026.5 678.2V702.4M1027.7 667.6V700.6M1028.9 676.5V701.7M1030.1 675.3V711.6M1031.3 668.8V705.4M1032.5 671.8V697.0M1033.7 681.4V708.9M1034.9 684.4V714.3M1036.1 671.6V707.6M1037.3 682.7V720.4M1038.5 673.2V710.1M1039.7 676.2V706.3M1040.9 674.9V702.4M1042.1 669.8V703.5M1043.3 662.7V698.3M1044.5 668.1V705.9M1045.7 673.5V705.2M1046.9 678.0V704.3M1048.1 680.9V705.8M1049.3 672.3V699.3M1050.5 671.4V704.8M1051.7 672.4V710.1M1052.9 661.6V700.6M1054.1 673.2V704.8M1055.3 657.5V692.0M1056.5 673.7V704.1M1057.7 670.8V696.2M1058.9 665.5V693.0M1060.1 664.6V692.4M1061.3 681.9V706.8M1062.5 678.8V710.6M1063.7 676.2V715.1M1064.9 677.7V704.4M1066.1 681.1V716.9M1067.3 669.0V707.9M1068.5 682.8V714.4M1069.7 685.4V723.3M1070.9 679.4V712.4M1072.1 662.1V691.7M1073.3 671.2V695.5M1074.5 678.7V707.9M1075.7 670.6V708.5M1076.9 681.9V717.6M1078.1 673.6V713.4M1079.3 671.3V710.1M1080.5 682.9V708.9M1081.7 679.3V708.4M1082.9 671.0V707.4M1084.1 683.9V719.3M1085.3 677.0V715.7M1086.5 680.7V711.0M1087.7 674.0V699.4M1088.9 687.2V716.2M1090.1 674.8V703.3M1091.3 686.6V713.3M1092.5 682.6V710.3M1093.7 683.7V712.0M1094.9 675.7V710.5M1096.1 684.9V711.5M1097.3 684.3V720.8M1098.5 694.3V727.9M1099.7 692.4V730.9M1100.9 687.8V725.5M1102.1 682.9V717.6M1103.3 703.6V741.1M1104.5 687.5V714.0M1105.7 687.7V720.6M1106.9 694.7V726.2M1108.1 691.5V730.5M1109.3 681.0V721.1M1110.5 691.9V731.8M1111.7 696.7V722.5M1112.9 689.0V723.8M1114.1 696.4V728.0M1115.3 701.2V739.6M1116.5 685.4V714.6M1117.7 684.8V715.8M1118.9 683.5V714.8M1120.1 709.1V733.5M1121.3 699.0V732.3M1122.5 700.5V739.0M1123.7 703.5V740.1M1124.9 697.3V725.1M1126.1 717.0V742.2M1127.3 711.1V739.6M1128.5 699.4V734.6M1129.7 697.3V735.3M1130.9 692.3V718.6M1132.1 685.5V723.9M1133.3 684.9V718.2M1134.5 689.1V717.3M1135.7 696.3V732.5M1136.9 697.1V726.1M1138.1 703.8V734.5M1139.3 704.1V737.7M1140.5 707.7V743.9M1141.7 716.9V744.7M1142.9 705.2V738.0M1144.1 702.7V741.1M1145.3 699.8V725.9M1146.5 700.2V727.4M1147.7 695.3V731.3M1148.9 710.1V738.3M1150.1 697.2V731.8M1151.3 707.4V733.1M1152.5 703.6V742.5M1153.7 718.9V745.3M1154.9 705.7V743.5M1156.1 706.9V748.0M1157.3 714.1V742.2M1158.5 707.1V743.8M1159.7 714.3V749.7M1160.9 714.1V745.0M1162.1 720.9V749.1M1163.3 711.3V743.2M1164.5 710.7V739.9M1165.7 708.8V735.7M1166.9 713.9V755.3M1168.1 704.5V736.9M1169.3 714.9V746.0M1170.5 712.5V740.8M1171.7 714.5V741.4M1172.9 720.3V748.1M1174.1 719.8V760.1M1175.3 727.6V753.6M1176.5 717.8V752.6M1177.7 721.4V752.9M1178.9 706.4V744.5M1180.1 705.5V742.7M1181.3 714.1V743.5M1182.5 726.3V754.9M1183.7 719.9V757.5M1184.9 720.1V754.9M1186.1 716.2V750.4M1187.3 708.1V749.9M1188.5 714.3V752.9M1189.7 714.3V755.0M1190.9 705.7V745.8M1192.1 730.6V756.3M1193.3 719.9V750.6M1194.5 724.8V750.5M1195.7 729.2V766.7M1196.9 714.9V746.5M1198.1 715.1V744.9M1199.3 710.4V739.8M1200.5 706.8V745.8M1201.7 714.4V742.0M1202.9 734.4V766.1M1204.1 734.8V768.7M1205.3 735.9V776.0M1206.5 721.8V752.9M1207.7 732.6V759.1M1208.9 729.7V760.0M1210.1 715.6V752.6M1211.3 726.4V760.6M1212.5 720.7V750.1M1213.7 728.4V757.5M1214.9 724.7V759.5M1216.1 729.2V759.4M1217.3 732.2V758.1M1218.5 723.8V761.4M1219.7 714.9V752.9M1220.9 721.9V750.9M1222.1 709.6V745.6M1223.3 710.4V750.2M1224.5 716.7V757.4M1225.7 724.6V760.7M1226.9 705.6V745.5M1228.1 715.3V744.3M1229.3 718.0V746.9M1230.5 728.9V771.4M1231.7 732.5V768.0M1232.9 728.9V760.2M1234.1 736.6V772.7M1235.3 727.2V763.0M1236.5 722.6V755.4M1237.7 739.3V766.8M1238.9 739.7V771.6M1240.1 746.9V776.1M1241.3 725.6V764.0M1242.5 731.7V773.1M1243.7 743.9V779.9M1244.9 727.2V758.0M1246.1 731.7V762.7M1247.3 732.7V770.9M1248.5 736.1V763.1M1249.7 725.8V760.5M1250.9 735.3V762.2M1252.1 726.0V767.0M1253.3 730.3V760.4M1254.5 741.8V773.3M1255.7 739.2V781.7M1256.9 727.6V764.1M1258.1 722.3V760.5M1259.3 733.5V763.3M1260.5 735.2V772.8M1261.7 713.2V749.7M1262.9 731.4V770.2M1264.1 742.6V782.2M1265.3 745.4V776.0M1266.5 728.9V761.0M1267.7 722.6V753.8M1268.9 731.1V763.3M1270.1 726.2V757.2M1271.3 727.0V756.8M1272.5 736.5V769.5M1273.7 735.8V763.3M1274.9 737.7V767.4M1276.1 737.7V774.9M1277.3 727.5V763.1M1278.5 737.1V764.2M1279.7 736.7V772.9M1280.9 739.7V781.1M1282.1 742.6V779.7M1283.3 742.8V772.5M1284.5 729.2V769.2M1285.7 734.6V777.7M1286.9 741.5V779.7M1288.1 746.2V774.6M1289.3 732.6V761.0M1290.5 739.5V781.8M1291.7 765.1V793.5M1292.9 749.5V784.3M1294.1 752.3V793.4M1295.3 755.4V785.2M1296.5 755.3V795.6M1297.7 753.0V783.3M1298.9 751.7V779.9M1300.1 742.7V776.4M1301.3 747.7V776.9M1302.5 756.3V783.7M1303.7 738.3V777.5M1304.9 750.9V787.7M1306.1 751.5V791.7M1307.3 741.9V775.3M1308.5 756.9V795.4M1309.7 752.7V791.7M1310.9 751.8V795.3M1312.1 747.9V778.4M1313.3 745.9V776.5M1314.5 739.0V771.3M1315.7 742.0V779.5M1316.9 737.9V766.2M1318.1 739.2V777.3M1319.3 751.3V780.1M1320.5 755.9V789.9M1321.7 749.3V778.9M1322.9 761.7V804.5M1324.1 748.7V784.5M1325.3 750.0V792.8M1326.5 740.6V784.4" stroke="#ff0000" stroke-width="1.5" fill="none" stroke-opacity="1"/>
<path d="M160.6 769.2h11M160.6 796.5h11M161.8 767.1h11M161.8 798.0h11M163.0 770.4h11M163.0 805.6h11M164.2 772.4h11M164.2 808.8h11M165.4 777.9h11M165.4 818.0h11M166.6 778.2h11M166.6 816.7h11M167.8 780.0h11M167.8 822.8h11M169.0 780.6h11M169.0 823.7h11M170.2 786.2h11M170.2 829.0h11M171.4 787.6h11M171.4 829.2h11M172.6 796.2h11M172.6 831.0h11M173.8 788.9h11M173.8 834.5h11M175.0 793.8h11M175.0 831.7h11M176.2 796.7h11M176.2 837.9h11M177.4 802.1h11M177.4 835.8h11M178.6 804.9h11M178.6 838.4h11M265.0 934.0h11M265.0 975.8h11M266.2 933.9h11M266.2 966.7h11M267.4 920.0h11M267.4 960.6h11M268.6 920.2h11M268.6 956.8h11M269.8 910.5h11M269.8 959.2h11M271.0 916.1h11M271.0 951.8h11M272.2 908.6h11M272.2 941.1h11M273.4 905.5h11M273.4 942.4h11M274.6 902.9h11M274.6 939.1h11M275.8 901.1h11M275.8 936.9h11M277.0 897.8h11M277.0 933.3h11M278.2 888.7h11M278.2 930.4h11M279.4 884.0h11M279.4 925.4h11M280.6 890.3h11M280.6 920.6h11M281.8 882.4h11M281.8 916.1h11M283.0 872.7h11M283.0 917.1h11M284.2 880.0h11M284.2 912.1h11M285.4 869.9h11M285.4 907.0h11M286.6 867.8h11M286.6 901.0h11M287.8 870.6h11M287.8 903.0h11M289.0 855.9h11M289.0 895.8h11M290.2 852.3h11M290.2 890.1h11M291.4 848.7h11M291.4 895.2h11M292.6 845.3h11M292.6 881.3h11M293.8 835.5h11M293.8 877.6h11M295.0 833.7h11M295.0 876.4h11M296.2 829.9h11M296.2 872.1h11M297.4 831.4h11M297.4 869.3h11M298.6 820.5h11M298.6 862.4h11M299.8 818.5h11M299.8 853.5h11M301.0 811.9h11M301.0 857.0h11M302.2 809.5h11M302.2 852.6h11M303.4 798.9h11M303.4 844.1h11M304.6 812.0h11M304.6 843.0h11M305.8 803.8h11M305.8 837.9h11M307.0 796.5h11M307.0 829.4h11M308.2 795.5h11M308.2 824.6h11M309.4 791.6h11M309.4 821.9h11M310.6 786.4h11M310.6 816.7h11M311.8 778.1h11M311.8 821.6h11M313.0 773.2h11M313.0 812.4h11M314.2 771.4h11M314.2 816.7h11M315.4 768.3h11M315.4 812.1h11M316.6 765.4h11M316.6 810.1h11M317.8 768.9h11M317.8 803.5h11M319.0 762.9h11M319.0 794.2h11M320.2 760.8h11M320.2 798.7h11M321.4 748.0h11M321.4 790.3h11M322.6 744.5h11M322.6 788.8h11M323.8 750.7h11M323.8 780.3h11M325.0 735.3h11M325.0 778.3h11M326.2 732.1h11M326.2 775.1h11M327.4 736.2h11M327.4 764.1h11M328.6 729.0h11M328.6 765.5h11M329.8 731.2h11M329.8 760.1h11M331.0 725.1h11M331.0 769.3h11M332.2 717.4h11M332.2 760.2h11M333.4 716.7h11M333.4 760.4h11M334.6 711.5h11M334.6 754.2h11M335.8 714.8h11M335.8 748.9h11M337.0 709.2h11M337.0 750.9h11M338.2 707.5h11M338.2 744.3h11M339.4 701.2h11M339.4 732.3h11M340.6 695.8h11M340.6 730.3h11M341.8 698.1h11M341.8 734.6h11M343.0 686.9h11M343.0 727.9h11M344.2 686.9h11M344.2 725.6h11M345.4 684.2h11M345.4 717.7h11M346.6 687.8h11M346.6 716.8h11M347.8 686.3h11M347.8 713.8h11M349.0 677.8h11M349.0 715.3h11M350.2 676.4h11M350.2 705.4h11M351.4 675.7h11M351.4 705.4h11M352.6 662.3h11M352.6 703.5h11M353.8 669.7h11M353.8 700.1h11M355.0 654.7h11M355.0 688.1h11M356.2 655.3h11M356.2 691.5h11M357.4 650.7h11M357.4 689.2h11" stroke="#ff4040" stroke-width="1.3" fill="none" stroke-opacity="0.7"/>
<path d="M143.8 727.7h11M143.8 763.6h11M145.0 730.1h11M145.0 757.0h11M146.2 731.2h11M146.2 765.3h11M147.4 736.2h11M147.4 765.8h11M148.6 735.9h11M148.6 768.5h11M149.8 741.2h11M149.8 769.6h11M151.0 748.5h11M151.0 776.3h11M152.2 740.5h11M152.2 780.4h11M153.4 748.1h11M153.4 786.6h11M154.6 754.8h11M154.6 782.3h11M155.8 750.2h11M155.8 786.1h11M157.0 750.9h11M157.0 790.1h11M158.2 758.7h11M158.2 791.9h11M159.4 755.8h11M159.4 800.1h11M179.8 811.8h11M179.8 842.1h11M181.0 814.2h11M181.0 846.8h11M182.2 821.5h11M182.2 850.3h11M183.4 813.6h11M183.4 859.0h11M184.6 816.8h11M184.6 856.0h11M185.8 814.6h11M185.8 859.5h11M187.0 829.2h11M187.0 863.3h11M188.2 826.2h11M188.2 870.1h11M189.4 830.9h11M189.4 870.5h11M190.6 831.5h11M190.6 871.3h11M191.8 834.5h11M191.8 867.7h11M193.0 836.6h11M193.0 872.1h11M194.2 842.5h11M194.2 878.4h11M195.4 846.6h11M195.4 878.9h11M196.6 847.4h11M196.6 880.6h11M197.8 856.3h11M197.8 885.7h11M199.0 848.0h11M199.0 892.4h11M200.2 858.5h11M200.2 893.8h11M201.4 851.2h11M201.4 893.7h11M202.6 855.2h11M202.6 900.3h11M203.8 859.8h11M203.8 904.3h11M205.0 869.8h11M205.0 899.0h11M206.2 873.0h11M206.2 907.6h11M207.4 873.4h11M207.4 905.3h11M208.6 869.3h11M208.6 911.8h11M209.8 876.6h11M209.8 909.0h11M211.0 880.1h11M211.0 915.0h11M212.2 885.4h11M212.2 916.3h11M213.4 877.3h11M213.4 919.5h11M214.6 880.8h11M214.6 920.0h11M215.8 883.4h11M215.8 925.1h11M217.0 887.2h11M217.0 928.6h11M218.2 887.6h11M218.2 925.8h11M219.4 891.8h11M219.4 929.0h11M220.6 893.4h11M220.6 932.6h11M221.8 893.6h11M221.8 940.8h11M223.0 899.1h11M223.0 938.0h11M224.2 901.5h11M224.2 949.6h11M225.4 901.7h11M225.4 944.4h11M226.6 905.5h11M226.6 946.8h11M227.8 909.6h11M227.8 953.9h11M229.0 918.2h11M229.0 948.9h11M230.2 918.2h11M230.2 949.8h11M231.4 923.2h11M231.4 952.9h11M232.6 923.2h11M232.6 957.7h11M233.8 924.9h11M233.8 966.8h11M235.0 924.0h11M235.0 972.8h11M262.6 944.1h11M262.6 978.5h11M263.8 934.5h11M263.8 972.1h11M358.6 649.7h11M358.6 688.9h11M359.8 646.3h11M359.8 677.3h11" stroke="#ff4040" stroke-width="1.3" fill="none" stroke-opacity="0.8"/>
<path d="M136.6 709.4h11M136.6 743.3h11M137.8 716.4h11M137.8 753.5h11M139.0 712.9h11M139.0 750.7h11M140.2 717.7h11M140.2 747.5h11M141.4 725.2h11M141.4 750.9h11M142.6 720.6h11M142.6 760.1h11M236.2 928.3h11M236.2 976.9h11M237.4 934.9h11M237.4 965.3h11M238.6 934.4h11M238.6 973.7h11M239.8 944.2h11M239.8 978.2h11M260.2 943.3h11M260.2 975.3h11M261.4 942.0h11M261.4 982.2h11M361.0 650.0h11M361.0 679.0h11M362.2 645.9h11M362.2 672.2h11M363.4 644.2h11M363.4 671.7h11M364.6 639.2h11M364.6 673.4h11" stroke="#ff4040" stroke-width="1.3" fill="none" stroke-opacity="0.9"/>
<path d="M131.8 702.5h11M131.8 737.6h11M133.0 710.9h11M133.0 738.2h11M134.2 708.7h11M134.2 736.6h11M135.4 715.6h11M135.4 738.6h11M241.0 938.0h11M241.0 978.8h11M242.2 939.9h11M242.2 976.1h11M243.4 941.4h11M243.4 983.5h11M259.0 944.7h11M259.0 978.8h11M365.8 637.4h11M365.8 672.9h11M367.0 639.9h11M367.0 674.8h11M368.2 625.8h11M368.2 666.8h11M369.4 635.3h11M369.4 665.9h11M458.2 641.3h11M458.2 662.5h11M459.4 639.4h11M459.4 670.0h11M460.6 645.9h11M460.6 679.1h11M461.8 644.7h11M461.8 675.6h11M463.0 642.8h11M463.0 673.1h11M464.2 643.8h11M464.2 677.4h11M465.4 649.8h11M465.4 673.1h11M466.6 644.0h11M466.6 675.6h11M467.8 651.0h11M467.8 683.8h11M469.0 651.3h11M469.0 682.6h11M470.2 661.3h11M470.2 683.1h11M471.4 660.2h11M471.4 686.9h11M472.6 659.0h11M472.6 684.5h11M473.8 663.8h11M473.8 686.8h11M475.0 665.1h11M475.0 687.2h11M476.2 665.1h11M476.2 700.2h11M477.4 673.6h11M477.4 694.8h11M478.6 667.0h11M478.6 692.5h11M479.8 672.1h11M479.8 698.1h11M481.0 676.7h11M481.0 701.7h11M482.2 680.0h11M482.2 702.0h11M483.4 680.0h11M483.4 711.3h11M484.6 680.2h11M484.6 715.3h11M485.8 683.6h11M485.8 708.0h11M487.0 679.2h11M487.0 701.9h11M488.2 685.5h11M488.2 716.9h11" stroke="#ff4040" stroke-width="1.3" fill="none" stroke-opacity="1"/>
<path d="M127.0 700.5h11M127.0 734.9h11M128.2 698.5h11M128.2 732.5h11M129.4 701.0h11M129.4 736.1h11M130.6 706.1h11M130.6 736.2h11M244.6 940.6h11M244.6 989.6h11M245.8 945.4h11M245.8 994.0h11M257.8 944.7h11M257.8 981.5h11M370.6 631.0h11M370.6 672.3h11M371.8 633.4h11M371.8 659.8h11M373.0 625.9h11M373.0 662.3h11M374.2 632.4h11M374.2 669.5h11M375.4 623.5h11M375.4 664.8h11M376.6 630.3h11M376.6 656.5h11M454.6 633.6h11M454.6 658.2h11M455.8 627.2h11M455.8 659.1h11M457.0 638.9h11M457.0 661.1h11M489.4 686.2h11M489.4 709.4h11M490.6 690.2h11M490.6 712.6h11M491.8 686.8h11M491.8 711.0h11M493.0 697.5h11M493.0 720.0h11M494.2 693.9h11M494.2 716.3h11M897.4 733.9h11M897.4 761.3h11M898.6 718.4h11M898.6 745.5h11M899.8 730.2h11M899.8 762.7h11M901.0 728.1h11M901.0 751.8h11M902.2 724.3h11M902.2 752.1h11M903.4 726.4h11M903.4 757.0h11M904.6 717.8h11M904.6 743.2h11M905.8 716.4h11M905.8 740.5h11" stroke="#ff4040" stroke-width="1.3" fill="none" stroke-opacity="1"/>
<path d="M49.0 651.2h11M49.0 671.1h11M50.2 656.9h11M50.2 672.1h11M51.4 657.7h11M51.4 674.2h11M52.6 653.4h11M52.6 674.9h11M53.8 653.3h11M53.8 672.7h11M55.0 651.2h11M55.0 671.7h11M56.2 657.4h11M56.2 673.2h11M57.4 654.2h11M57.4 677.2h11M58.6 659.9h11M58.6 675.1h11M59.8 654.8h11M59.8 675.9h11M61.0 651.6h11M61.0 674.3h11M62.2 658.4h11M62.2 673.2h11M63.4 658.4h11M63.4 678.1h11M64.6 657.9h11M64.6 673.6h11M65.8 662.0h11M65.8 678.0h11M67.0 656.1h11M67.0 675.3h11M68.2 657.7h11M68.2 679.0h11M69.4 661.2h11M69.4 678.0h11M70.6 660.8h11M70.6 677.7h11M71.8 658.2h11M71.8 681.8h11M73.0 659.4h11M73.0 680.8h11M74.2 664.2h11M74.2 684.5h11M75.4 662.3h11M75.4 685.3h11M76.6 662.9h11M76.6 688.5h11M77.8 669.8h11M77.8 689.2h11M79.0 667.3h11M79.0 686.9h11M80.2 669.0h11M80.2 686.0h11M81.4 667.7h11M81.4 686.0h11M82.6 666.8h11M82.6 691.3h11M83.8 672.9h11M83.8 694.2h11M85.0 676.1h11M85.0 696.8h11M86.2 673.4h11M86.2 695.2h11M87.4 674.7h11M87.4 695.2h11M88.6 675.3h11M88.6 700.0h11M89.8 679.3h11M89.8 697.7h11M91.0 676.8h11M91.0 700.9h11M92.2 679.6h11M92.2 700.0h11M93.4 677.6h11M93.4 701.3h11M94.6 682.7h11M94.6 701.7h11M95.8 681.7h11M95.8 701.6h11M97.0 675.4h11M97.0 697.7h11M98.2 679.8h11M98.2 707.6h11M99.4 685.8h11M99.4 707.0h11M100.6 689.7h11M100.6 709.0h11M101.8 687.5h11M101.8 704.8h11M103.0 682.3h11M103.0 702.6h11M104.2 688.3h11M104.2 708.4h11M105.4 688.3h11M105.4 705.9h11M106.6 688.5h11M106.6 717.5h11M107.8 687.4h11M107.8 716.6h11M109.0 691.2h11M109.0 712.6h11M110.2 690.0h11M110.2 717.0h11M111.4 695.8h11M111.4 716.4h11M112.6 690.8h11M112.6 715.0h11M113.8 693.0h11M113.8 714.1h11M115.0 693.2h11M115.0 722.8h11M116.2 698.4h11M116.2 720.4h11M117.4 693.6h11M117.4 723.1h11M118.6 696.4h11M118.6 721.8h11M119.8 702.0h11M119.8 730.1h11M121.0 699.9h11M121.0 723.1h11M122.2 699.9h11M122.2 723.0h11M123.4 701.7h11M123.4 723.4h11M124.6 695.7h11M124.6 727.9h11M125.8 701.1h11M125.8 727.6h11M247.0 948.0h11M247.0 985.1h11M248.2 945.0h11M248.2 986.8h11M249.4 951.5h11M249.4 994.6h11M250.6 950.0h11M250.6 989.4h11M251.8 946.4h11M251.8 990.7h11M253.0 952.3h11M253.0 988.8h11M254.2 945.8h11M254.2 983.0h11M255.4 952.6h11M255.4 991.9h11M256.6 943.9h11M256.6 977.3h11M377.8 622.3h11M377.8 660.9h11M379.0 623.4h11M379.0 659.6h11M380.2 626.8h11M380.2 658.9h11M381.4 617.3h11M381.4 657.1h11M382.6 615.9h11M382.6 656.4h11M383.8 617.0h11M383.8 656.1h11M385.0 619.5h11M385.0 647.4h11M386.2 618.0h11M386.2 646.0h11M387.4 619.3h11M387.4 651.5h11M388.6 615.2h11M388.6 654.1h11M389.8 619.2h11M389.8 654.4h11M391.0 616.1h11M391.0 647.8h11M392.2 613.8h11M392.2 653.8h11M393.4 609.4h11M393.4 647.1h11M394.6 617.2h11M394.6 643.9h11M395.8 613.1h11M395.8 644.5h11M397.0 617.3h11M397.0 644.4h11M398.2 618.1h11M398.2 648.4h11M399.4 620.4h11M399.4 649.3h11M400.6 616.9h11M400.6 656.1h11M401.8 616.0h11M401.8 646.4h11M403.0 614.5h11M403.0 644.1h11M404.2 615.8h11M404.2 653.4h11M405.4 622.4h11M405.4 655.8h11M406.6 615.5h11M406.6 647.2h11M407.8 617.8h11M407.8 643.6h11M409.0 616.9h11M409.0 642.7h11M410.2 621.3h11M410.2 647.9h11M411.4 612.5h11M411.4 649.1h11M412.6 615.6h11M412.6 641.0h11M413.8 622.0h11M413.8 654.1h11M415.0 620.1h11M415.0 653.4h11M416.2 613.5h11M416.2 651.0h11M417.4 618.4h11M417.4 648.5h11M418.6 621.7h11M418.6 648.4h11M419.8 616.9h11M419.8 647.6h11M421.0 620.1h11M421.0 646.4h11M422.2 628.1h11M422.2 651.7h11M423.4 619.1h11M423.4 655.4h11M424.6 622.5h11M424.6 657.7h11M425.8 626.6h11M425.8 649.3h11M427.0 619.8h11M427.0 654.1h11M428.2 626.4h11M428.2 654.7h11M429.4 623.1h11M429.4 657.6h11M430.6 622.2h11M430.6 657.3h11M431.8 629.8h11M431.8 651.7h11M433.0 627.3h11M433.0 653.3h11M434.2 627.3h11M434.2 651.9h11M435.4 619.3h11M435.4 652.9h11M436.6 631.2h11M436.6 660.3h11M437.8 632.4h11M437.8 658.0h11M439.0 628.5h11M439.0 661.1h11M440.2 631.5h11M440.2 657.5h11M441.4 626.0h11M441.4 660.8h11M442.6 631.4h11M442.6 656.2h11M443.8 626.6h11M443.8 660.1h11M445.0 630.1h11M445.0 652.7h11M446.2 631.1h11M446.2 661.3h11M447.4 627.9h11M447.4 659.3h11M448.6 628.8h11M448.6 662.2h11M449.8 621.5h11M449.8 648.2h11M451.0 630.5h11M451.0 664.8h11M452.2 643.6h11M452.2 666.2h11M453.4 629.0h11M453.4 653.9h11M495.4 693.3h11M495.4 721.3h11M496.6 693.9h11M496.6 717.1h11M497.8 697.5h11M497.8 724.8h11M499.0 702.4h11M499.0 726.3h11M500.2 703.0h11M500.2 725.9h11M501.4 705.3h11M501.4 727.4h11M502.6 697.4h11M502.6 729.1h11M503.8 698.5h11M503.8 730.6h11M505.0 700.4h11M505.0 724.0h11M506.2 693.6h11M506.2 720.9h11M507.4 698.2h11M507.4 731.7h11M508.6 707.3h11M508.6 729.2h11M509.8 706.6h11M509.8 741.9h11M511.0 709.2h11M511.0 731.3h11M512.2 711.9h11M512.2 744.2h11M513.4 700.8h11M513.4 730.4h11M514.6 700.9h11M514.6 734.4h11M515.8 701.6h11M515.8 731.2h11M517.0 701.1h11M517.0 731.4h11M518.2 703.4h11M518.2 733.1h11M519.4 710.6h11M519.4 736.6h11M520.6 699.1h11M520.6 730.7h11M521.8 702.4h11M521.8 731.3h11M523.0 705.0h11M523.0 736.7h11M524.2 708.0h11M524.2 731.9h11M525.4 705.1h11M525.4 735.3h11M526.6 705.0h11M526.6 738.9h11M527.8 709.6h11M527.8 737.1h11M529.0 705.9h11M529.0 733.2h11M530.2 708.3h11M530.2 735.9h11M531.4 705.2h11M531.4 731.5h11M532.6 701.8h11M532.6 737.2h11M533.8 691.9h11M533.8 726.5h11M535.0 696.8h11M535.0 732.3h11M536.2 710.5h11M536.2 733.4h11M537.4 696.7h11M537.4 731.6h11M538.6 696.6h11M538.6 728.3h11M539.8 694.4h11M539.8 723.9h11M541.0 694.6h11M541.0 722.6h11M542.2 701.1h11M542.2 732.0h11M543.4 700.6h11M543.4 731.2h11M544.6 699.1h11M544.6 730.7h11M545.8 701.9h11M545.8 731.2h11M547.0 697.6h11M547.0 721.2h11M548.2 704.0h11M548.2 726.3h11M549.4 703.4h11M549.4 737.8h11M550.6 702.1h11M550.6 732.5h11M551.8 707.2h11M551.8 729.1h11M553.0 696.6h11M553.0 723.6h11M554.2 706.5h11M554.2 730.5h11M555.4 713.5h11M555.4 736.5h11M556.6 705.1h11M556.6 736.2h11M557.8 701.3h11M557.8 730.8h11M559.0 700.1h11M559.0 731.5h11M560.2 700.8h11M560.2 735.6h11M561.4 707.1h11M561.4 731.6h11M562.6 695.8h11M562.6 728.5h11M563.8 698.8h11M563.8 732.6h11M565.0 701.0h11M565.0 730.3h11M566.2 699.1h11M566.2 722.0h11M567.4 697.1h11M567.4 729.6h11M568.6 703.1h11M568.6 730.0h11M569.8 705.1h11M569.8 738.7h11M571.0 707.7h11M571.0 736.4h11M572.2 706.2h11M572.2 730.9h11M573.4 705.0h11M573.4 730.4h11M574.6 699.3h11M574.6 734.5h11M575.8 706.0h11M575.8 732.3h11M577.0 707.7h11M577.0 736.6h11M578.2 704.4h11M578.2 734.9h11M579.4 702.5h11M579.4 738.1h11M580.6 701.3h11M580.6 735.2h11M581.8 701.4h11M581.8 727.4h11M583.0 707.5h11M583.0 731.3h11M584.2 712.5h11M584.2 747.0h11M585.4 707.3h11M585.4 735.4h11M586.6 701.5h11M586.6 733.1h11M587.8 706.2h11M587.8 729.3h11M589.0 705.1h11M589.0 735.3h11M590.2 702.8h11M590.2 733.5h11M591.4 712.2h11M591.4 736.5h11M592.6 701.9h11M592.6 735.3h11M593.8 704.4h11M593.8 737.6h11M595.0 710.7h11M595.0 746.6h11M596.2 715.5h11M596.2 741.7h11M597.4 710.9h11M597.4 744.9h11M598.6 702.4h11M598.6 735.6h11M599.8 718.3h11M599.8 746.1h11M601.0 718.4h11M601.0 741.8h11M602.2 713.2h11M602.2 739.2h11M603.4 724.5h11M603.4 752.0h11M604.6 726.5h11M604.6 752.6h11M605.8 719.9h11M605.8 743.7h11M607.0 707.2h11M607.0 738.9h11M608.2 719.6h11M608.2 752.2h11M609.4 726.1h11M609.4 759.0h11M610.6 717.3h11M610.6 751.4h11M611.8 723.7h11M611.8 747.0h11M613.0 715.0h11M613.0 740.7h11M614.2 717.8h11M614.2 746.6h11M615.4 721.4h11M615.4 747.8h11M616.6 717.7h11M616.6 745.5h11M617.8 728.7h11M617.8 753.0h11M619.0 715.4h11M619.0 747.1h11M620.2 721.1h11M620.2 755.9h11M621.4 719.1h11M621.4 744.7h11M622.6 722.5h11M622.6 748.0h11M623.8 733.8h11M623.8 757.5h11M625.0 726.4h11M625.0 760.2h11M626.2 733.1h11M626.2 757.8h11M627.4 724.1h11M627.4 755.0h11M628.6 727.8h11M628.6 749.8h11M629.8 723.2h11M629.8 752.4h11M631.0 726.9h11M631.0 757.9h11M632.2 732.5h11M632.2 765.7h11M633.4 733.3h11M633.4 760.6h11M634.6 723.6h11M634.6 757.3h11M635.8 715.9h11M635.8 748.6h11M637.0 717.8h11M637.0 751.6h11M638.2 732.0h11M638.2 760.2h11M639.4 725.0h11M639.4 755.3h11M640.6 725.4h11M640.6 752.0h11M641.8 723.5h11M641.8 758.5h11M643.0 731.3h11M643.0 762.2h11M644.2 729.2h11M644.2 757.9h11M645.4 732.8h11M645.4 757.3h11M646.6 732.7h11M646.6 759.6h11M647.8 731.2h11M647.8 760.7h11M649.0 738.1h11M649.0 771.5h11M650.2 742.7h11M650.2 770.0h11M651.4 742.8h11M651.4 773.9h11M652.6 748.6h11M652.6 775.2h11M653.8 744.8h11M653.8 769.9h11M655.0 739.3h11M655.0 774.4h11M656.2 740.9h11M656.2 768.8h11M657.4 742.5h11M657.4 765.8h11M658.6 742.8h11M658.6 777.7h11M659.8 751.9h11M659.8 780.2h11M661.0 752.8h11M661.0 776.3h11M662.2 743.3h11M662.2 777.6h11M663.4 744.0h11M663.4 772.6h11M664.6 748.0h11M664.6 779.0h11M665.8 747.6h11M665.8 778.4h11M667.0 750.9h11M667.0 782.6h11M668.2 746.6h11M668.2 781.3h11M669.4 752.1h11M669.4 780.4h11M670.6 746.4h11M670.6 770.4h11M671.8 749.6h11M671.8 778.9h11M673.0 748.0h11M673.0 773.3h11M674.2 756.1h11M674.2 781.7h11M675.4 754.0h11M675.4 780.5h11M676.6 754.5h11M676.6 790.2h11M677.8 758.0h11M677.8 786.1h11M679.0 745.3h11M679.0 779.5h11M680.2 743.0h11M680.2 779.1h11M681.4 753.3h11M681.4 777.2h11M682.6 756.6h11M682.6 784.7h11M683.8 747.7h11M683.8 774.9h11M685.0 767.5h11M685.0 792.7h11M686.2 761.1h11M686.2 783.4h11M687.4 758.4h11M687.4 790.6h11M688.6 755.2h11M688.6 790.7h11M689.8 752.3h11M689.8 788.1h11M691.0 753.0h11M691.0 788.0h11M692.2 758.4h11M692.2 792.9h11M693.4 746.6h11M693.4 778.9h11M694.6 752.8h11M694.6 789.6h11M695.8 757.9h11M695.8 780.1h11M697.0 749.3h11M697.0 779.0h11M698.2 758.8h11M698.2 786.0h11M699.4 751.6h11M699.4 783.5h11M700.6 763.3h11M700.6 786.0h11M701.8 760.6h11M701.8 789.5h11M703.0 775.4h11M703.0 797.8h11M704.2 757.1h11M704.2 787.1h11M705.4 768.8h11M705.4 801.8h11M706.6 759.0h11M706.6 789.0h11M707.8 775.8h11M707.8 810.0h11M709.0 765.1h11M709.0 793.2h11M710.2 761.3h11M710.2 797.2h11M711.4 777.1h11M711.4 812.7h11M712.6 771.5h11M712.6 799.2h11M713.8 765.5h11M713.8 799.9h11M715.0 781.7h11M715.0 812.7h11M716.2 773.6h11M716.2 804.1h11M717.4 778.0h11M717.4 801.1h11M718.6 771.8h11M718.6 803.1h11M719.8 779.6h11M719.8 804.2h11M721.0 775.9h11M721.0 806.7h11M722.2 791.6h11M722.2 815.9h11M723.4 784.1h11M723.4 812.5h11M724.6 780.8h11M724.6 813.7h11M725.8 773.6h11M725.8 809.4h11M727.0 782.3h11M727.0 806.1h11M728.2 779.0h11M728.2 810.2h11M729.4 783.7h11M729.4 813.0h11M730.6 777.5h11M730.6 807.3h11M731.8 776.6h11M731.8 805.2h11M733.0 775.0h11M733.0 810.9h11M734.2 779.8h11M734.2 808.0h11M735.4 769.4h11M735.4 804.1h11M736.6 779.2h11M736.6 816.4h11M737.8 784.0h11M737.8 812.7h11M739.0 777.9h11M739.0 811.9h11M740.2 783.6h11M740.2 814.3h11M741.4 781.1h11M741.4 813.5h11M742.6 773.9h11M742.6 807.3h11M743.8 784.0h11M743.8 819.6h11M745.0 777.3h11M745.0 808.1h11M746.2 787.0h11M746.2 814.5h11M747.4 776.4h11M747.4 811.3h11M748.6 784.5h11M748.6 811.0h11M749.8 780.5h11M749.8 811.2h11M751.0 787.4h11M751.0 817.2h11M752.2 786.6h11M752.2 814.1h11M753.4 778.1h11M753.4 813.0h11M754.6 780.7h11M754.6 809.8h11M755.8 773.7h11M755.8 811.0h11M757.0 782.1h11M757.0 815.6h11M758.2 782.2h11M758.2 809.6h11M759.4 794.5h11M759.4 818.8h11M760.6 782.4h11M760.6 819.7h11M761.8 772.2h11M761.8 801.8h11M763.0 778.9h11M763.0 814.8h11M764.2 781.6h11M764.2 804.5h11M765.4 778.4h11M765.4 803.4h11M766.6 782.3h11M766.6 805.9h11M767.8 782.9h11M767.8 811.2h11M769.0 788.3h11M769.0 820.3h11M770.2 790.1h11M770.2 816.0h11M771.4 788.8h11M771.4 816.8h11M772.6 783.6h11M772.6 812.2h11M773.8 784.3h11M773.8 819.0h11M775.0 786.8h11M775.0 810.7h11M776.2 788.4h11M776.2 822.2h11M777.4 782.9h11M777.4 813.2h11M778.6 782.6h11M778.6 807.3h11M779.8 777.5h11M779.8 803.0h11M781.0 783.9h11M781.0 810.2h11M782.2 779.5h11M782.2 802.9h11M783.4 779.5h11M783.4 802.6h11M784.6 768.4h11M784.6 803.9h11M785.8 785.7h11M785.8 816.0h11M787.0 789.8h11M787.0 816.2h11M788.2 781.5h11M788.2 815.9h11M789.4 793.5h11M789.4 820.0h11M790.6 789.4h11M790.6 816.0h11M791.8 801.2h11M791.8 825.3h11M793.0 796.8h11M793.0 822.6h11M794.2 780.2h11M794.2 810.8h11M795.4 789.4h11M795.4 817.2h11M796.6 786.9h11M796.6 809.6h11M797.8 791.3h11M797.8 821.4h11M799.0 788.7h11M799.0 824.4h11M800.2 783.3h11M800.2 811.9h11M801.4 789.1h11M801.4 813.8h11M802.6 779.7h11M802.6 805.1h11M803.8 785.2h11M803.8 816.7h11M805.0 793.5h11M805.0 820.9h11M806.2 782.0h11M806.2 814.4h11M807.4 780.8h11M807.4 815.7h11M808.6 780.1h11M808.6 813.5h11M809.8 776.5h11M809.8 804.5h11M811.0 772.9h11M811.0 808.3h11M812.2 769.2h11M812.2 803.1h11M813.4 780.2h11M813.4 807.9h11M814.6 781.0h11M814.6 813.0h11M815.8 774.5h11M815.8 810.0h11M817.0 791.8h11M817.0 817.6h11M818.2 786.1h11M818.2 811.3h11M819.4 791.5h11M819.4 816.5h11M820.6 782.9h11M820.6 814.4h11M821.8 781.2h11M821.8 806.7h11M823.0 786.6h11M823.0 817.1h11M824.2 783.0h11M824.2 811.6h11M825.4 776.0h11M825.4 804.7h11M826.6 776.3h11M826.6 803.8h11M827.8 772.6h11M827.8 803.7h11M829.0 775.5h11M829.0 804.0h11M830.2 776.8h11M830.2 804.1h11M831.4 775.1h11M831.4 804.7h11M832.6 764.1h11M832.6 790.8h11M833.8 757.3h11M833.8 791.6h11M835.0 762.1h11M835.0 795.0h11M836.2 761.5h11M836.2 799.5h11M837.4 762.0h11M837.4 793.2h11M838.6 758.0h11M838.6 792.8h11M839.8 759.2h11M839.8 794.6h11M841.0 762.4h11M841.0 786.3h11M842.2 764.8h11M842.2 792.3h11M843.4 758.1h11M843.4 781.1h11M844.6 763.2h11M844.6 787.6h11M845.8 758.9h11M845.8 796.4h11M847.0 767.5h11M847.0 803.5h11M848.2 751.9h11M848.2 788.4h11M849.4 755.8h11M849.4 790.2h11M850.6 747.6h11M850.6 784.8h11M851.8 748.0h11M851.8 778.9h11M853.0 750.6h11M853.0 787.6h11M854.2 764.3h11M854.2 790.7h11M855.4 745.3h11M855.4 780.5h11M856.6 761.5h11M856.6 785.2h11M857.8 754.2h11M857.8 779.1h11M859.0 747.6h11M859.0 771.2h11M860.2 743.5h11M860.2 769.3h11M861.4 745.9h11M861.4 779.8h11M862.6 747.0h11M862.6 785.2h11M863.8 757.6h11M863.8 785.6h11M865.0 746.3h11M865.0 777.4h11M866.2 744.3h11M866.2 772.7h11M867.4 743.8h11M867.4 770.7h11M868.6 736.5h11M868.6 761.9h11M869.8 743.7h11M869.8 777.0h11M871.0 736.3h11M871.0 762.7h11M872.2 724.7h11M872.2 757.6h11M873.4 737.8h11M873.4 765.0h11M874.6 730.4h11M874.6 754.2h11M875.8 737.5h11M875.8 770.5h11M877.0 728.8h11M877.0 760.3h11M878.2 722.0h11M878.2 759.2h11M879.4 726.2h11M879.4 760.3h11M880.6 737.5h11M880.6 771.8h11M881.8 739.0h11M881.8 767.8h11M883.0 735.5h11M883.0 760.5h11M884.2 731.8h11M884.2 762.0h11M885.4 726.9h11M885.4 754.7h11M886.6 730.0h11M886.6 762.4h11M887.8 729.5h11M887.8 762.4h11M889.0 729.3h11M889.0 756.5h11M890.2 721.9h11M890.2 757.7h11M891.4 719.7h11M891.4 749.8h11M892.6 727.3h11M892.6 756.8h11M893.8 734.9h11M893.8 771.9h11M895.0 728.8h11M895.0 762.9h11M896.2 727.2h11M896.2 760.7h11M907.0 712.4h11M907.0 740.7h11M908.2 707.1h11M908.2 739.0h11M909.4 712.7h11M909.4 745.7h11M910.6 705.3h11M910.6 730.2h11M911.8 710.1h11M911.8 737.7h11M913.0 714.5h11M913.0 742.9h11M914.2 706.3h11M914.2 739.2h11M915.4 715.6h11M915.4 746.9h11M916.6 705.0h11M916.6 730.6h11M917.8 705.0h11M917.8 740.8h11M919.0 702.0h11M919.0 737.3h11M920.2 702.3h11M920.2 727.7h11M921.4 692.6h11M921.4 724.8h11M922.6 700.3h11M922.6 733.1h11M923.8 702.6h11M923.8 725.9h11M925.0 690.1h11M925.0 726.8h11M926.2 698.4h11M926.2 727.1h11M927.4 697.7h11M927.4 723.3h11M928.6 695.6h11M928.6 734.0h11M929.8 704.6h11M929.8 737.4h11M931.0 686.0h11M931.0 712.0h11M932.2 692.2h11M932.2 722.3h11M933.4 693.6h11M933.4 727.8h11M934.6 685.1h11M934.6 721.6h11M935.8 694.8h11M935.8 722.5h11M937.0 689.1h11M937.0 722.7h11M938.2 692.0h11M938.2 715.9h11M939.4 693.6h11M939.4 719.9h11M940.6 692.0h11M940.6 723.5h11M941.8 689.3h11M941.8 726.7h11M943.0 681.4h11M943.0 708.5h11M944.2 691.9h11M944.2 725.5h11M945.4 682.7h11M945.4 717.2h11M946.6 683.3h11M946.6 713.4h11M947.8 686.4h11M947.8 715.0h11M949.0 677.8h11M949.0 711.4h11M950.2 674.0h11M950.2 698.1h11M951.4 679.6h11M951.4 718.2h11M952.6 674.4h11M952.6 700.6h11M953.8 684.7h11M953.8 716.7h11M955.0 680.6h11M955.0 707.1h11M956.2 679.8h11M956.2 712.0h11M957.4 686.5h11M957.4 713.9h11M958.6 674.3h11M958.6 701.1h11M959.8 673.0h11M959.8 706.4h11M961.0 677.1h11M961.0 704.2h11M962.2 678.6h11M962.2 708.5h11M963.4 673.2h11M963.4 710.4h11M964.6 679.4h11M964.6 704.1h11M965.8 678.9h11M965.8 707.1h11M967.0 675.1h11M967.0 703.7h11M968.2 673.7h11M968.2 700.4h11M969.4 667.6h11M969.4 703.9h11M970.6 678.8h11M970.6 703.8h11M971.8 677.0h11M971.8 705.7h11M973.0 669.9h11M973.0 708.0h11M974.2 684.1h11M974.2 717.5h11M975.4 679.8h11M975.4 704.2h11M976.6 683.7h11M976.6 708.3h11M977.8 685.0h11M977.8 714.2h11M979.0 672.0h11M979.0 698.9h11M980.2 681.1h11M980.2 710.9h11M981.4 672.1h11M981.4 709.4h11M982.6 684.4h11M982.6 711.0h11M983.8 676.8h11M983.8 707.3h11M985.0 685.4h11M985.0 720.7h11M986.2 668.3h11M986.2 705.0h11M987.4 669.9h11M987.4 704.9h11M988.6 682.6h11M988.6 720.2h11M989.8 676.9h11M989.8 703.4h11M991.0 688.9h11M991.0 721.6h11M992.2 688.6h11M992.2 724.0h11M993.4 681.5h11M993.4 707.9h11M994.6 672.2h11M994.6 708.4h11M995.8 683.2h11M995.8 710.4h11M997.0 664.7h11M997.0 699.1h11M998.2 675.3h11M998.2 702.9h11M999.4 684.4h11M999.4 711.0h11M1000.6 680.3h11M1000.6 712.7h11M1001.8 669.2h11M1001.8 707.4h11M1003.0 666.5h11M1003.0 704.5h11M1004.2 666.4h11M1004.2 705.0h11M1005.4 677.2h11M1005.4 701.3h11M1006.6 672.2h11M1006.6 709.1h11M1007.8 682.1h11M1007.8 706.6h11M1009.0 665.6h11M1009.0 699.1h11M1010.2 675.9h11M1010.2 706.4h11M1011.4 674.8h11M1011.4 706.0h11M1012.6 675.2h11M1012.6 703.1h11M1013.8 674.3h11M1013.8 699.4h11M1015.0 665.3h11M1015.0 699.1h11M1016.2 667.9h11M1016.2 696.7h11M1017.4 671.2h11M1017.4 696.0h11M1018.6 669.9h11M1018.6 700.4h11M1019.8 660.4h11M1019.8 697.7h11M1021.0 678.2h11M1021.0 702.4h11M1022.2 667.6h11M1022.2 700.6h11M1023.4 676.5h11M1023.4 701.7h11M1024.6 675.3h11M1024.6 711.6h11M1025.8 668.8h11M1025.8 705.4h11M1027.0 671.8h11M1027.0 697.0h11M1028.2 681.4h11M1028.2 708.9h11M1029.4 684.4h11M1029.4 714.3h11M1030.6 671.6h11M1030.6 707.6h11M1031.8 682.7h11M1031.8 720.4h11M1033.0 673.2h11M1033.0 710.1h11M1034.2 676.2h11M1034.2 706.3h11M1035.4 674.9h11M1035.4 702.4h11M1036.6 669.8h11M1036.6 703.5h11M1037.8 662.7h11M1037.8 698.3h11M1039.0 668.1h11M1039.0 705.9h11M1040.2 673.5h11M1040.2 705.2h11M1041.4 678.0h11M1041.4 704.3h11M1042.6 680.9h11M1042.6 705.8h11M1043.8 672.3h11M1043.8 699.3h11M1045.0 671.4h11M1045.0 704.8h11M1046.2 672.4h11M1046.2 710.1h11M1047.4 661.6h11M1047.4 700.6h11M1048.6 673.2h11M1048.6 704.8h11M1049.8 657.5h11M1049.8 692.0h11M1051.0 673.7h11M1051.0 704.1h11M1052.2 670.8h11M1052.2 696.2h11M1053.4 665.5h11M1053.4 693.0h11M1054.6 664.6h11M1054.6 692.4h11M1055.8 681.9h11M1055.8 706.8h11M1057.0 678.8h11M1057.0 710.6h11M1058.2 676.2h11M1058.2 715.1h11M1059.4 677.7h11M1059.4 704.4h11M1060.6 681.1h11M1060.6 716.9h11M1061.8 669.0h11M1061.8 707.9h11M1063.0 682.8h11M1063.0 714.4h11M1064.2 685.4h11M1064.2 723.3h11M1065.4 679.4h11M1065.4 712.4h11M1066.6 662.1h11M1066.6 691.7h11M1067.8 671.2h11M1067.8 695.5h11M1069.0 678.7h11M1069.0 707.9h11M1070.2 670.6h11M1070.2 708.5h11M1071.4 681.9h11M1071.4 717.6h11M1072.6 673.6h11M1072.6 713.4h11M1073.8 671.3h11M1073.8 710.1h11M1075.0 682.9h11M1075.0 708.9h11M1076.2 679.3h11M1076.2 708.4h11M1077.4 671.0h11M1077.4 707.4h11M1078.6 683.9h11M1078.6 719.3h11M1079.8 677.0h11M1079.8 715.7h11M1081.0 680.7h11M1081.0 711.0h11M1082.2 674.0h11M1082.2 699.4h11M1083.4 687.2h11M1083.4 716.2h11M1084.6 674.8h11M1084.6 703.3h11M1085.8 686.6h11M1085.8 713.3h11M1087.0 682.6h11M1087.0 710.3h11M1088.2 683.7h11M1088.2 712.0h11M1089.4 675.7h11M1089.4 710.5h11M1090.6 684.9h11M1090.6 711.5h11M1091.8 684.3h11M1091.8 720.8h11M1093.0 694.3h11M1093.0 727.9h11M1094.2 692.4h11M1094.2 730.9h11M1095.4 687.8h11M1095.4 725.5h11M1096.6 682.9h11M1096.6 717.6h11M1097.8 703.6h11M1097.8 741.1h11M1099.0 687.5h11M1099.0 714.0h11M1100.2 687.7h11M1100.2 720.6h11M1101.4 694.7h11M1101.4 726.2h11M1102.6 691.5h11M1102.6 730.5h11M1103.8 681.0h11M1103.8 721.1h11M1105.0 691.9h11M1105.0 731.8h11M1106.2 696.7h11M1106.2 722.5h11M1107.4 689.0h11M1107.4 723.8h11M1108.6 696.4h11M1108.6 728.0h11M1109.8 701.2h11M1109.8 739.6h11M1111.0 685.4h11M1111.0 714.6h11M1112.2 684.8h11M1112.2 715.8h11M1113.4 683.5h11M1113.4 714.8h11M1114.6 709.1h11M1114.6 733.5h11M1115.8 699.0h11M1115.8 732.3h11M1117.0 700.5h11M1117.0 739.0h11M1118.2 703.5h11M1118.2 740.1h11M1119.4 697.3h11M1119.4 725.1h11M1120.6 717.0h11M1120.6 742.2h11M1121.8 711.1h11M1121.8 739.6h11M1123.0 699.4h11M1123.0 734.6h11M1124.2 697.3h11M1124.2 735.3h11M1125.4 692.3h11M1125.4 718.6h11M1126.6 685.5h11M1126.6 723.9h11M1127.8 684.9h11M1127.8 718.2h11M1129.0 689.1h11M1129.0 717.3h11M1130.2 696.3h11M1130.2 732.5h11M1131.4 697.1h11M1131.4 726.1h11M1132.6 703.8h11M1132.6 734.5h11M1133.8 704.1h11M1133.8 737.7h11M1135.0 707.7h11M1135.0 743.9h11M1136.2 716.9h11M1136.2 744.7h11M1137.4 705.2h11M1137.4 738.0h11M1138.6 702.7h11M1138.6 741.1h11M1139.8 699.8h11M1139.8 725.9h11M1141.0 700.2h11M1141.0 727.4h11M1142.2 695.3h11M1142.2 731.3h11M1143.4 710.1h11M1143.4 738.3h11M1144.6 697.2h11M1144.6 731.8h11M1145.8 707.4h11M1145.8 733.1h11M1147.0 703.6h11M1147.0 742.5h11M1148.2 718.9h11M1148.2 745.3h11M1149.4 705.7h11M1149.4 743.5h11M1150.6 706.9h11M1150.6 748.0h11M1151.8 714.1h11M1151.8 742.2h11M1153.0 707.1h11M1153.0 743.8h11M1154.2 714.3h11M1154.2 749.7h11M1155.4 714.1h11M1155.4 745.0h11M1156.6 720.9h11M1156.6 749.1h11M1157.8 711.3h11M1157.8 743.2h11M1159.0 710.7h11M1159.0 739.9h11M1160.2 708.8h11M1160.2 735.7h11M1161.4 713.9h11M1161.4 755.3h11M1162.6 704.5h11M1162.6 736.9h11M1163.8 714.9h11M1163.8 746.0h11M1165.0 712.5h11M1165.0 740.8h11M1166.2 714.5h11M1166.2 741.4h11M1167.4 720.3h11M1167.4 748.1h11M1168.6 719.8h11M1168.6 760.1h11M1169.8 727.6h11M1169.8 753.6h11M1171.0 717.8h11M1171.0 752.6h11M1172.2 721.4h11M1172.2 752.9h11M1173.4 706.4h11M1173.4 744.5h11M1174.6 705.5h11M1174.6 742.7h11M1175.8 714.1h11M1175.8 743.5h11M1177.0 726.3h11M1177.0 754.9h11M1178.2 719.9h11M1178.2 757.5h11M1179.4 720.1h11M1179.4 754.9h11M1180.6 716.2h11M1180.6 750.4h11M1181.8 708.1h11M1181.8 749.9h11M1183.0 714.3h11M1183.0 752.9h11M1184.2 714.3h11M1184.2 755.0h11M1185.4 705.7h11M1185.4 745.8h11M1186.6 730.6h11M1186.6 756.3h11M1187.8 719.9h11M1187.8 750.6h11M1189.0 724.8h11M1189.0 750.5h11M1190.2 729.2h11M1190.2 766.7h11M1191.4 714.9h11M1191.4 746.5h11M1192.6 715.1h11M1192.6 744.9h11M1193.8 710.4h11M1193.8 739.8h11M1195.0 706.8h11M1195.0 745.8h11M1196.2 714.4h11M1196.2 742.0h11M1197.4 734.4h11M1197.4 766.1h11M1198.6 734.8h11M1198.6 768.7h11M1199.8 735.9h11M1199.8 776.0h11M1201.0 721.8h11M1201.0 752.9h11M1202.2 732.6h11M1202.2 759.1h11M1203.4 729.7h11M1203.4 760.0h11M1204.6 715.6h11M1204.6 752.6h11M1205.8 726.4h11M1205.8 760.6h11M1207.0 720.7h11M1207.0 750.1h11M1208.2 728.4h11M1208.2 757.5h11M1209.4 724.7h11M1209.4 759.5h11M1210.6 729.2h11M1210.6 759.4h11M1211.8 732.2h11M1211.8 758.1h11M1213.0 723.8h11M1213.0 761.4h11M1214.2 714.9h11M1214.2 752.9h11M1215.4 721.9h11M1215.4 750.9h11M1216.6 709.6h11M1216.6 745.6h11M1217.8 710.4h11M1217.8 750.2h11M1219.0 716.7h11M1219.0 757.4h11M1220.2 724.6h11M1220.2 760.7h11M1221.4 705.6h11M1221.4 745.5h11M1222.6 715.3h11M1222.6 744.3h11M1223.8 718.0h11M1223.8 746.9h11M1225.0 728.9h11M1225.0 771.4h11M1226.2 732.5h11M1226.2 768.0h11M1227.4 728.9h11M1227.4 760.2h11M1228.6 736.6h11M1228.6 772.7h11M1229.8 727.2h11M1229.8 763.0h11M1231.0 722.6h11M1231.0 755.4h11M1232.2 739.3h11M1232.2 766.8h11M1233.4 739.7h11M1233.4 771.6h11M1234.6 746.9h11M1234.6 776.1h11M1235.8 725.6h11M1235.8 764.0h11M1237.0 731.7h11M1237.0 773.1h11M1238.2 743.9h11M1238.2 779.9h11M1239.4 727.2h11M1239.4 758.0h11M1240.6 731.7h11M1240.6 762.7h11M1241.8 732.7h11M1241.8 770.9h11M1243.0 736.1h11M1243.0 763.1h11M1244.2 725.8h11M1244.2 760.5h11M1245.4 735.3h11M1245.4 762.2h11M1246.6 726.0h11M1246.6 767.0h11M1247.8 730.3h11M1247.8 760.4h11M1249.0 741.8h11M1249.0 773.3h11M1250.2 739.2h11M1250.2 781.7h11M1251.4 727.6h11M1251.4 764.1h11M1252.6 722.3h11M1252.6 760.5h11M1253.8 733.5h11M1253.8 763.3h11M1255.0 735.2h11M1255.0 772.8h11M1256.2 713.2h11M1256.2 749.7h11M1257.4 731.4h11M1257.4 770.2h11M1258.6 742.6h11M1258.6 782.2h11M1259.8 745.4h11M1259.8 776.0h11M1261.0 728.9h11M1261.0 761.0h11M1262.2 722.6h11M1262.2 753.8h11M1263.4 731.1h11M1263.4 763.3h11M1264.6 726.2h11M1264.6 757.2h11M1265.8 727.0h11M1265.8 756.8h11M1267.0 736.5h11M1267.0 769.5h11M1268.2 735.8h11M1268.2 763.3h11M1269.4 737.7h11M1269.4 767.4h11M1270.6 737.7h11M1270.6 774.9h11M1271.8 727.5h11M1271.8 763.1h11M1273.0 737.1h11M1273.0 764.2h11M1274.2 736.7h11M1274.2 772.9h11M1275.4 739.7h11M1275.4 781.1h11M1276.6 742.6h11M1276.6 779.7h11M1277.8 742.8h11M1277.8 772.5h11M1279.0 729.2h11M1279.0 769.2h11M1280.2 734.6h11M1280.2 777.7h11M1281.4 741.5h11M1281.4 779.7h11M1282.6 746.2h11M1282.6 774.6h11M1283.8 732.6h11M1283.8 761.0h11M1285.0 739.5h11M1285.0 781.8h11M1286.2 765.1h11M1286.2 793.5h11M1287.4 749.5h11M1287.4 784.3h11M1288.6 752.3h11M1288.6 793.4h11M1289.8 755.4h11M1289.8 785.2h11M1291.0 755.3h11M1291.0 795.6h11M1292.2 753.0h11M1292.2 783.3h11M1293.4 751.7h11M1293.4 779.9h11M1294.6 742.7h11M1294.6 776.4h11M1295.8 747.7h11M1295.8 776.9h11M1297.0 756.3h11M1297.0 783.7h11M1298.2 738.3h11M1298.2 777.5h11M1299.4 750.9h11M1299.4 787.7h11M1300.6 751.5h11M1300.6 791.7h11M1301.8 741.9h11M1301.8 775.3h11M1303.0 756.9h11M1303.0 795.4h11M1304.2 752.7h11M1304.2 791.7h11M1305.4 751.8h11M1305.4 795.3h11M1306.6 747.9h11M1306.6 778.4h11M1307.8 745.9h11M1307.8 776.5h11M1309.0 739.0h11M1309.0 771.3h11M1310.2 742.0h11M1310.2 779.5h11M1311.4 737.9h11M1311.4 766.2h11M1312.6 739.2h11M1312.6 777.3h11M1313.8 751.3h11M1313.8 780.1h11M1315.0 755.9h11M1315.0 789.9h11M1316.2 749.3h11M1316.2 778.9h11M1317.4 761.7h11M1317.4 804.5h11M1318.6 748.7h11M1318.6 784.5h11M1319.8 750.0h11M1319.8 792.8h11M1321.0 740.6h11M1321.0 784.4h11" stroke="#ff4040" stroke-width="1.3" fill="none" stroke-opacity="1"/>
<path d="M54.5 661.1L55.7 664.5L56.9 666.0L58.1 664.2L59.3 663.0L60.5 661.5L61.7 665.3L62.9 665.7L64.1 667.5L65.3 665.4L66.5 663.0L67.7 665.8L68.9 668.2L70.1 665.7L71.3 670.0L72.5 665.7L73.7 668.3L74.9 669.6L76.1 669.2L77.3 670.0L78.5 670.1L79.7 674.3L80.9 673.8L82.1 675.7L83.3 679.5L84.5 677.1L85.7 677.5L86.9 676.9L88.1 679.1L89.3 683.5L90.5 686.5L91.7 684.3L92.9 685.0L94.1 687.7L95.3 688.5L96.5 688.9L97.7 689.8L98.9 689.4L100.1 692.2L101.3 691.6L102.5 686.5L103.7 693.7L104.9 696.4L106.1 699.3L107.3 696.1L108.5 692.4L109.7 698.3L110.9 697.1L112.1 703.0L113.3 702.0L114.5 701.9L115.7 703.5L116.9 706.1L118.1 702.9L119.3 703.6L120.5 708.0L121.7 709.4L122.9 708.4L124.1 709.1L125.3 716.1L126.5 711.5L127.7 711.5L128.9 712.6L130.1 711.8L131.3 714.4L132.5 717.7L133.7 715.5L134.9 718.5L136.1 721.1L137.3 720.1L138.5 724.5L139.7 722.7L140.9 727.1L142.1 726.3L143.3 735.0L144.5 731.8L145.7 732.6L146.9 738.0L148.1 740.4L149.3 745.6L150.5 743.6L151.7 748.3L152.9 751.0L154.1 752.2L155.3 755.4L156.5 762.4L157.7 760.4L158.9 767.4L160.1 768.6L161.3 768.2L162.5 770.5L163.7 775.3L164.9 778.0L166.1 782.8L167.3 782.5L168.5 788.0L169.7 790.6L170.9 797.9L172.1 797.5L173.3 801.4L174.5 802.2L175.7 807.6L176.9 808.4L178.1 813.6L179.3 811.7L180.5 812.7L181.7 817.3L182.9 818.9L184.1 821.6L185.3 826.9L186.5 830.5L187.7 835.9L188.9 836.3L190.1 836.4L191.3 837.0L192.5 846.3L193.7 848.2L194.9 850.7L196.1 851.4L197.3 851.1L198.5 854.3L199.7 860.5L200.9 862.8L202.1 864.0L203.3 871.0L204.5 870.2L205.7 876.2L206.9 872.4L208.1 877.8L209.3 882.1L210.5 884.4L211.7 890.3L212.9 889.3L214.1 890.5L215.3 892.8L216.5 897.6L217.7 900.8L218.9 898.4L220.1 900.4L221.3 904.3L222.5 907.9L223.7 906.7L224.9 910.4L226.1 913.0L227.3 917.2L228.5 918.6L229.7 925.6L230.9 923.0L232.1 926.2L233.3 931.8L234.5 933.6L235.7 934.0L236.9 938.1L238.1 940.5L239.3 945.8L240.5 948.4L241.7 952.6L242.9 950.1L244.1 954.1L245.3 961.2L246.5 958.4L247.7 958.0L248.9 962.4L250.1 965.1L251.3 969.7L252.5 966.6L253.7 965.9L254.9 973.1L256.1 969.7L257.3 968.6L258.5 970.6L259.7 964.4L260.9 972.2L262.1 960.6L263.3 963.1L264.5 961.7L265.7 959.3L266.9 962.1L268.1 961.3L269.3 953.3L270.5 954.9L271.7 950.3L272.9 940.3L274.1 938.5L275.3 934.8L276.5 934.0L277.7 924.9L278.9 924.0L280.1 921.0L281.3 919.0L282.5 915.5L283.7 909.6L284.9 904.7L286.1 905.4L287.3 899.2L288.5 894.9L289.7 896.0L290.9 888.5L292.1 884.4L293.3 886.8L294.5 875.8L295.7 871.2L296.9 872.0L298.1 863.3L299.3 856.5L300.5 855.0L301.7 851.0L302.9 850.4L304.1 841.5L305.3 836.0L306.5 834.5L307.7 831.1L308.9 821.5L310.1 827.5L311.3 820.9L312.5 812.9L313.7 810.1L314.9 806.8L316.1 801.6L317.3 799.8L318.5 792.8L319.7 794.0L320.9 790.2L322.1 787.7L323.3 786.2L324.5 778.5L325.7 779.8L326.9 769.1L328.1 766.7L329.3 765.5L330.5 756.8L331.7 753.6L332.9 750.2L334.1 747.3L335.3 745.7L336.5 747.2L337.7 738.8L338.9 738.6L340.1 732.8L341.3 731.9L342.5 730.1L343.7 725.9L344.9 716.7L346.1 713.1L347.3 716.4L348.5 707.4L349.7 706.2L350.9 701.0L352.1 702.3L353.3 700.1L354.5 696.5L355.7 690.9L356.9 690.5L358.1 682.9L359.3 684.9L360.5 671.4L361.7 673.4L362.9 669.9L364.1 669.3L365.3 661.8L366.5 664.5L367.7 659.1L368.9 658.0L370.1 656.3L371.3 655.1L372.5 657.4L373.7 646.3L374.9 650.6L376.1 651.7L377.3 646.6L378.5 644.1L379.7 651.0L380.9 644.1L382.1 643.4L383.3 641.6L384.5 641.5L385.7 642.8L386.9 637.2L388.1 636.1L389.3 636.5L390.5 633.4L391.7 632.0L392.9 635.4L394.1 634.7L395.3 636.8L396.5 632.0L397.7 633.8L398.9 628.2L400.1 630.6L401.3 628.8L402.5 630.8L403.7 633.3L404.9 634.9L406.1 636.5L407.3 631.2L408.5 629.3L409.7 634.6L410.9 639.1L412.1 631.3L413.3 630.7L414.5 629.8L415.7 634.6L416.9 630.8L418.1 628.3L419.3 638.0L420.5 636.7L421.7 632.3L422.9 633.5L424.1 635.1L425.3 632.3L426.5 633.2L427.7 639.9L428.9 637.3L430.1 640.1L431.3 638.0L432.5 636.9L433.7 640.5L434.9 640.4L436.1 639.7L437.3 640.8L438.5 640.3L439.7 639.6L440.9 636.1L442.1 645.7L443.3 645.2L444.5 644.8L445.7 644.5L446.9 643.4L448.1 643.8L449.3 643.3L450.5 641.4L451.7 646.2L452.9 643.6L454.1 645.5L455.3 634.8L456.5 647.7L457.7 654.9L458.9 641.5L460.1 645.9L461.3 643.2L462.5 650.0L463.7 651.9L464.9 654.7L466.1 662.5L467.3 660.2L468.5 658.0L469.7 660.6L470.9 661.4L472.1 659.8L473.3 667.4L474.5 666.9L475.7 672.2L476.9 673.5L478.1 671.8L479.3 675.3L480.5 676.1L481.7 682.6L482.9 684.2L484.1 679.8L485.3 685.1L486.5 689.2L487.7 691.0L488.9 695.6L490.1 697.8L491.3 695.8L492.5 690.6L493.7 701.2L494.9 697.8L496.1 701.4L497.3 698.9L498.5 708.8L499.7 705.1L500.9 707.3L502.1 705.5L503.3 711.2L504.5 714.3L505.7 714.4L506.9 716.3L508.1 713.2L509.3 714.6L510.5 712.2L511.7 707.3L512.9 714.9L514.1 718.3L515.3 724.2L516.5 720.3L517.7 728.1L518.9 715.6L520.1 717.7L521.3 716.4L522.5 716.3L523.7 718.3L524.9 723.6L526.1 714.9L527.3 716.8L528.5 720.9L529.7 720.0L530.9 720.2L532.1 721.9L533.3 723.3L534.5 719.5L535.7 722.1L536.9 718.4L538.1 719.5L539.3 709.2L540.5 714.6L541.7 721.9L542.9 714.1L544.1 712.5L545.3 709.2L546.5 708.6L547.7 716.5L548.9 715.9L550.1 714.9L551.3 716.6L552.5 709.4L553.7 715.1L554.9 720.6L556.1 717.3L557.3 718.1L558.5 710.1L559.7 718.5L560.9 725.0L562.1 720.6L563.3 716.0L564.5 715.8L565.7 718.2L566.9 719.4L568.1 712.1L569.3 715.7L570.5 715.6L571.7 710.6L572.9 713.4L574.1 716.6L575.3 721.9L576.5 722.0L577.7 718.5L578.9 717.7L580.1 716.9L581.3 719.2L582.5 722.2L583.7 719.7L584.9 720.3L586.1 718.2L587.3 714.4L588.5 719.4L589.7 729.7L590.9 721.3L592.1 717.3L593.3 717.7L594.5 720.2L595.7 718.1L596.9 724.4L598.1 718.6L599.3 721.0L600.5 728.6L601.7 728.6L602.9 727.9L604.1 719.0L605.3 732.2L606.5 730.1L607.7 726.2L608.9 738.3L610.1 739.5L611.3 731.8L612.5 723.1L613.7 735.9L614.9 742.5L616.1 734.3L617.3 735.3L618.5 727.9L619.7 732.2L620.9 734.6L622.1 731.6L623.3 740.9L624.5 731.3L625.7 738.5L626.9 731.9L628.1 735.3L629.3 745.7L630.5 743.3L631.7 745.5L632.9 739.5L634.1 738.8L635.3 737.8L636.5 742.4L637.7 749.1L638.9 747.0L640.1 740.4L641.3 732.2L642.5 734.7L643.7 746.1L644.9 740.2L646.1 738.7L647.3 741.0L648.5 746.7L649.7 743.5L650.9 745.0L652.1 746.2L653.3 745.9L654.5 754.8L655.7 756.3L656.9 758.3L658.1 761.9L659.3 757.4L660.5 756.8L661.7 754.8L662.9 754.2L664.1 760.2L665.3 766.0L666.5 764.6L667.7 760.4L668.9 758.3L670.1 763.5L671.3 763.0L672.5 766.7L673.7 764.0L674.9 766.2L676.1 758.4L677.3 764.3L678.5 760.7L679.7 768.9L680.9 767.2L682.1 772.4L683.3 772.1L684.5 762.4L685.7 761.1L686.9 765.3L688.1 770.6L689.3 761.3L690.5 780.1L691.7 772.2L692.9 774.5L694.1 773.0L695.3 770.2L696.5 770.5L697.7 775.7L698.9 762.7L700.1 771.2L701.3 769.0L702.5 764.1L703.7 772.4L704.9 767.6L706.1 774.6L707.3 775.1L708.5 786.6L709.7 772.1L710.9 785.3L712.1 774.0L713.3 792.9L714.5 779.2L715.7 779.2L716.9 794.9L718.1 785.4L719.3 782.7L720.5 797.2L721.7 788.9L722.9 789.5L724.1 787.4L725.3 791.9L726.5 791.3L727.7 803.7L728.9 798.3L730.1 797.3L731.3 791.5L732.5 794.2L733.7 794.6L734.9 798.4L736.1 792.4L737.3 790.9L738.5 793.0L739.7 793.9L740.9 786.8L742.1 797.8L743.3 798.4L744.5 794.9L745.7 798.9L746.9 797.3L748.1 790.6L749.3 801.8L750.5 792.7L751.7 800.8L752.9 793.9L754.1 797.8L755.3 795.8L756.5 802.3L757.7 800.4L758.9 795.6L760.1 795.3L761.3 792.4L762.5 798.9L763.7 795.9L764.9 806.6L766.1 801.0L767.3 787.0L768.5 796.8L769.7 793.0L770.9 790.9L772.1 794.1L773.3 797.0L774.5 804.3L775.7 803.0L776.9 802.8L778.1 797.9L779.3 801.6L780.5 798.8L781.7 805.3L782.9 798.1L784.1 795.0L785.3 790.2L786.5 797.1L787.7 791.2L788.9 791.1L790.1 786.2L791.3 800.9L792.5 803.0L793.7 798.7L794.9 806.7L796.1 802.7L797.3 813.2L798.5 809.7L799.7 795.5L800.9 803.3L802.1 798.2L803.3 806.4L804.5 806.5L805.7 797.6L806.9 801.4L808.1 792.4L809.3 800.9L810.5 807.2L811.7 798.2L812.9 798.3L814.1 796.8L815.3 790.5L816.5 790.6L817.7 786.1L818.9 794.0L820.1 797.0L821.3 792.2L822.5 804.7L823.7 798.7L824.9 804.0L826.1 798.6L827.3 793.9L828.5 801.8L829.7 797.3L830.9 790.4L832.1 790.0L833.3 788.2L834.5 789.7L835.7 790.5L836.9 789.9L838.1 777.5L839.3 774.4L840.5 778.6L841.7 780.5L842.9 777.6L844.1 775.4L845.3 776.9L846.5 774.4L847.7 778.5L848.9 769.6L850.1 775.4L851.3 777.6L852.5 785.5L853.7 770.1L854.9 773.0L856.1 766.2L857.3 763.5L858.5 769.1L859.7 777.5L860.9 762.9L862.1 773.3L863.3 766.6L864.5 759.4L865.7 756.4L866.9 762.8L868.1 766.1L869.3 771.6L870.5 761.8L871.7 758.5L872.9 757.2L874.1 749.2L875.3 760.3L876.5 749.5L877.7 741.1L878.9 751.4L880.1 742.3L881.3 754.0L882.5 744.5L883.7 740.6L884.9 743.3L886.1 754.7L887.3 753.4L888.5 748.0L889.7 746.9L890.9 740.8L892.1 746.2L893.3 746.0L894.5 742.9L895.7 739.8L896.9 734.7L898.1 742.0L899.3 753.4L900.5 745.9L901.7 743.9L902.9 747.6L904.1 732.0L905.3 746.5L906.5 740.0L907.7 738.2L908.9 741.7L910.1 730.5L911.3 728.4L912.5 726.5L913.7 723.0L914.9 729.2L916.1 717.7L917.3 723.9L918.5 728.7L919.7 722.7L920.9 731.2L922.1 717.8L923.3 722.9L924.5 719.7L925.7 715.0L926.9 708.7L928.1 716.7L929.3 714.3L930.5 708.5L931.7 712.7L932.9 710.5L934.1 714.8L935.3 721.0L936.5 699.0L937.7 707.2L938.9 710.7L940.1 703.3L941.3 708.7L942.5 705.9L943.7 703.9L944.9 706.8L946.1 707.7L947.3 708.0L948.5 695.0L949.7 708.7L950.9 699.9L952.1 698.3L953.3 700.7L954.5 694.6L955.7 686.0L956.9 698.9L958.1 687.5L959.3 700.7L960.5 693.9L961.7 695.9L962.9 700.2L964.1 687.7L965.3 689.7L966.5 690.7L967.7 693.5L968.9 691.8L970.1 691.7L971.3 693.0L972.5 689.4L973.7 687.0L974.9 685.7L976.1 691.3L977.3 691.4L978.5 688.9L979.7 700.8L980.9 692.0L982.1 696.0L983.3 699.6L984.5 685.5L985.7 696.0L986.9 690.7L988.1 697.7L989.3 692.1L990.5 703.0L991.7 686.6L992.9 687.4L994.1 701.4L995.3 690.2L996.5 705.3L997.7 706.3L998.9 694.7L1000.1 690.3L1001.3 696.8L1002.5 681.9L1003.7 689.1L1004.9 697.7L1006.1 696.5L1007.3 688.3L1008.5 685.5L1009.7 685.7L1010.9 689.3L1012.1 690.6L1013.3 694.4L1014.5 682.4L1015.7 691.2L1016.9 690.4L1018.1 689.2L1019.3 686.9L1020.5 682.2L1021.7 682.3L1022.9 683.6L1024.1 685.2L1025.3 679.1L1026.5 690.3L1027.7 684.1L1028.9 689.1L1030.1 693.4L1031.3 687.1L1032.5 684.4L1033.7 695.1L1034.9 699.3L1036.1 689.6L1037.3 701.6L1038.5 691.7L1039.7 691.2L1040.9 688.7L1042.1 686.7L1043.3 680.5L1044.5 687.0L1045.7 689.4L1046.9 691.1L1048.1 693.3L1049.3 685.8L1050.5 688.1L1051.7 691.3L1052.9 681.1L1054.1 689.0L1055.3 674.8L1056.5 688.9L1057.7 683.5L1058.9 679.3L1060.1 678.5L1061.3 694.4L1062.5 694.7L1063.7 695.6L1064.9 691.1L1066.1 699.0L1067.3 688.5L1068.5 698.6L1069.7 704.3L1070.9 695.9L1072.1 676.9L1073.3 683.3L1074.5 693.3L1075.7 689.5L1076.9 699.8L1078.1 693.5L1079.3 690.7L1080.5 695.9L1081.7 693.8L1082.9 689.2L1084.1 701.6L1085.3 696.4L1086.5 695.9L1087.7 686.7L1088.9 701.7L1090.1 689.0L1091.3 699.9L1092.5 696.5L1093.7 697.9L1094.9 693.1L1096.1 698.2L1097.3 702.5L1098.5 711.1L1099.7 711.6L1100.9 706.6L1102.1 700.3L1103.3 722.3L1104.5 700.8L1105.7 704.1L1106.9 710.5L1108.1 711.0L1109.3 701.1L1110.5 711.8L1111.7 709.6L1112.9 706.4L1114.1 712.2L1115.3 720.4L1116.5 700.0L1117.7 700.3L1118.9 699.2L1120.1 721.3L1121.3 715.6L1122.5 719.8L1123.7 721.8L1124.9 711.2L1126.1 729.6L1127.3 725.4L1128.5 717.0L1129.7 716.3L1130.9 705.4L1132.1 704.7L1133.3 701.5L1134.5 703.2L1135.7 714.4L1136.9 711.6L1138.1 719.2L1139.3 720.9L1140.5 725.8L1141.7 730.8L1142.9 721.6L1144.1 721.9L1145.3 712.9L1146.5 713.8L1147.7 713.3L1148.9 724.2L1150.1 714.5L1151.3 720.2L1152.5 723.0L1153.7 732.1L1154.9 724.6L1156.1 727.5L1157.3 728.1L1158.5 725.5L1159.7 732.0L1160.9 729.5L1162.1 735.0L1163.3 727.3L1164.5 725.3L1165.7 722.3L1166.9 734.6L1168.1 720.7L1169.3 730.5L1170.5 726.6L1171.7 727.9L1172.9 734.2L1174.1 739.9L1175.3 740.6L1176.5 735.2L1177.7 737.1L1178.9 725.5L1180.1 724.1L1181.3 728.8L1182.5 740.6L1183.7 738.7L1184.9 737.5L1186.1 733.3L1187.3 729.0L1188.5 733.6L1189.7 734.6L1190.9 725.8L1192.1 743.4L1193.3 735.3L1194.5 737.6L1195.7 747.9L1196.9 730.7L1198.1 730.0L1199.3 725.1L1200.5 726.3L1201.7 728.2L1202.9 750.2L1204.1 751.8L1205.3 755.9L1206.5 737.3L1207.7 745.9L1208.9 744.8L1210.1 734.1L1211.3 743.5L1212.5 735.4L1213.7 743.0L1214.9 742.1L1216.1 744.3L1217.3 745.1L1218.5 742.6L1219.7 733.9L1220.9 736.4L1222.1 727.6L1223.3 730.3L1224.5 737.0L1225.7 742.7L1226.9 725.5L1228.1 729.8L1229.3 732.5L1230.5 750.2L1231.7 750.2L1232.9 744.5L1234.1 754.7L1235.3 745.1L1236.5 739.0L1237.7 753.1L1238.9 755.6L1240.1 761.5L1241.3 744.8L1242.5 752.4L1243.7 761.9L1244.9 742.6L1246.1 747.2L1247.3 751.8L1248.5 749.6L1249.7 743.2L1250.9 748.8L1252.1 746.5L1253.3 745.4L1254.5 757.5L1255.7 760.5L1256.9 745.8L1258.1 741.4L1259.3 748.4L1260.5 754.0L1261.7 731.4L1262.9 750.8L1264.1 762.4L1265.3 760.7L1266.5 745.0L1267.7 738.2L1268.9 747.2L1270.1 741.7L1271.3 741.9L1272.5 753.0L1273.7 749.6L1274.9 752.5L1276.1 756.3L1277.3 745.3L1278.5 750.6L1279.7 754.8L1280.9 760.4L1282.1 761.1L1283.3 757.6L1284.5 749.2L1285.7 756.1L1286.9 760.6L1288.1 760.4L1289.3 746.8L1290.5 760.6L1291.7 779.3L1292.9 766.9L1294.1 772.9L1295.3 770.3L1296.5 775.4L1297.7 768.2L1298.9 765.8L1300.1 759.5L1301.3 762.3L1302.5 770.0L1303.7 757.9L1304.9 769.3L1306.1 771.6L1307.3 758.6L1308.5 776.2L1309.7 772.2L1310.9 773.6L1312.1 763.2L1313.3 761.2L1314.5 755.1L1315.7 760.8L1316.9 752.1L1318.1 758.3L1319.3 765.7L1320.5 772.9L1321.7 764.1L1322.9 783.1L1324.1 766.6L1325.3 771.4L1326.5 762.5" stroke="#ff0000" stroke-width="3.4" fill="none" stroke-linejoin="round"/>
</g>
<rect x="53.5" y="569.0" width="1276.0" height="478.8" fill="none" stroke="#000" stroke-width="3"/>
<line x1="53.6" y1="1049.3" x2="53.6" y2="1056.8" stroke="#000" stroke-width="3"/>
<line x1="285.4" y1="1049.3" x2="285.4" y2="1064.8" stroke="#000" stroke-width="3"/>
<line x1="517.2" y1="1049.3" x2="517.2" y2="1056.8" stroke="#000" stroke-width="3"/>
<line x1="749.0" y1="1049.3" x2="749.0" y2="1064.8" stroke="#000" stroke-width="3"/>
<line x1="980.8" y1="1049.3" x2="980.8" y2="1056.8" stroke="#000" stroke-width="3"/>
<line x1="1212.6" y1="1049.3" x2="1212.6" y2="1064.8" stroke="#000" stroke-width="3"/>
<text x="283.9" y="1101.9" font-size="37" text-anchor="middle">2</text>
<text x="747.5" y="1101.9" font-size="37" text-anchor="middle">4</text>
<text x="1211.1" y="1101.9" font-size="37" text-anchor="middle">6</text>
<text y="1136.8" font-size="32.5"><tspan x="646.5" font-style="italic">q</tspan><tspan x="672.6">(</tspan><tspan x="683.6">&#197;</tspan><tspan x="704.6" y="1127" font-size="21">-</tspan><tspan x="713.5" y="1127" font-size="21">1</tspan><tspan x="724.8" y="1136.8">)</tspan></text>
<rect x="980.9" y="880.5" width="290.7" height="117.1" fill="#fff" stroke="#222" stroke-width="1.6"/>
<line x1="986.5" y1="910" x2="1095.7" y2="910" stroke="#000" stroke-width="4.5"/>
<line x1="986.5" y1="969.4" x2="1095.7" y2="969.4" stroke="#ff0000" stroke-width="4.5"/>
<text x="1108" y="926.9" font-size="48">310 nm</text>
<text x="1107.5" y="986.5" font-size="48">267 nm</text>
</svg></body></html>
